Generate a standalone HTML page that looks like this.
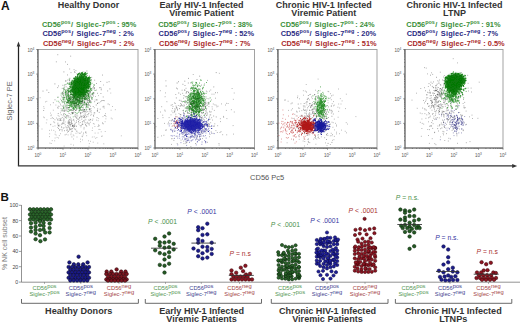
<!DOCTYPE html>
<html><head><meta charset="utf-8"><style>
html,body{margin:0;padding:0;background:#fff;width:520px;height:325px;overflow:hidden}
svg{display:block;font-family:"Liberation Sans", sans-serif}
</style></head><body>
<svg width="520" height="325" viewBox="0 0 520 325">
<text x="1" y="9.8" font-size="12" font-weight="bold" fill="#111">A</text>
<text x="0.5" y="200.9" font-size="11.6" font-weight="bold" fill="#111">B</text>
<text x="88.6" y="7.6" text-anchor="middle" font-size="9" font-weight="bold" fill="#333">Healthy Donor</text>
<text x="201.6" y="7.6" text-anchor="middle" font-size="9" font-weight="bold" fill="#333">Early HIV-1 Infected</text>
<text x="201.6" y="15.8" text-anchor="middle" font-size="9" font-weight="bold" fill="#333">Viremic Patient</text>
<text x="323.8" y="7.6" text-anchor="middle" font-size="9" font-weight="bold" fill="#333">Chronic HIV-1 Infected</text>
<text x="323.8" y="15.8" text-anchor="middle" font-size="9" font-weight="bold" fill="#333">Viremic Patient</text>
<text x="454.5" y="7.6" text-anchor="middle" font-size="9" font-weight="bold" fill="#333">Chronic HIV-1 Infected</text>
<text x="454.5" y="15.8" text-anchor="middle" font-size="9" font-weight="bold" fill="#333">LTNP</text>
<text x="42" y="26.9" font-size="7.4" font-weight="bold" fill="#3a8f3a">CD56<tspan dy="-3.1" font-size="5.4">pos</tspan><tspan dy="3.1" dx="0.4">/</tspan><tspan dx="0.9" letter-spacing="0.18"> Siglec-7</tspan><tspan dy="-3.1" font-size="5.4">pos</tspan><tspan dy="3.1" dx="-0.6"> : 95%</tspan></text>
<text x="42.4" y="35.9" font-size="7.4" font-weight="bold" fill="#2a2a82">CD56<tspan dy="-3.1" font-size="5.4">pos</tspan><tspan dy="3.1" dx="0.4">/</tspan><tspan dx="0.9" letter-spacing="0.18"> Siglec-7</tspan><tspan dy="-3.1" font-size="5.4">neg</tspan><tspan dy="3.1" dx="0.6"> : 2%</tspan></text>
<text x="42.9" y="45.6" font-size="7.4" font-weight="bold" fill="#aa2a2a">CD56<tspan dy="-3.1" font-size="5.4">neg</tspan><tspan dy="3.1" dx="0.4">/</tspan><tspan dx="0.9" letter-spacing="0.18"> Siglec-7</tspan><tspan dy="-3.1" font-size="5.4">neg</tspan><tspan dy="3.1" dx="0.6"> : 2%</tspan></text>
<text x="158.2" y="26.9" font-size="7.4" font-weight="bold" fill="#3a8f3a">CD56<tspan dy="-3.1" font-size="5.4">pos</tspan><tspan dy="3.1" dx="0.4">/</tspan><tspan dx="0.9" letter-spacing="0.18"> Siglec-7</tspan><tspan dy="-3.1" font-size="5.4">pos</tspan><tspan dy="3.1" dx="-0.6"> : 38%</tspan></text>
<text x="158.6" y="35.9" font-size="7.4" font-weight="bold" fill="#2a2a82">CD56<tspan dy="-3.1" font-size="5.4">pos</tspan><tspan dy="3.1" dx="0.4">/</tspan><tspan dx="0.9" letter-spacing="0.18"> Siglec-7</tspan><tspan dy="-3.1" font-size="5.4">neg</tspan><tspan dy="3.1" dx="0.6"> : 52%</tspan></text>
<text x="159.1" y="45.6" font-size="7.4" font-weight="bold" fill="#aa2a2a">CD56<tspan dy="-3.1" font-size="5.4">neg</tspan><tspan dy="3.1" dx="0.4">/</tspan><tspan dx="0.9" letter-spacing="0.18"> Siglec-7</tspan><tspan dy="-3.1" font-size="5.4">neg</tspan><tspan dy="3.1" dx="0.6"> : 7%</tspan></text>
<text x="280.3" y="26.9" font-size="7.4" font-weight="bold" fill="#3a8f3a">CD56<tspan dy="-3.1" font-size="5.4">pos</tspan><tspan dy="3.1" dx="0.4">/</tspan><tspan dx="0.9" letter-spacing="0.18"> Siglec-7</tspan><tspan dy="-3.1" font-size="5.4">pos</tspan><tspan dy="3.1" dx="-0.6"> : 24%</tspan></text>
<text x="280.7" y="35.9" font-size="7.4" font-weight="bold" fill="#2a2a82">CD56<tspan dy="-3.1" font-size="5.4">pos</tspan><tspan dy="3.1" dx="0.4">/</tspan><tspan dx="0.9" letter-spacing="0.18"> Siglec-7</tspan><tspan dy="-3.1" font-size="5.4">neg</tspan><tspan dy="3.1" dx="0.6"> : 20%</tspan></text>
<text x="281.2" y="45.6" font-size="7.4" font-weight="bold" fill="#aa2a2a">CD56<tspan dy="-3.1" font-size="5.4">neg</tspan><tspan dy="3.1" dx="0.4">/</tspan><tspan dx="0.9" letter-spacing="0.18"> Siglec-7</tspan><tspan dy="-3.1" font-size="5.4">neg</tspan><tspan dy="3.1" dx="0.6"> : 51%</tspan></text>
<text x="406.3" y="26.9" font-size="7.4" font-weight="bold" fill="#3a8f3a">CD56<tspan dy="-3.1" font-size="5.4">pos</tspan><tspan dy="3.1" dx="0.4">/</tspan><tspan dx="0.9" letter-spacing="0.18"> Siglec-7</tspan><tspan dy="-3.1" font-size="5.4">pos</tspan><tspan dy="3.1" dx="-0.6"> : 91%</tspan></text>
<text x="406.7" y="35.9" font-size="7.4" font-weight="bold" fill="#2a2a82">CD56<tspan dy="-3.1" font-size="5.4">pos</tspan><tspan dy="3.1" dx="0.4">/</tspan><tspan dx="0.9" letter-spacing="0.18"> Siglec-7</tspan><tspan dy="-3.1" font-size="5.4">neg</tspan><tspan dy="3.1" dx="0.6"> : 7%</tspan></text>
<text x="407.2" y="45.6" font-size="7.4" font-weight="bold" fill="#aa2a2a">CD56<tspan dy="-3.1" font-size="5.4">neg</tspan><tspan dy="3.1" dx="0.4">/</tspan><tspan dx="0.9" letter-spacing="0.18"> Siglec-7</tspan><tspan dy="-3.1" font-size="5.4">neg</tspan><tspan dy="3.1" dx="0.6"> : 0.5%</tspan></text>
<rect x="38" y="49.5" width="100" height="98.5" fill="none" stroke="#999" stroke-width="0.9"/>
<line x1="38" y1="49.1" x2="38" y2="148.4" stroke="#666" stroke-width="1.05"/>
<line x1="38" y1="148" x2="138" y2="148" stroke="#555" stroke-width="0.9"/>
<path d="M38 148.0h-1.8M38.0 148v1.8M38 140.6h-1M45.5 148v1M38 136.3h-1M49.9 148v1M38 133.2h-1M53.1 148v1M38 130.8h-1M55.5 148v1M38 128.8h-1M57.5 148v1M38 127.2h-1M59.1 148v1M38 125.8h-1M60.6 148v1M38 124.5h-1M61.9 148v1M38 123.4h-1.8M63.0 148v1.8M38 116.0h-1M70.5 148v1M38 111.6h-1M74.9 148v1M38 108.5h-1M78.1 148v1M38 106.2h-1M80.5 148v1M38 104.2h-1M82.5 148v1M38 102.6h-1M84.1 148v1M38 101.1h-1M85.6 148v1M38 99.9h-1M86.9 148v1M38 98.8h-1.8M88.0 148v1.8M38 91.3h-1M95.5 148v1M38 87.0h-1M99.9 148v1M38 83.9h-1M103.1 148v1M38 81.5h-1M105.5 148v1M38 79.6h-1M107.5 148v1M38 77.9h-1M109.1 148v1M38 76.5h-1M110.6 148v1M38 75.3h-1M111.9 148v1M38 74.1h-1.8M113.0 148v1.8M38 66.7h-1M120.5 148v1M38 62.4h-1M124.9 148v1M38 59.3h-1M128.1 148v1M38 56.9h-1M130.5 148v1M38 55.0h-1M132.5 148v1M38 53.3h-1M134.1 148v1M38 51.9h-1M135.6 148v1M38 50.6h-1M136.9 148v1M38 49.5h-1.8M138 148v1.8" stroke="#555" stroke-width="0.6" fill="none"/>
<text x="34.3" y="150.0" text-anchor="end" font-size="4.5" fill="#555">10<tspan dy="-1.8" font-size="3.2">0</tspan></text>
<text x="38.0" y="157.2" text-anchor="middle" font-size="4.5" fill="#555">10<tspan dy="-1.8" font-size="3.2">0</tspan></text>
<text x="34.3" y="125.4" text-anchor="end" font-size="4.5" fill="#555">10<tspan dy="-1.8" font-size="3.2">1</tspan></text>
<text x="63.0" y="157.2" text-anchor="middle" font-size="4.5" fill="#555">10<tspan dy="-1.8" font-size="3.2">1</tspan></text>
<text x="34.3" y="100.8" text-anchor="end" font-size="4.5" fill="#555">10<tspan dy="-1.8" font-size="3.2">2</tspan></text>
<text x="88.0" y="157.2" text-anchor="middle" font-size="4.5" fill="#555">10<tspan dy="-1.8" font-size="3.2">2</tspan></text>
<text x="34.3" y="76.1" text-anchor="end" font-size="4.5" fill="#555">10<tspan dy="-1.8" font-size="3.2">3</tspan></text>
<text x="113.0" y="157.2" text-anchor="middle" font-size="4.5" fill="#555">10<tspan dy="-1.8" font-size="3.2">3</tspan></text>
<text x="34.3" y="51.5" text-anchor="end" font-size="4.5" fill="#555">10<tspan dy="-1.8" font-size="3.2">4</tspan></text>
<text x="138.0" y="157.2" text-anchor="middle" font-size="4.5" fill="#555">10<tspan dy="-1.8" font-size="3.2">4</tspan></text>
<rect x="155" y="49.5" width="99.5" height="98.5" fill="none" stroke="#999" stroke-width="0.9"/>
<line x1="155" y1="49.1" x2="155" y2="148.4" stroke="#666" stroke-width="1.05"/>
<line x1="155" y1="148" x2="254.5" y2="148" stroke="#555" stroke-width="0.9"/>
<path d="M155 148.0h-1.8M155.0 148v1.8M155 140.6h-1M162.5 148v1M155 136.3h-1M166.9 148v1M155 133.2h-1M170.0 148v1M155 130.8h-1M172.4 148v1M155 128.8h-1M174.4 148v1M155 127.2h-1M176.0 148v1M155 125.8h-1M177.5 148v1M155 124.5h-1M178.7 148v1M155 123.4h-1.8M179.9 148v1.8M155 116.0h-1M187.4 148v1M155 111.6h-1M191.7 148v1M155 108.5h-1M194.9 148v1M155 106.2h-1M197.3 148v1M155 104.2h-1M199.2 148v1M155 102.6h-1M200.9 148v1M155 101.1h-1M202.3 148v1M155 99.9h-1M203.6 148v1M155 98.8h-1.8M204.8 148v1.8M155 91.3h-1M212.2 148v1M155 87.0h-1M216.6 148v1M155 83.9h-1M219.7 148v1M155 81.5h-1M222.1 148v1M155 79.6h-1M224.1 148v1M155 77.9h-1M225.8 148v1M155 76.5h-1M227.2 148v1M155 75.3h-1M228.5 148v1M155 74.1h-1.8M229.6 148v1.8M155 66.7h-1M237.1 148v1M155 62.4h-1M241.5 148v1M155 59.3h-1M244.6 148v1M155 56.9h-1M247.0 148v1M155 55.0h-1M249.0 148v1M155 53.3h-1M250.6 148v1M155 51.9h-1M252.1 148v1M155 50.6h-1M253.4 148v1M155 49.5h-1.8M254.5 148v1.8" stroke="#555" stroke-width="0.6" fill="none"/>
<text x="151.3" y="150.0" text-anchor="end" font-size="4.5" fill="#555">10<tspan dy="-1.8" font-size="3.2">0</tspan></text>
<text x="155.0" y="157.2" text-anchor="middle" font-size="4.5" fill="#555">10<tspan dy="-1.8" font-size="3.2">0</tspan></text>
<text x="151.3" y="125.4" text-anchor="end" font-size="4.5" fill="#555">10<tspan dy="-1.8" font-size="3.2">1</tspan></text>
<text x="179.9" y="157.2" text-anchor="middle" font-size="4.5" fill="#555">10<tspan dy="-1.8" font-size="3.2">1</tspan></text>
<text x="151.3" y="100.8" text-anchor="end" font-size="4.5" fill="#555">10<tspan dy="-1.8" font-size="3.2">2</tspan></text>
<text x="204.8" y="157.2" text-anchor="middle" font-size="4.5" fill="#555">10<tspan dy="-1.8" font-size="3.2">2</tspan></text>
<text x="151.3" y="76.1" text-anchor="end" font-size="4.5" fill="#555">10<tspan dy="-1.8" font-size="3.2">3</tspan></text>
<text x="229.6" y="157.2" text-anchor="middle" font-size="4.5" fill="#555">10<tspan dy="-1.8" font-size="3.2">3</tspan></text>
<text x="151.3" y="51.5" text-anchor="end" font-size="4.5" fill="#555">10<tspan dy="-1.8" font-size="3.2">4</tspan></text>
<text x="254.5" y="157.2" text-anchor="middle" font-size="4.5" fill="#555">10<tspan dy="-1.8" font-size="3.2">4</tspan></text>
<rect x="278" y="49.5" width="99" height="98.5" fill="none" stroke="#999" stroke-width="0.9"/>
<line x1="278" y1="49.1" x2="278" y2="148.4" stroke="#666" stroke-width="1.05"/>
<line x1="278" y1="148" x2="377" y2="148" stroke="#555" stroke-width="0.9"/>
<path d="M278 148.0h-1.8M278.0 148v1.8M278 140.6h-1M285.5 148v1M278 136.3h-1M289.8 148v1M278 133.2h-1M292.9 148v1M278 130.8h-1M295.3 148v1M278 128.8h-1M297.3 148v1M278 127.2h-1M298.9 148v1M278 125.8h-1M300.4 148v1M278 124.5h-1M301.6 148v1M278 123.4h-1.8M302.8 148v1.8M278 116.0h-1M310.2 148v1M278 111.6h-1M314.6 148v1M278 108.5h-1M317.7 148v1M278 106.2h-1M320.0 148v1M278 104.2h-1M322.0 148v1M278 102.6h-1M323.7 148v1M278 101.1h-1M325.1 148v1M278 99.9h-1M326.4 148v1M278 98.8h-1.8M327.5 148v1.8M278 91.3h-1M335.0 148v1M278 87.0h-1M339.3 148v1M278 83.9h-1M342.4 148v1M278 81.5h-1M344.8 148v1M278 79.6h-1M346.8 148v1M278 77.9h-1M348.4 148v1M278 76.5h-1M349.9 148v1M278 75.3h-1M351.1 148v1M278 74.1h-1.8M352.2 148v1.8M278 66.7h-1M359.7 148v1M278 62.4h-1M364.1 148v1M278 59.3h-1M367.2 148v1M278 56.9h-1M369.5 148v1M278 55.0h-1M371.5 148v1M278 53.3h-1M373.2 148v1M278 51.9h-1M374.6 148v1M278 50.6h-1M375.9 148v1M278 49.5h-1.8M377 148v1.8" stroke="#555" stroke-width="0.6" fill="none"/>
<text x="274.3" y="150.0" text-anchor="end" font-size="4.5" fill="#555">10<tspan dy="-1.8" font-size="3.2">0</tspan></text>
<text x="278.0" y="157.2" text-anchor="middle" font-size="4.5" fill="#555">10<tspan dy="-1.8" font-size="3.2">0</tspan></text>
<text x="274.3" y="125.4" text-anchor="end" font-size="4.5" fill="#555">10<tspan dy="-1.8" font-size="3.2">1</tspan></text>
<text x="302.8" y="157.2" text-anchor="middle" font-size="4.5" fill="#555">10<tspan dy="-1.8" font-size="3.2">1</tspan></text>
<text x="274.3" y="100.8" text-anchor="end" font-size="4.5" fill="#555">10<tspan dy="-1.8" font-size="3.2">2</tspan></text>
<text x="327.5" y="157.2" text-anchor="middle" font-size="4.5" fill="#555">10<tspan dy="-1.8" font-size="3.2">2</tspan></text>
<text x="274.3" y="76.1" text-anchor="end" font-size="4.5" fill="#555">10<tspan dy="-1.8" font-size="3.2">3</tspan></text>
<text x="352.2" y="157.2" text-anchor="middle" font-size="4.5" fill="#555">10<tspan dy="-1.8" font-size="3.2">3</tspan></text>
<text x="274.3" y="51.5" text-anchor="end" font-size="4.5" fill="#555">10<tspan dy="-1.8" font-size="3.2">4</tspan></text>
<text x="377.0" y="157.2" text-anchor="middle" font-size="4.5" fill="#555">10<tspan dy="-1.8" font-size="3.2">4</tspan></text>
<rect x="405" y="49.5" width="98" height="98.5" fill="none" stroke="#999" stroke-width="0.9"/>
<line x1="405" y1="49.1" x2="405" y2="148.4" stroke="#666" stroke-width="1.05"/>
<line x1="405" y1="148" x2="503" y2="148" stroke="#555" stroke-width="0.9"/>
<path d="M405 148.0h-1.8M405.0 148v1.8M405 140.6h-1M412.4 148v1M405 136.3h-1M416.7 148v1M405 133.2h-1M419.8 148v1M405 130.8h-1M422.1 148v1M405 128.8h-1M424.1 148v1M405 127.2h-1M425.7 148v1M405 125.8h-1M427.1 148v1M405 124.5h-1M428.4 148v1M405 123.4h-1.8M429.5 148v1.8M405 116.0h-1M436.9 148v1M405 111.6h-1M441.2 148v1M405 108.5h-1M444.3 148v1M405 106.2h-1M446.6 148v1M405 104.2h-1M448.6 148v1M405 102.6h-1M450.2 148v1M405 101.1h-1M451.6 148v1M405 99.9h-1M452.9 148v1M405 98.8h-1.8M454.0 148v1.8M405 91.3h-1M461.4 148v1M405 87.0h-1M465.7 148v1M405 83.9h-1M468.8 148v1M405 81.5h-1M471.1 148v1M405 79.6h-1M473.1 148v1M405 77.9h-1M474.7 148v1M405 76.5h-1M476.1 148v1M405 75.3h-1M477.4 148v1M405 74.1h-1.8M478.5 148v1.8M405 66.7h-1M485.9 148v1M405 62.4h-1M490.2 148v1M405 59.3h-1M493.3 148v1M405 56.9h-1M495.6 148v1M405 55.0h-1M497.6 148v1M405 53.3h-1M499.2 148v1M405 51.9h-1M500.6 148v1M405 50.6h-1M501.9 148v1M405 49.5h-1.8M503 148v1.8" stroke="#555" stroke-width="0.6" fill="none"/>
<text x="401.3" y="150.0" text-anchor="end" font-size="4.5" fill="#555">10<tspan dy="-1.8" font-size="3.2">0</tspan></text>
<text x="405.0" y="157.2" text-anchor="middle" font-size="4.5" fill="#555">10<tspan dy="-1.8" font-size="3.2">0</tspan></text>
<text x="401.3" y="125.4" text-anchor="end" font-size="4.5" fill="#555">10<tspan dy="-1.8" font-size="3.2">1</tspan></text>
<text x="429.5" y="157.2" text-anchor="middle" font-size="4.5" fill="#555">10<tspan dy="-1.8" font-size="3.2">1</tspan></text>
<text x="401.3" y="100.8" text-anchor="end" font-size="4.5" fill="#555">10<tspan dy="-1.8" font-size="3.2">2</tspan></text>
<text x="454.0" y="157.2" text-anchor="middle" font-size="4.5" fill="#555">10<tspan dy="-1.8" font-size="3.2">2</tspan></text>
<text x="401.3" y="76.1" text-anchor="end" font-size="4.5" fill="#555">10<tspan dy="-1.8" font-size="3.2">3</tspan></text>
<text x="478.5" y="157.2" text-anchor="middle" font-size="4.5" fill="#555">10<tspan dy="-1.8" font-size="3.2">3</tspan></text>
<text x="401.3" y="51.5" text-anchor="end" font-size="4.5" fill="#555">10<tspan dy="-1.8" font-size="3.2">4</tspan></text>
<text x="503.0" y="157.2" text-anchor="middle" font-size="4.5" fill="#555">10<tspan dy="-1.8" font-size="3.2">4</tspan></text>
<defs><filter id="sf" x="-5%" y="-5%" width="110%" height="110%"><feGaussianBlur stdDeviation="0.3"/></filter><filter id="cf" x="-50%" y="-50%" width="200%" height="200%"><feGaussianBlur stdDeviation="1.1"/></filter></defs>
<g filter="url(#sf)">
<path d="M76.6 137.0h0.8M96.8 110.9h0.8M70.9 110.6h0.8M85.7 117.2h0.8M88.7 92.1h0.8M102.6 116.6h0.8M87.6 116.1h0.8M69.6 124.5h0.8M90.0 115.2h0.8M73.4 127.6h0.8M61.2 96.8h0.8M82.7 108.6h0.8M43.4 106.6h0.8M68.1 101.3h0.8M50.6 118.5h0.8M91.3 114.7h0.8M63.4 123.4h0.8M88.2 113.8h0.8M85.3 132.6h0.8M72.5 106.6h0.8M81.9 121.5h0.8M94.7 100.0h0.8M64.8 106.3h0.8M46.5 119.8h0.8M85.0 107.7h0.8M99.6 129.5h0.8M86.7 123.6h0.8M92.2 99.4h0.8M86.4 126.4h0.8M45.9 122.9h0.8M71.7 128.9h0.8M68.5 117.7h0.8M81.8 105.7h0.8M86.2 116.5h0.8M84.4 110.7h0.8M94.5 126.5h0.8M73.0 126.8h0.8M97.4 143.1h0.8M49.2 130.4h0.8M83.9 116.7h0.8M58.9 135.6h0.8M54.6 125.9h0.8M98.1 95.6h0.8M70.9 99.7h0.8M80.1 139.2h0.8M110.4 93.1h0.8M66.2 127.8h0.8M102.8 123.9h0.8M63.3 122.2h0.8M75.7 115.1h0.8M63.5 123.4h0.8M81.2 116.7h0.8M72.2 100.0h0.8M67.7 134.9h0.8M72.8 97.8h0.8M98.7 125.4h0.8M111.8 118.9h0.8M68.2 97.7h0.8M62.0 108.9h0.8M86.1 106.4h0.8M71.4 113.1h0.8M79.3 133.3h0.8M76.4 130.9h0.8M68.9 122.6h0.8M39.7 97.7h0.8M89.5 109.7h0.8M85.9 125.6h0.8M98.5 129.4h0.8M93.3 116.4h0.8M64.1 107.8h0.8M67.7 102.2h0.8M66.7 116.7h0.8M80.3 113.3h0.8M43.3 117.0h0.8M79.8 133.2h0.8M85.8 109.0h0.8M63.7 146.1h0.8M88.9 143.6h0.8M112.2 106.5h0.8M82.5 124.4h0.8M85.5 125.6h0.8M79.4 120.4h0.8M50.5 115.7h0.8M63.3 119.8h0.8M68.1 126.7h0.8M89.9 122.3h0.8M81.4 119.3h0.8M68.4 115.7h0.8M67.6 123.4h0.8M76.2 126.1h0.8M53.4 130.4h0.8M63.0 107.7h0.8M72.6 110.1h0.8M80.9 110.0h0.8M57.8 106.2h0.8M98.3 118.6h0.8M56.2 118.1h0.8M49.5 143.1h0.8M50.1 124.7h0.8M85.2 97.7h0.8M81.1 132.0h0.8M83.9 121.7h0.8M92.1 120.3h0.8M81.7 116.2h0.8M86.7 104.8h0.8M89.5 110.9h0.8M57.5 123.1h0.8M104.8 131.5h0.8M67.2 127.8h0.8M68.3 116.3h0.8M77.5 85.6h0.8M79.3 103.6h0.8M64.1 97.4h0.8M50.2 104.8h0.8M90.0 141.3h0.8M75.6 133.3h0.8M71.5 91.2h0.8M78.5 124.2h0.8M68.7 122.2h0.8M85.7 105.9h0.8M50.9 114.9h0.8M72.4 113.1h0.8M92.8 142.2h0.8M68.9 127.8h0.8M92.0 128.0h0.8M93.8 112.6h0.8M88.6 146.3h0.8M89.7 109.3h0.8M86.3 135.7h0.8M82.3 110.1h0.8M102.2 100.5h0.8M84.6 117.8h0.8M55.7 135.1h0.8M81.9 101.7h0.8M86.2 112.0h0.8M43.7 108.4h0.8M80.5 126.9h0.8M78.8 118.6h0.8M84.0 115.0h0.8M96.0 120.1h0.8M81.0 125.6h0.8M58.0 108.1h0.8M102.0 122.7h0.8M71.2 122.8h0.8M67.8 121.9h0.8M64.7 121.9h0.8M49.2 136.6h0.8M67.3 95.9h0.8M72.2 112.8h0.8M78.6 102.0h0.8M54.3 122.7h0.8M70.7 120.7h0.8M45.2 101.9h0.8M83.8 117.5h0.8M103.8 108.1h0.8M63.0 105.3h0.8M75.4 117.4h0.8M90.4 119.8h0.8M63.1 121.0h0.8M120.9 135.8h0.8M61.1 126.7h0.8M73.1 145.1h0.8M91.8 130.5h0.8M79.2 117.4h0.8M81.8 136.1h0.8M85.1 113.1h0.8M97.7 120.7h0.8M74.7 106.9h0.8M66.4 109.1h0.8M85.6 115.0h0.8M93.8 124.1h0.8M82.3 83.4h0.8M72.0 125.5h0.8M103.4 143.8h0.8M100.2 101.7h0.8M38.6 126.0h0.8M76.5 131.5h0.8M73.9 121.1h0.8M50.5 124.3h0.8M68.4 122.9h0.8M83.8 116.4h0.8M81.4 117.8h0.8M88.9 125.0h0.8M66.7 109.8h0.8M105.6 116.6h0.8M92.9 123.5h0.8M66.4 107.5h0.8M78.0 121.6h0.8M86.4 100.3h0.8M65.9 116.7h0.8M103.2 85.0h0.8M83.5 110.4h0.8M83.3 111.1h0.8M82.2 139.9h0.8M82.0 124.1h0.8M82.3 107.5h0.8M85.2 115.1h0.8M62.2 117.5h0.8M72.1 128.5h0.8M75.3 110.6h0.8M100.8 131.8h0.8M97.6 126.5h0.8M74.1 112.1h0.8M71.3 131.3h0.8M77.9 97.2h0.8M75.3 98.2h0.8M78.8 101.1h0.8M54.5 119.7h0.8M74.7 94.7h0.8M50.8 143.5h0.8M64.3 111.1h0.8M73.0 97.8h0.8M98.1 124.9h0.8M63.2 114.1h0.8M50.2 113.1h0.8M91.9 94.0h0.8M68.6 120.1h0.8M93.8 136.9h0.8M68.2 107.6h0.8M83.7 112.9h0.8M70.7 133.1h0.8M104.7 121.7h0.8M72.7 126.0h0.8M43.9 117.7h0.8M88.2 120.0h0.8M72.7 82.8h0.8M88.1 140.8h0.8M63.6 127.6h0.8M88.3 96.3h0.8M91.9 137.0h0.8M79.9 117.1h0.8M89.4 96.4h0.8M77.6 132.8h0.8M54.9 131.9h0.8M68.9 88.9h0.8M74.2 104.4h0.8M81.4 101.6h0.8M93.9 107.7h0.8M82.1 109.7h0.8M70.5 134.7h0.8M79.7 112.5h0.8M54.7 134.2h0.8M88.5 113.4h0.8M80.1 103.6h0.8M58.7 106.4h0.8M82.0 122.1h0.8M63.3 128.3h0.8M89.3 120.4h0.8M93.7 114.0h0.8M74.1 124.6h0.8M75.4 129.1h0.8M54.7 138.0h0.8M62.7 115.7h0.8M52.6 126.4h0.8M97.7 133.0h0.8M90.2 96.2h0.8M62.7 111.5h0.8M60.1 133.7h0.8M79.1 117.7h0.8M84.3 104.7h0.8M60.6 105.7h0.8M84.5 122.8h0.8M85.8 133.1h0.8M52.9 110.2h0.8M78.5 99.1h0.8M67.0 132.2h0.8M94.7 133.1h0.8M76.7 115.0h0.8M94.4 112.8h0.8M81.8 136.6h0.8M69.8 109.5h0.8M75.8 126.4h0.8M84.2 120.2h0.8M85.5 95.6h0.8M61.4 120.3h0.8M60.2 99.2h0.8M55.5 105.1h0.8M73.0 103.7h0.8M80.0 141.7h0.8M73.5 135.8h0.8M80.9 102.3h0.8M71.6 104.3h0.8M89.1 101.9h0.8M98.5 126.1h0.8M41.6 129.0h0.8M102.4 106.9h0.8M92.7 92.8h0.8M80.3 94.7h0.8M84.2 93.0h0.8M114.9 109.7h0.8M90.1 119.5h0.8M70.5 126.6h0.8M103.9 100.7h0.8M85.6 122.8h0.8M51.8 140.6h0.8M109.1 104.7h0.8M105.5 118.8h0.8M73.2 139.0h0.8M79.9 122.5h0.8M101.8 136.0h0.8M91.2 98.4h0.8M49.3 133.8h0.8M60.2 120.1h0.8M57.7 115.4h0.8M54.3 140.8h0.8M58.7 116.3h0.8M72.8 134.9h0.8M51.9 117.5h0.8M72.4 125.4h0.8M84.0 111.5h0.8M80.1 112.8h0.8M84.0 116.6h0.8M64.9 117.6h0.8M67.6 122.3h0.8M100.9 88.9h0.8M46.4 101.4h0.8M82.7 134.9h0.8M72.2 83.5h0.8M79.1 99.8h0.8M95.0 96.5h0.8M95.3 138.3h0.8M63.0 102.5h0.8M90.4 102.7h0.8M90.7 101.3h0.8M89.7 119.3h0.8M68.6 105.5h0.8M80.0 91.5h0.8M71.3 112.5h0.8M87.5 100.4h0.8M105.1 113.6h0.8M56.7 137.4h0.8M104.3 115.4h0.8M60.9 118.2h0.8M64.3 113.6h0.8M102.5 123.5h0.8M78.5 122.8h0.8M75.0 129.8h0.8M90.9 112.8h0.8M83.2 115.4h0.8M110.8 118.1h0.8M57.3 127.4h0.8M60.7 111.0h0.8M81.5 116.2h0.8M63.0 110.3h0.8M65.9 134.3h0.8M63.7 110.0h0.8M110.7 110.2h0.8M101.3 136.4h0.8M73.4 98.1h0.8M83.7 127.4h0.8M92.5 119.0h0.8M96.5 137.5h0.8M58.1 138.0h0.8M79.0 110.1h0.8M70.6 144.3h0.8M92.7 93.0h0.8M77.4 116.0h0.8M73.0 110.8h0.8M51.2 130.1h0.8M60.0 112.8h0.8M65.8 107.8h0.8M88.6 123.4h0.8M64.5 104.8h0.8M68.0 131.5h0.8M78.1 121.3h0.8M70.4 114.4h0.8M79.7 92.2h0.8M103.4 107.0h0.8" stroke="#666" stroke-width="0.8" fill="none" opacity="0.6"/>
<path d="M64.0 130.7h0.8M69.6 124.2h0.8M63.9 116.2h0.8M69.3 130.0h0.8M61.7 130.8h0.8M60.1 120.3h0.8M71.5 124.0h0.8M72.8 120.3h0.8M60.8 114.7h0.8M59.6 118.6h0.8M58.0 125.5h0.8M63.4 114.1h0.8M85.4 119.8h0.8M59.2 130.2h0.8M76.2 118.2h0.8M57.7 119.0h0.8M75.9 122.4h0.8M62.3 123.9h0.8M76.4 117.1h0.8M65.3 117.1h0.8M83.2 133.1h0.8M74.7 123.3h0.8M72.6 113.5h0.8M69.9 117.3h0.8M58.7 120.5h0.8M65.5 126.9h0.8M72.9 125.3h0.8M61.4 127.4h0.8M67.2 129.9h0.8M61.6 110.2h0.8M64.7 134.8h0.8M71.3 123.0h0.8M74.2 126.5h0.8M71.2 121.4h0.8M68.5 125.0h0.8M63.5 118.4h0.8M69.0 128.8h0.8M72.5 126.5h0.8M71.5 136.9h0.8M69.8 129.2h0.8M81.7 124.3h0.8M69.9 129.2h0.8M79.8 125.6h0.8M70.5 124.5h0.8M59.6 129.6h0.8M66.2 115.4h0.8M67.0 115.4h0.8M61.0 124.1h0.8M61.6 129.4h0.8M57.8 125.3h0.8M71.9 131.3h0.8M74.5 125.2h0.8M68.6 123.7h0.8M76.0 120.8h0.8M71.7 123.6h0.8M69.8 122.7h0.8M83.0 120.8h0.8M69.8 125.4h0.8M72.3 126.3h0.8M71.1 129.0h0.8M57.5 124.1h0.8M59.4 125.2h0.8M59.8 119.3h0.8M67.7 131.0h0.8M72.1 125.5h0.8M77.9 119.3h0.8M53.4 121.9h0.8M66.1 130.2h0.8M83.1 117.4h0.8M85.4 131.9h0.8M74.0 125.9h0.8M85.1 124.5h0.8M64.8 124.8h0.8M58.5 126.4h0.8M67.3 125.7h0.8M70.6 118.8h0.8M77.3 119.0h0.8M74.3 116.1h0.8M70.7 120.0h0.8M68.4 120.8h0.8M52.8 118.5h0.8M68.6 127.2h0.8M57.8 113.5h0.8M62.0 123.0h0.8M63.7 120.0h0.8M74.1 128.9h0.8M73.3 119.4h0.8M68.6 123.1h0.8M58.1 128.5h0.8M68.7 121.7h0.8" stroke="#333" stroke-width="0.8" fill="none" opacity="0.6"/>
<path d="M97.2 103.4h0.8M90.5 108.6h0.8M88.8 79.0h0.8M75.5 106.2h0.8M71.0 94.6h0.8M84.9 111.5h0.8M95.8 105.0h0.8M77.9 105.1h0.8M86.5 92.2h0.8M96.5 100.1h0.8M71.1 109.4h0.8M77.1 101.3h0.8M61.9 93.9h0.8M68.8 82.5h0.8M57.2 119.9h0.8M78.3 97.0h0.8M93.4 92.7h0.8M86.3 77.8h0.8M82.5 89.1h0.8M86.1 96.3h0.8M63.5 71.9h0.8M67.9 103.0h0.8M85.2 98.9h0.8M55.9 61.8h0.8M72.6 90.1h0.8M72.8 98.3h0.8M78.0 79.8h0.8M69.5 95.8h0.8M80.9 93.2h0.8M107.3 90.9h0.8M81.5 82.1h0.8M75.7 100.3h0.8M86.8 92.1h0.8M84.8 94.7h0.8M57.4 54.7h0.8M107.7 104.0h0.8M79.3 73.1h0.8M64.7 110.3h0.8M46.5 90.1h0.8M90.4 95.7h0.8M89.1 92.4h0.8M108.7 81.7h0.8M63.7 97.3h0.8M97.2 93.3h0.8M92.6 87.6h0.8M65.8 110.8h0.8M98.8 112.4h0.8M74.7 80.1h0.8M66.0 91.3h0.8M87.0 100.1h0.8M62.8 96.3h0.8M80.2 95.1h0.8M79.7 91.6h0.8M87.1 95.5h0.8M82.7 85.7h0.8M84.7 92.5h0.8M54.6 99.8h0.8M76.8 105.1h0.8M78.1 92.9h0.8M82.5 93.9h0.8M74.6 72.5h0.8M102.1 75.1h0.8M75.9 101.8h0.8M84.6 100.8h0.8M89.2 109.2h0.8M83.6 128.9h0.8M67.8 96.7h0.8M75.7 87.5h0.8M83.4 111.5h0.8M71.5 85.5h0.8M88.7 100.5h0.8M103.5 106.3h0.8M82.8 90.0h0.8M82.6 91.9h0.8M63.6 94.1h0.8M77.9 91.2h0.8M74.8 114.3h0.8M88.4 105.2h0.8M72.7 81.7h0.8M76.6 96.9h0.8M75.9 91.7h0.8M91.5 97.6h0.8M68.2 88.9h0.8M72.1 96.2h0.8M66.0 91.9h0.8M88.3 94.3h0.8M69.0 86.6h0.8M81.5 99.8h0.8M90.0 92.3h0.8M64.2 111.1h0.8M83.6 98.9h0.8M83.7 81.6h0.8M76.2 97.1h0.8M92.4 94.7h0.8M42.6 91.1h0.8M84.2 109.5h0.8M88.5 123.9h0.8M97.1 110.2h0.8M91.3 77.4h0.8M90.2 101.2h0.8M73.7 101.0h0.8M85.0 88.4h0.8M78.5 90.8h0.8M82.8 88.9h0.8M86.5 71.0h0.8M76.6 73.8h0.8M74.2 100.2h0.8M80.3 92.7h0.8M80.8 112.8h0.8M66.7 104.7h0.8M61.8 88.4h0.8M82.0 83.8h0.8M82.5 102.7h0.8M65.7 93.1h0.8M75.5 70.7h0.8M77.8 84.4h0.8M96.1 83.5h0.8M100.4 87.6h0.8M103.3 100.5h0.8M85.4 103.7h0.8M90.8 110.8h0.8M100.8 89.8h0.8M65.0 61.9h0.8M75.4 103.1h0.8M84.5 95.4h0.8M75.8 86.3h0.8M76.6 98.7h0.8M58.8 102.7h0.8M62.5 92.1h0.8M72.4 89.6h0.8M67.4 80.1h0.8M77.2 80.9h0.8M109.5 88.9h0.8M72.1 87.3h0.8M67.1 64.4h0.8M76.8 97.6h0.8M61.9 94.0h0.8M65.4 93.5h0.8M84.2 99.7h0.8M85.1 85.5h0.8M90.5 88.5h0.8M84.1 102.4h0.8M76.3 78.5h0.8M87.3 80.5h0.8M69.2 80.7h0.8M90.0 91.9h0.8M52.9 102.7h0.8M104.7 115.5h0.8M73.1 94.8h0.8M86.0 104.6h0.8M80.3 80.7h0.8M88.9 101.3h0.8M63.9 89.5h0.8M83.1 93.8h0.8M86.2 103.4h0.8M86.4 92.5h0.8M63.7 101.3h0.8M96.7 117.6h0.8M79.5 93.4h0.8M97.2 111.1h0.8M83.9 102.4h0.8M70.7 100.9h0.8M69.9 92.1h0.8M78.4 88.2h0.8M54.5 83.9h0.8M83.8 93.1h0.8M75.1 99.0h0.8M88.1 104.0h0.8M70.1 94.1h0.8M75.8 83.3h0.8M61.8 92.6h0.8M69.3 119.6h0.8M78.6 91.1h0.8M75.0 116.3h0.8M68.5 91.9h0.8M70.6 92.3h0.8M79.4 107.0h0.8M62.8 93.5h0.8M99.2 87.7h0.8M77.7 83.2h0.8M48.4 92.5h0.8M93.9 88.2h0.8M57.6 97.0h0.8M80.7 105.8h0.8M90.7 90.6h0.8M84.6 72.2h0.8M93.2 96.0h0.8M92.8 106.5h0.8M76.3 92.0h0.8M69.3 69.0h0.8M78.2 95.6h0.8M66.8 102.3h0.8M81.0 99.2h0.8M70.6 72.6h0.8M89.1 101.1h0.8M78.5 88.7h0.8M76.5 92.2h0.8M73.7 69.7h0.8M89.2 75.9h0.8M75.8 90.1h0.8M82.9 74.4h0.8M94.3 101.7h0.8M89.1 109.0h0.8M70.3 56.2h0.8M83.8 109.6h0.8M93.8 87.5h0.8M78.8 97.3h0.8M58.2 85.9h0.8M72.3 112.9h0.8M72.1 112.8h0.8M80.1 73.8h0.8M106.6 82.3h0.8M87.4 114.5h0.8M73.6 79.2h0.8M92.5 94.8h0.8M65.3 81.0h0.8M75.3 105.6h0.8M76.6 101.9h0.8M99.8 109.2h0.8M97.3 108.8h0.8M60.7 108.7h0.8M83.9 92.5h0.8M67.0 74.9h0.8M66.7 93.7h0.8M65.9 84.2h0.8M72.6 102.0h0.8M76.5 92.2h0.8M95.9 90.1h0.8M87.2 81.3h0.8M83.9 95.4h0.8M82.1 88.4h0.8M67.6 90.4h0.8M74.4 106.4h0.8M90.9 79.6h0.8M87.5 88.2h0.8M85.5 88.2h0.8M62.3 106.2h0.8M85.4 79.3h0.8M57.3 87.6h0.8M65.8 89.6h0.8M87.4 111.6h0.8M75.7 110.5h0.8M94.0 88.8h0.8M60.0 104.2h0.8M87.3 122.3h0.8M97.2 103.4h0.8M100.3 81.5h0.8M82.4 90.8h0.8M101.0 100.8h0.8M43.3 110.5h0.8M69.2 103.4h0.8M74.4 97.1h0.8M87.8 96.5h0.8M68.7 110.9h0.8M84.9 94.0h0.8M88.6 87.8h0.8M102.8 96.9h0.8M84.6 98.4h0.8M69.3 80.1h0.8M82.8 98.4h0.8M96.4 99.6h0.8M67.2 100.5h0.8M90.2 106.3h0.8M84.2 79.6h0.8M94.2 85.4h0.8M87.1 75.4h0.8M89.4 84.8h0.8M93.2 115.4h0.8M94.3 80.2h0.8M68.9 83.8h0.8M88.2 98.4h0.8M82.1 97.9h0.8M87.2 102.0h0.8M100.5 93.5h0.8M82.6 71.9h0.8M64.3 85.8h0.8M65.9 96.8h0.8M92.6 88.9h0.8M74.3 88.0h0.8M81.7 87.6h0.8" stroke="#222" stroke-width="0.8" fill="none" opacity="0.55"/>
<path d="M74.4 102.8h0.8M73.9 105.6h0.8M72.2 101.9h0.8M81.7 100.7h0.8M76.4 101.3h0.8M69.5 98.3h0.8M67.5 101.1h0.8M68.7 98.5h0.8M78.7 100.2h0.8M78.3 102.6h0.8M76.7 97.3h0.8M72.8 116.8h0.8M76.5 107.0h0.8M73.3 106.1h0.8M65.6 95.9h0.8M74.3 105.9h0.8M69.7 99.8h0.8M70.0 99.8h0.8M65.4 92.4h0.8M71.5 90.5h0.8M66.6 97.0h0.8M66.1 102.3h0.8M69.5 100.4h0.8M66.3 96.4h0.8M74.7 103.1h0.8M69.3 103.0h0.8M72.9 101.8h0.8M80.6 98.4h0.8M74.2 103.4h0.8M70.6 93.8h0.8M75.6 102.4h0.8M72.1 100.9h0.8M71.9 95.4h0.8M73.4 90.0h0.8M71.6 91.8h0.8M69.8 105.0h0.8M70.3 97.8h0.8M74.6 99.1h0.8M69.5 98.3h0.8M80.0 104.7h0.8M74.4 93.5h0.8M75.1 92.9h0.8M74.3 94.0h0.8M82.4 90.6h0.8M78.4 105.5h0.8M61.9 99.2h0.8M79.6 107.5h0.8M62.5 97.5h0.8M65.2 94.5h0.8M68.1 111.7h0.8M72.4 99.3h0.8M69.8 104.6h0.8M75.5 95.1h0.8M79.7 94.1h0.8M70.1 103.3h0.8M81.1 98.5h0.8M73.2 108.4h0.8M75.1 107.4h0.8M77.4 102.2h0.8M75.1 106.1h0.8M71.5 110.2h0.8M60.7 95.1h0.8M79.6 103.2h0.8M68.1 102.9h0.8M77.6 97.3h0.8M75.9 99.9h0.8M71.0 100.2h0.8M77.8 93.9h0.8M69.6 104.6h0.8M64.9 91.1h0.8M74.8 100.6h0.8M70.8 101.5h0.8M66.3 118.1h0.8M66.2 98.0h0.8M63.8 98.1h0.8M80.0 100.7h0.8M74.9 97.7h0.8M81.6 101.6h0.8M64.8 105.2h0.8M69.6 104.3h0.8M72.4 102.2h0.8M72.4 95.2h0.8M63.4 106.5h0.8M70.9 102.3h0.8M69.1 88.5h0.8M64.6 109.0h0.8M67.3 98.3h0.8M63.6 97.4h0.8M69.6 99.3h0.8M71.2 96.8h0.8M68.5 100.5h0.8M73.4 99.7h0.8M81.2 101.8h0.8M72.5 96.7h0.8M77.3 94.4h0.8M62.7 94.7h0.8M75.0 93.7h0.8M78.7 100.4h0.8M63.3 99.2h0.8M81.4 95.4h0.8M64.4 103.6h0.8M78.8 106.7h0.8M69.8 101.7h0.8M73.4 107.6h0.8M83.4 99.9h0.8M78.8 98.5h0.8M74.8 95.0h0.8M67.4 103.1h0.8M66.7 105.9h0.8M68.6 101.0h0.8M71.1 98.6h0.8M72.3 107.0h0.8M88.7 93.4h0.8M73.3 99.5h0.8M66.6 102.3h0.8M66.8 100.1h0.8M78.4 88.4h0.8M73.0 103.3h0.8M66.3 103.7h0.8M73.5 98.5h0.8M78.3 92.7h0.8M75.1 99.2h0.8M65.8 99.5h0.8M69.7 105.5h0.8M63.4 99.4h0.8M69.1 110.0h0.8M65.5 106.9h0.8M61.9 102.6h0.8M70.8 102.8h0.8M67.7 88.8h0.8M63.1 108.4h0.8M72.7 95.3h0.8M76.5 96.0h0.8M67.5 93.2h0.8M78.0 112.3h0.8M66.2 102.2h0.8M76.9 113.2h0.8M58.3 101.3h0.8M75.1 91.6h0.8M73.7 101.6h0.8M75.5 96.9h0.8M73.8 96.8h0.8M74.8 101.4h0.8M69.4 91.9h0.8M80.5 107.1h0.8M76.3 96.4h0.8M69.5 110.4h0.8M75.6 95.3h0.8M71.7 101.3h0.8M70.4 94.8h0.8M78.4 104.0h0.8M70.4 91.0h0.8M68.3 100.4h0.8M76.3 98.3h0.8M77.6 101.3h0.8M67.4 83.7h0.8M65.1 91.6h0.8M70.7 102.5h0.8M79.2 100.4h0.8M65.2 114.6h0.8M73.3 99.0h0.8M70.1 92.4h0.8M75.1 102.8h0.8M80.3 107.2h0.8M76.4 108.1h0.8M70.1 97.9h0.8M71.4 93.1h0.8M70.9 98.6h0.8M75.3 100.5h0.8M61.2 100.8h0.8M79.5 89.6h0.8M67.5 100.8h0.8M64.4 97.4h0.8M72.0 92.8h0.8M73.3 103.1h0.8M64.7 100.9h0.8M77.7 99.7h0.8M74.1 104.6h0.8M70.5 106.6h0.8M73.9 94.8h0.8M74.6 105.9h0.8M76.2 96.9h0.8M74.3 109.0h0.8M73.1 107.9h0.8M79.0 100.6h0.8M75.5 99.1h0.8M77.7 100.3h0.8M68.8 100.7h0.8M71.5 103.1h0.8M74.4 93.9h0.8M68.3 103.0h0.8M74.5 101.4h0.8M86.4 107.6h0.8M71.5 105.3h0.8M79.3 103.1h0.8M62.3 101.5h0.8M72.2 113.7h0.8M61.9 110.2h0.8M71.1 106.6h0.8M70.4 102.1h0.8M78.2 101.5h0.8M77.8 100.5h0.8M69.8 99.7h0.8M69.3 100.3h0.8M79.5 94.0h0.8M62.9 101.0h0.8M81.3 107.4h0.8M79.4 108.6h0.8M68.1 101.8h0.8M57.5 97.5h0.8M75.4 91.8h0.8M60.8 93.3h0.8M73.3 108.1h0.8M86.4 109.7h0.8M63.8 87.3h0.8M73.0 107.6h0.8M63.3 98.1h0.8M69.7 101.5h0.8M71.3 104.4h0.8M78.1 101.7h0.8M76.4 113.3h0.8M66.7 95.1h0.8M75.1 112.5h0.8M73.3 107.9h0.8M70.7 106.9h0.8M68.9 105.5h0.8M74.6 103.8h0.8M80.0 107.9h0.8M69.2 106.8h0.8M63.1 107.5h0.8M87.6 104.7h0.8M75.3 102.0h0.8M77.1 98.9h0.8M76.3 100.0h0.8M70.3 102.4h0.8M72.3 91.3h0.8M84.1 102.6h0.8M63.3 108.2h0.8M72.5 103.0h0.8M76.6 96.4h0.8M56.5 101.2h0.8M74.0 107.8h0.8M68.5 100.2h0.8M74.9 99.9h0.8M71.3 103.3h0.8M67.2 111.3h0.8M67.6 102.0h0.8M70.9 97.5h0.8M75.6 107.8h0.8M80.7 105.2h0.8" stroke="#238c23" stroke-width="0.8" fill="none" opacity="0.75"/>
<path d="M73.5 100.1h0.9M69.3 91.2h0.9M80.7 100.0h0.9M75.7 79.5h0.9M91.3 94.1h0.9M71.7 80.3h0.9M75.6 103.6h0.9M75.4 103.7h0.9M79.0 98.4h0.9M86.4 93.4h0.9M81.9 91.6h0.9M72.7 97.7h0.9M73.2 92.6h0.9M73.9 91.3h0.9M72.2 101.3h0.9M79.1 94.6h0.9M77.4 97.1h0.9M82.2 97.3h0.9M67.9 105.4h0.9M81.4 92.1h0.9M70.1 94.1h0.9M76.7 88.6h0.9M79.4 95.6h0.9M69.6 101.4h0.9M75.3 82.0h0.9M80.3 95.1h0.9M80.3 90.2h0.9M80.5 88.9h0.9M65.6 95.2h0.9M72.6 89.0h0.9M83.3 95.2h0.9M73.4 92.1h0.9M88.2 94.4h0.9M65.8 98.9h0.9M73.1 89.4h0.9M86.3 89.9h0.9M74.2 95.9h0.9M76.4 94.9h0.9M72.7 89.9h0.9M75.9 78.0h0.9M88.8 100.9h0.9M87.4 87.5h0.9M78.9 91.3h0.9M67.6 94.0h0.9M74.4 89.7h0.9M65.7 97.3h0.9M82.4 98.0h0.9M74.1 86.6h0.9M87.4 93.8h0.9M79.9 94.8h0.9M66.7 102.5h0.9M64.8 90.1h0.9M82.6 79.9h0.9M79.2 98.0h0.9M81.3 86.6h0.9M78.2 103.0h0.9M75.0 107.3h0.9M81.9 101.2h0.9M89.6 91.1h0.9M73.6 95.9h0.9M77.5 106.4h0.9M85.5 97.2h0.9M80.8 91.4h0.9M77.4 88.6h0.9M85.9 91.5h0.9M75.7 93.6h0.9M75.8 90.1h0.9M63.1 91.0h0.9M76.0 94.1h0.9M86.4 79.4h0.9M85.0 79.8h0.9M81.6 98.6h0.9M75.7 95.1h0.9M88.3 94.6h0.9M69.1 102.8h0.9M81.2 93.7h0.9M77.1 96.2h0.9M75.8 95.3h0.9M81.9 89.6h0.9M76.4 96.3h0.9M79.8 100.0h0.9M83.4 98.3h0.9M83.5 92.6h0.9M74.3 102.0h0.9M64.9 92.5h0.9M76.6 107.9h0.9M91.3 90.2h0.9M74.4 79.2h0.9M84.6 92.3h0.9M78.0 95.7h0.9M79.9 98.8h0.9M84.2 81.0h0.9M88.6 91.6h0.9M78.9 88.8h0.9M76.3 92.4h0.9M80.0 84.0h0.9M85.9 90.8h0.9M87.9 95.4h0.9M72.7 95.2h0.9M87.2 88.1h0.9M72.6 104.1h0.9M74.5 84.2h0.9M83.3 84.1h0.9M79.2 99.5h0.9M81.4 97.9h0.9M68.6 95.8h0.9M88.2 90.6h0.9M85.9 92.7h0.9M78.8 96.8h0.9M64.6 101.6h0.9M73.3 90.6h0.9M74.1 95.9h0.9M81.4 94.6h0.9M87.1 99.1h0.9M77.6 90.4h0.9M75.4 84.5h0.9M79.5 103.2h0.9M87.8 107.1h0.9M73.3 93.8h0.9M67.6 96.0h0.9M82.8 89.4h0.9M78.7 91.2h0.9M70.6 102.5h0.9M85.1 97.2h0.9M70.0 110.1h0.9M75.1 95.7h0.9M76.2 97.9h0.9M76.6 98.1h0.9M70.6 89.6h0.9M90.7 88.5h0.9M70.3 102.8h0.9M78.2 102.9h0.9M63.5 89.2h0.9M74.3 79.3h0.9M77.9 103.9h0.9M72.0 81.0h0.9M75.2 91.0h0.9M83.6 91.9h0.9M77.2 104.3h0.9M72.5 85.8h0.9M89.6 91.0h0.9M79.7 81.5h0.9M71.6 97.0h0.9M77.0 80.8h0.9M69.3 105.9h0.9M81.4 89.1h0.9M78.3 97.1h0.9M84.7 79.0h0.9M81.2 92.2h0.9M88.1 84.3h0.9M86.9 91.7h0.9M63.4 99.7h0.9M74.0 94.8h0.9M74.3 101.5h0.9M82.6 104.7h0.9M88.0 81.8h0.9M66.8 90.6h0.9M70.8 94.5h0.9M83.7 82.0h0.9M75.0 81.4h0.9M73.2 89.2h0.9M79.1 105.4h0.9M73.7 86.1h0.9M86.2 103.9h0.9M71.3 91.8h0.9M68.7 107.6h0.9M78.3 95.5h0.9M74.3 81.9h0.9M75.9 86.3h0.9M75.8 95.4h0.9M77.1 101.6h0.9M68.9 91.4h0.9M75.4 106.4h0.9M76.1 95.1h0.9M71.8 94.4h0.9M83.0 88.9h0.9M75.7 91.6h0.9M85.7 85.1h0.9M85.3 92.4h0.9M77.6 86.9h0.9M83.5 90.9h0.9M75.3 99.2h0.9M85.0 87.8h0.9M85.9 98.5h0.9M69.2 98.7h0.9M75.0 98.9h0.9M73.7 94.6h0.9M66.6 92.1h0.9M67.9 90.6h0.9M81.9 98.6h0.9M89.6 87.2h0.9M84.2 109.7h0.9M72.9 83.7h0.9M74.8 91.4h0.9M83.2 92.3h0.9M68.9 98.2h0.9M72.9 101.3h0.9M83.0 91.7h0.9M83.9 102.3h0.9M79.9 78.7h0.9M73.0 96.6h0.9M71.7 106.6h0.9M79.6 95.1h0.9M83.7 86.8h0.9M79.6 87.3h0.9M84.7 91.2h0.9M82.0 80.7h0.9M72.3 97.8h0.9M80.6 89.0h0.9M88.8 96.1h0.9M72.8 101.3h0.9M65.4 93.2h0.9M73.4 83.9h0.9M73.6 92.3h0.9M78.3 95.6h0.9M75.8 104.7h0.9M87.6 102.7h0.9M84.6 91.7h0.9M69.5 95.1h0.9M76.2 99.9h0.9M70.0 90.2h0.9M89.1 84.2h0.9M80.7 75.4h0.9M78.3 95.6h0.9M72.7 102.4h0.9M87.7 96.3h0.9M77.8 90.2h0.9M71.7 102.4h0.9M81.0 90.9h0.9M75.4 96.8h0.9M74.9 94.6h0.9M74.3 103.8h0.9M90.3 84.4h0.9M75.4 98.3h0.9M73.2 98.4h0.9M79.0 98.6h0.9M77.2 95.3h0.9M86.3 82.5h0.9M75.4 82.6h0.9M88.8 99.5h0.9M80.5 95.3h0.9M77.3 85.8h0.9M85.2 92.1h0.9M88.4 98.4h0.9M79.8 91.5h0.9M77.9 93.1h0.9M70.1 92.3h0.9M85.8 87.5h0.9M75.7 87.9h0.9M78.5 92.2h0.9M78.3 95.3h0.9M85.6 90.9h0.9M81.8 91.4h0.9M80.2 85.5h0.9M71.8 94.8h0.9M82.1 98.6h0.9M73.2 94.0h0.9M77.5 95.2h0.9M87.5 92.6h0.9M86.2 91.9h0.9M83.3 91.2h0.9M76.3 105.6h0.9M76.1 86.8h0.9M75.5 94.9h0.9M67.0 83.1h0.9M69.8 85.0h0.9M81.5 85.6h0.9M79.6 76.7h0.9M82.0 87.7h0.9M82.7 104.3h0.9M74.0 88.3h0.9M76.8 99.5h0.9M67.8 88.8h0.9M91.2 97.1h0.9M80.1 93.9h0.9M68.0 98.1h0.9M79.9 95.4h0.9M81.1 101.5h0.9M64.7 92.7h0.9M74.3 93.3h0.9M76.5 84.8h0.9M85.0 95.7h0.9M77.6 90.5h0.9M79.3 93.6h0.9M75.0 99.0h0.9M90.4 89.4h0.9M91.2 99.0h0.9M83.5 90.6h0.9M70.6 103.7h0.9M77.6 92.4h0.9M81.4 110.3h0.9M69.4 88.7h0.9M73.4 108.3h0.9M78.7 101.7h0.9M87.3 94.1h0.9M86.5 90.4h0.9M78.0 100.8h0.9M79.6 103.7h0.9M73.5 105.1h0.9M81.5 93.0h0.9M77.0 102.1h0.9M80.1 95.1h0.9M68.0 94.8h0.9M73.8 109.2h0.9M79.2 93.7h0.9M72.8 98.7h0.9M79.7 88.3h0.9M79.0 85.2h0.9M88.9 90.5h0.9M89.2 86.4h0.9M75.6 103.2h0.9M83.5 91.3h0.9M79.3 89.2h0.9M73.3 104.8h0.9M73.9 93.0h0.9M70.0 102.7h0.9M75.5 101.1h0.9M84.5 91.3h0.9M80.9 103.8h0.9M69.4 97.5h0.9M87.2 85.4h0.9M83.8 91.0h0.9M84.3 96.1h0.9M68.1 100.6h0.9M80.6 85.9h0.9M82.3 87.0h0.9M81.9 95.1h0.9M74.7 99.1h0.9M67.8 99.4h0.9M81.1 92.9h0.9M72.6 97.3h0.9M78.5 92.8h0.9M87.2 93.6h0.9M76.2 97.5h0.9M86.6 96.0h0.9M80.0 95.4h0.9M79.6 108.4h0.9M73.3 91.3h0.9M77.0 99.3h0.9M89.1 98.1h0.9M77.2 104.3h0.9M73.1 85.4h0.9M76.1 93.5h0.9M82.1 91.0h0.9M92.8 93.1h0.9M74.5 102.9h0.9M84.2 96.3h0.9M79.2 102.1h0.9M77.1 99.8h0.9M72.7 92.9h0.9M70.7 83.3h0.9M67.7 101.8h0.9M75.1 95.8h0.9M73.5 90.6h0.9M79.7 86.8h0.9M89.6 83.0h0.9M73.4 92.6h0.9M68.6 90.3h0.9M65.5 95.1h0.9M81.1 78.0h0.9M74.9 78.1h0.9M74.5 100.3h0.9M79.7 83.4h0.9M72.9 92.8h0.9M91.5 83.3h0.9M73.8 102.7h0.9M74.4 82.0h0.9M79.3 88.9h0.9M76.8 88.3h0.9M80.0 86.0h0.9M80.9 94.2h0.9M66.4 105.8h0.9M67.9 96.3h0.9M72.6 94.6h0.9M79.6 101.8h0.9M90.7 90.1h0.9M77.3 80.5h0.9M76.4 99.9h0.9M87.3 97.7h0.9M76.0 92.4h0.9M84.3 96.0h0.9M68.3 96.9h0.9M69.4 83.4h0.9M86.4 98.8h0.9M80.0 95.2h0.9M85.9 95.9h0.9M64.9 91.0h0.9M86.3 106.1h0.9M75.9 92.0h0.9M76.4 102.2h0.9M76.2 84.7h0.9M74.1 93.3h0.9M81.7 91.2h0.9M86.9 87.3h0.9M80.3 87.9h0.9M68.3 101.3h0.9M79.6 84.7h0.9M82.0 85.7h0.9M80.2 102.1h0.9M88.8 87.6h0.9M72.3 108.5h0.9M73.6 103.6h0.9M93.1 86.2h0.9M84.7 102.9h0.9M79.6 109.7h0.9M81.6 95.6h0.9M83.9 92.5h0.9M88.1 78.6h0.9M92.0 93.7h0.9M81.5 97.7h0.9M79.1 94.9h0.9M84.1 80.6h0.9M71.6 102.2h0.9M75.0 82.6h0.9M89.3 97.5h0.9M78.3 100.6h0.9M82.8 94.4h0.9M71.1 84.2h0.9M64.0 102.8h0.9M76.6 91.2h0.9M80.6 94.5h0.9M84.1 89.8h0.9M75.3 87.9h0.9M75.0 87.1h0.9M76.6 99.6h0.9M70.8 93.2h0.9M70.6 101.6h0.9M70.1 91.2h0.9M87.4 84.1h0.9M78.9 94.8h0.9M73.9 89.6h0.9M84.5 97.7h0.9M76.5 90.6h0.9M77.8 104.6h0.9M81.7 101.1h0.9M93.6 84.6h0.9M76.1 99.2h0.9M71.2 84.5h0.9M74.7 98.4h0.9M67.5 92.0h0.9M82.8 95.9h0.9M75.9 103.5h0.9M80.1 93.4h0.9M74.4 97.5h0.9M74.7 97.6h0.9M75.9 102.4h0.9M73.1 91.8h0.9M79.6 97.2h0.9M84.9 98.9h0.9M78.8 111.0h0.9M87.2 86.6h0.9M67.1 95.0h0.9M75.2 94.5h0.9M73.6 103.1h0.9M89.7 86.9h0.9M81.2 91.3h0.9M68.0 95.1h0.9M76.3 96.2h0.9M87.0 92.4h0.9M67.1 100.2h0.9M76.4 92.7h0.9M75.7 92.9h0.9M76.1 94.0h0.9M83.9 84.1h0.9M68.5 84.1h0.9M79.4 86.2h0.9M74.6 83.0h0.9M76.2 91.0h0.9M69.3 84.5h0.9M81.1 92.7h0.9M70.5 86.7h0.9M76.1 98.8h0.9M65.7 94.3h0.9M74.8 93.2h0.9M85.4 87.4h0.9M73.4 89.9h0.9M84.7 90.1h0.9M71.1 83.7h0.9M77.5 102.8h0.9M76.0 88.8h0.9M77.6 91.1h0.9M73.4 86.8h0.9M79.5 93.9h0.9M81.4 84.6h0.9M76.8 85.6h0.9M81.0 106.6h0.9M76.0 106.0h0.9M77.3 89.6h0.9M69.2 91.3h0.9M75.1 92.2h0.9M82.2 91.8h0.9M71.1 89.6h0.9M77.8 92.7h0.9M83.4 92.5h0.9M71.6 105.7h0.9M85.6 94.5h0.9M73.6 86.9h0.9M78.4 100.3h0.9M80.4 90.3h0.9M80.1 90.0h0.9M68.5 98.4h0.9M75.6 103.3h0.9M74.4 93.8h0.9M88.2 79.7h0.9M67.7 95.8h0.9M84.4 78.7h0.9M76.7 83.0h0.9M70.9 104.1h0.9M69.0 107.7h0.9M79.0 86.7h0.9M86.0 104.3h0.9M82.0 105.4h0.9M69.8 82.7h0.9M80.9 95.9h0.9M84.6 91.2h0.9M80.0 101.4h0.9M79.3 102.0h0.9M81.5 90.0h0.9M79.6 94.8h0.9M68.1 91.7h0.9M78.3 95.2h0.9M73.7 96.0h0.9M84.8 89.4h0.9M78.5 100.4h0.9M86.2 87.9h0.9M71.9 91.2h0.9M75.6 85.1h0.9M84.1 91.0h0.9M73.6 86.6h0.9M70.6 82.0h0.9M77.6 91.8h0.9M73.3 84.4h0.9M72.5 91.7h0.9M81.0 82.4h0.9M84.5 88.5h0.9M83.5 86.2h0.9M80.6 92.2h0.9M77.2 96.5h0.9M80.7 94.8h0.9M83.0 82.8h0.9M84.1 75.0h0.9M64.6 84.6h0.9M72.5 103.7h0.9M79.4 102.7h0.9M75.0 95.2h0.9M84.3 99.4h0.9M80.3 94.2h0.9M74.9 83.3h0.9M67.9 92.4h0.9M78.5 86.7h0.9M82.3 89.0h0.9M79.7 110.2h0.9M83.3 88.3h0.9M84.7 84.5h0.9M90.2 82.1h0.9M76.2 89.8h0.9M79.3 82.9h0.9M80.8 94.0h0.9M69.6 84.7h0.9M77.1 100.7h0.9M75.1 94.9h0.9M74.5 96.7h0.9M76.1 86.8h0.9M75.8 86.0h0.9M80.8 96.3h0.9M75.1 90.2h0.9M74.2 96.9h0.9M78.6 108.7h0.9M82.5 100.4h0.9M76.8 100.7h0.9M76.2 104.8h0.9M70.3 99.3h0.9M81.6 92.4h0.9M76.7 84.4h0.9M86.7 107.0h0.9M78.7 94.8h0.9M79.1 76.7h0.9M68.5 83.9h0.9M80.9 83.3h0.9M82.2 99.0h0.9M84.6 79.4h0.9M77.2 92.2h0.9M89.3 102.5h0.9M71.3 104.8h0.9M84.5 99.2h0.9M77.7 99.7h0.9M87.9 97.0h0.9M75.3 97.1h0.9M75.9 91.9h0.9M76.3 95.2h0.9M79.0 93.8h0.9M76.3 96.3h0.9M72.3 99.6h0.9M66.8 90.6h0.9M85.2 83.9h0.9M71.8 102.5h0.9M80.2 85.6h0.9M77.4 98.1h0.9M92.0 97.9h0.9M81.4 87.8h0.9M78.2 92.6h0.9M81.9 99.2h0.9M74.9 87.4h0.9M90.4 88.6h0.9M78.7 107.8h0.9M82.1 96.6h0.9M86.4 99.1h0.9M79.0 91.4h0.9M84.0 101.3h0.9M89.6 94.0h0.9M77.7 88.8h0.9M82.4 88.1h0.9M83.6 97.9h0.9M77.7 94.0h0.9M74.6 95.1h0.9M67.5 89.6h0.9M81.7 98.5h0.9M81.4 82.4h0.9M84.5 92.6h0.9M78.6 92.3h0.9M77.5 86.1h0.9M78.4 81.2h0.9M80.6 92.2h0.9M90.4 80.9h0.9M86.4 95.2h0.9M79.8 86.1h0.9M77.5 79.1h0.9M85.0 93.4h0.9M80.8 101.3h0.9M75.9 89.9h0.9M73.2 100.3h0.9M78.9 94.6h0.9M83.4 94.1h0.9M94.6 90.5h0.9M82.7 107.2h0.9M68.5 97.1h0.9M77.8 100.6h0.9M69.9 92.1h0.9M73.0 88.0h0.9M88.2 95.3h0.9M68.0 98.4h0.9M78.4 78.9h0.9M85.1 97.7h0.9M83.1 87.4h0.9M88.2 95.4h0.9M68.8 79.2h0.9M73.4 89.7h0.9M85.6 89.0h0.9M68.1 109.2h0.9M80.6 89.0h0.9M82.4 83.1h0.9M79.2 102.0h0.9M71.8 99.6h0.9M75.7 94.6h0.9M76.0 84.8h0.9M68.0 91.2h0.9M77.4 90.3h0.9M74.5 81.0h0.9M73.0 95.2h0.9M82.5 88.3h0.9M75.3 107.7h0.9M73.3 109.4h0.9M77.5 104.7h0.9M71.6 101.1h0.9M70.0 92.1h0.9M82.1 76.2h0.9M66.2 98.8h0.9M78.0 104.5h0.9M81.8 89.0h0.9M76.5 88.2h0.9M76.2 83.5h0.9M85.4 99.5h0.9M75.4 88.0h0.9M83.8 98.3h0.9M83.3 83.6h0.9M78.9 82.8h0.9M63.3 95.5h0.9M77.5 88.9h0.9M70.0 96.7h0.9M90.5 102.6h0.9M88.2 85.2h0.9M79.0 95.1h0.9M88.2 96.6h0.9M72.5 90.1h0.9M71.4 103.4h0.9M81.8 97.2h0.9M77.2 100.1h0.9M77.9 84.4h0.9M62.6 97.9h0.9M79.9 99.2h0.9M73.9 106.3h0.9M68.5 100.1h0.9M74.2 87.2h0.9M70.2 90.7h0.9M75.3 95.6h0.9M78.6 80.3h0.9M78.4 104.4h0.9M83.4 94.1h0.9M86.0 80.2h0.9M72.8 101.2h0.9M83.9 87.0h0.9M84.4 93.8h0.9M87.3 83.3h0.9M74.0 94.1h0.9M78.8 97.9h0.9M78.9 91.1h0.9M79.0 100.8h0.9M69.4 86.6h0.9M76.6 93.5h0.9M88.9 84.6h0.9M86.9 80.2h0.9M75.0 86.8h0.9M78.4 87.2h0.9M76.0 88.8h0.9M82.0 77.4h0.9M70.5 85.9h0.9M79.0 102.0h0.9M72.7 92.3h0.9M82.5 95.5h0.9M71.8 89.5h0.9M82.2 81.5h0.9M67.0 99.4h0.9M63.3 88.8h0.9M72.7 103.2h0.9M84.9 87.4h0.9M88.3 91.3h0.9M75.7 98.8h0.9M82.2 86.1h0.9M84.2 98.7h0.9M80.9 103.4h0.9M84.7 104.4h0.9M77.6 93.4h0.9M81.5 92.9h0.9M71.6 107.1h0.9M76.2 109.1h0.9M73.6 90.8h0.9M76.8 88.8h0.9M76.9 91.3h0.9M70.5 106.2h0.9M85.0 88.7h0.9M72.8 97.6h0.9M83.8 89.4h0.9M88.6 83.8h0.9M70.4 105.5h0.9M85.3 94.2h0.9M76.0 84.1h0.9M80.6 88.6h0.9M78.8 91.8h0.9M85.1 80.5h0.9M77.5 89.6h0.9M79.0 85.2h0.9M62.4 92.8h0.9M78.5 107.7h0.9M83.5 91.4h0.9M85.1 84.9h0.9M80.4 92.7h0.9M68.1 100.2h0.9M84.4 99.3h0.9M79.1 108.0h0.9M81.5 82.0h0.9M70.3 96.3h0.9M84.3 81.8h0.9M86.5 97.9h0.9M85.8 105.8h0.9M75.4 92.8h0.9M76.2 84.7h0.9M75.1 96.3h0.9M90.0 89.3h0.9M83.0 95.1h0.9M73.9 101.6h0.9M72.3 103.2h0.9M79.1 85.1h0.9M87.8 83.5h0.9M71.4 89.0h0.9M79.4 91.1h0.9" stroke="#238c23" stroke-width="0.9" fill="none" opacity="0.8"/>
<path d="M62.5 85.3h0.8M81.0 102.1h0.8M69.7 99.6h0.8M78.8 106.4h0.8M71.8 110.3h0.8M75.0 110.2h0.8M84.1 88.3h0.8M74.9 99.9h0.8M84.8 84.9h0.8M73.5 102.9h0.8M80.8 87.9h0.8M70.6 101.2h0.8M69.6 99.4h0.8M84.1 97.4h0.8M57.2 107.8h0.8M85.8 110.0h0.8M83.7 82.2h0.8M87.8 100.4h0.8M84.3 95.9h0.8M75.4 95.2h0.8M89.2 99.8h0.8M75.7 85.8h0.8M80.8 97.4h0.8M78.4 106.2h0.8M82.7 97.3h0.8M78.9 98.1h0.8M82.6 103.5h0.8M78.3 89.6h0.8M83.6 105.4h0.8M69.3 100.8h0.8M74.4 77.7h0.8M76.9 105.8h0.8M71.8 90.9h0.8M84.8 87.4h0.8M70.2 94.4h0.8M81.9 102.9h0.8M73.2 94.4h0.8M77.8 93.7h0.8M70.7 87.4h0.8M82.5 95.2h0.8M98.6 102.8h0.8M71.6 97.2h0.8M79.7 100.8h0.8M80.5 101.3h0.8M76.1 103.0h0.8M93.5 93.2h0.8M74.3 103.6h0.8M86.5 104.5h0.8M86.3 96.8h0.8M75.4 103.1h0.8M82.2 112.2h0.8M88.8 80.8h0.8M83.0 91.2h0.8M61.4 100.7h0.8M75.9 94.0h0.8M67.5 88.0h0.8M75.5 83.7h0.8M76.3 98.1h0.8M76.0 99.8h0.8M76.6 86.7h0.8M69.4 98.3h0.8M84.3 98.4h0.8M73.3 98.6h0.8M63.5 88.1h0.8M74.2 96.5h0.8M74.6 94.6h0.8M68.1 91.9h0.8M78.9 80.5h0.8M68.0 93.9h0.8M88.1 103.1h0.8M88.7 109.0h0.8M73.6 96.4h0.8M68.2 107.5h0.8M82.5 102.3h0.8M82.0 101.1h0.8M78.6 99.5h0.8M86.1 89.9h0.8M69.2 97.0h0.8M85.7 99.2h0.8M75.5 104.5h0.8M77.9 80.0h0.8M69.5 78.3h0.8M75.4 93.0h0.8M80.3 116.0h0.8M72.6 97.1h0.8M74.2 71.8h0.8M71.3 90.6h0.8M79.1 89.5h0.8M67.4 102.3h0.8M76.6 89.0h0.8M71.4 94.4h0.8M83.2 109.8h0.8M67.3 107.5h0.8M77.5 100.3h0.8M84.3 88.4h0.8M83.5 85.4h0.8M73.6 89.4h0.8M89.7 111.8h0.8M82.7 101.7h0.8M73.1 112.7h0.8M87.5 105.2h0.8M76.3 94.0h0.8M76.5 109.0h0.8M70.1 98.2h0.8M89.3 105.1h0.8M90.1 100.9h0.8M80.4 109.6h0.8M82.1 100.3h0.8M73.4 84.0h0.8M88.3 93.6h0.8M71.7 105.1h0.8M70.7 85.3h0.8M73.1 96.8h0.8M79.3 102.0h0.8M84.5 96.4h0.8M80.1 96.4h0.8M72.6 101.0h0.8M80.0 113.9h0.8M81.8 91.2h0.8M81.8 95.2h0.8M89.1 82.3h0.8M72.5 91.6h0.8M78.3 96.3h0.8M65.6 80.9h0.8M78.7 110.5h0.8M88.2 93.9h0.8M80.8 89.8h0.8M66.7 108.4h0.8M82.4 94.5h0.8M74.6 105.6h0.8M79.8 94.5h0.8M79.5 97.4h0.8M74.4 91.1h0.8M84.3 93.3h0.8M68.7 113.5h0.8M86.6 102.2h0.8M76.9 99.2h0.8M66.7 97.3h0.8M79.4 95.7h0.8M80.6 90.7h0.8M78.7 83.6h0.8M77.2 92.0h0.8M67.6 93.9h0.8M77.5 92.1h0.8M84.2 91.2h0.8M84.2 103.8h0.8M72.8 110.0h0.8M67.3 102.0h0.8M77.8 104.1h0.8M65.7 86.8h0.8" stroke="#111" stroke-width="0.8" fill="none" opacity="0.5"/>
<ellipse cx="80" cy="85.5" rx="7.5" ry="10.5" transform="rotate(25 80 85.5)" fill="#0a7a0a" opacity="1" filter="url(#cf)"/>
<path d="M76.4 84.2h1.0M80.4 86.0h1.0M81.0 80.8h1.0M75.4 80.3h1.0M79.3 93.0h1.0M74.8 91.3h1.0M72.0 87.8h1.0M74.7 85.0h1.0M78.8 77.7h1.0M73.6 93.3h1.0M75.4 88.1h1.0M79.8 87.8h1.0M79.5 90.1h1.0M74.8 83.5h1.0M83.2 82.7h1.0M84.5 80.0h1.0M85.1 82.7h1.0M76.5 90.0h1.0M86.3 84.2h1.0M74.4 90.5h1.0M88.6 81.6h1.0M84.0 90.2h1.0M78.5 83.4h1.0M79.4 82.4h1.0M81.2 80.9h1.0M81.1 82.3h1.0M79.2 87.3h1.0M90.0 84.0h1.0M87.9 87.4h1.0M80.4 74.8h1.0M88.1 77.8h1.0M82.9 89.5h1.0M79.5 80.3h1.0M81.6 87.5h1.0M83.2 87.0h1.0M76.3 87.8h1.0M72.5 88.4h1.0M83.5 78.7h1.0M76.6 81.5h1.0M87.3 80.6h1.0M74.6 95.8h1.0M84.7 80.0h1.0M84.2 89.9h1.0M72.3 87.3h1.0M80.4 80.6h1.0M79.1 81.6h1.0M89.9 82.9h1.0M74.4 93.0h1.0M89.3 82.4h1.0M71.7 86.8h1.0M82.4 89.9h1.0M79.1 86.5h1.0M80.3 83.7h1.0M73.7 87.0h1.0M80.8 84.0h1.0M78.4 82.6h1.0M74.4 80.5h1.0M72.0 91.6h1.0M77.2 80.8h1.0M77.7 90.5h1.0M81.9 86.5h1.0M73.3 89.8h1.0M85.8 78.1h1.0M74.9 89.5h1.0M74.3 81.4h1.0M84.7 85.9h1.0M83.1 81.8h1.0M79.1 80.4h1.0M76.6 88.8h1.0M74.5 98.1h1.0M81.6 88.4h1.0M76.1 84.8h1.0M73.8 86.6h1.0M84.0 92.3h1.0M78.7 83.8h1.0M78.6 93.9h1.0M79.5 82.1h1.0M84.1 89.1h1.0M80.1 89.2h1.0M77.1 83.0h1.0M85.0 86.7h1.0M78.3 87.0h1.0M76.1 84.8h1.0M85.9 77.2h1.0M81.7 93.0h1.0M84.1 86.1h1.0M81.8 85.9h1.0M83.7 87.2h1.0M87.3 78.7h1.0M77.1 90.1h1.0M76.7 81.4h1.0M77.5 80.5h1.0M82.3 75.3h1.0M76.2 90.8h1.0M74.9 82.3h1.0M82.8 85.5h1.0M78.3 83.3h1.0M77.7 90.8h1.0M89.1 79.7h1.0M77.9 90.1h1.0M86.6 83.5h1.0M69.5 88.0h1.0M80.4 87.9h1.0M74.0 80.4h1.0M81.1 84.9h1.0M79.3 94.8h1.0M82.9 96.5h1.0M74.3 96.1h1.0M78.6 91.4h1.0M83.1 76.2h1.0M77.1 84.1h1.0M88.4 77.7h1.0M71.6 83.6h1.0M82.4 84.5h1.0M82.4 74.4h1.0M81.8 80.7h1.0M79.1 92.4h1.0M76.4 87.0h1.0M78.7 90.3h1.0M84.7 92.8h1.0M80.7 92.0h1.0M78.2 84.6h1.0M77.9 94.0h1.0M75.4 83.1h1.0M74.1 78.7h1.0M86.4 80.3h1.0M79.3 90.9h1.0M85.1 94.3h1.0M80.8 85.2h1.0M81.8 88.7h1.0M81.5 76.9h1.0M86.7 83.1h1.0M76.5 90.0h1.0M76.4 92.6h1.0M72.9 88.1h1.0M78.7 73.4h1.0M75.1 84.2h1.0M81.1 75.5h1.0M88.0 81.9h1.0M78.8 86.9h1.0M76.9 86.9h1.0M83.0 86.1h1.0M86.2 83.9h1.0M74.8 84.7h1.0M74.7 85.9h1.0M80.9 82.4h1.0M80.9 90.1h1.0M79.2 88.9h1.0M81.0 77.2h1.0M78.5 90.1h1.0M75.0 89.5h1.0M75.0 84.2h1.0M74.9 86.4h1.0M79.0 95.0h1.0M77.2 92.3h1.0M83.1 83.3h1.0M88.2 84.7h1.0M86.2 82.0h1.0M82.9 82.6h1.0M83.8 75.7h1.0M85.5 76.1h1.0M80.5 88.6h1.0M77.3 79.9h1.0M84.8 85.1h1.0M80.8 77.2h1.0M78.6 81.4h1.0M83.8 76.2h1.0M78.0 88.9h1.0M85.2 78.3h1.0M81.2 92.2h1.0M84.9 78.3h1.0M73.5 82.7h1.0M79.5 74.9h1.0M81.2 93.1h1.0M78.9 95.1h1.0M87.3 80.0h1.0M84.6 88.6h1.0M77.3 96.3h1.0M77.3 96.4h1.0M81.4 83.2h1.0M77.3 83.2h1.0M72.9 81.7h1.0M81.1 81.9h1.0M85.9 80.8h1.0M88.1 83.7h1.0M85.8 77.1h1.0M77.9 82.8h1.0M77.5 97.3h1.0M88.5 78.2h1.0M80.5 84.4h1.0M75.5 87.9h1.0M88.2 85.8h1.0M80.7 96.6h1.0M86.5 90.8h1.0M86.7 90.6h1.0M83.1 92.0h1.0M75.5 85.4h1.0M80.7 82.0h1.0M77.3 78.2h1.0M71.3 90.2h1.0M71.2 82.0h1.0M81.0 76.3h1.0M85.5 81.9h1.0M85.8 86.8h1.0M81.8 85.4h1.0M80.1 92.8h1.0M78.1 84.5h1.0M89.4 85.4h1.0M89.0 86.7h1.0M82.6 73.7h1.0M81.5 72.7h1.0M75.5 88.7h1.0M81.5 81.6h1.0M77.6 79.1h1.0M77.4 74.5h1.0M87.8 91.0h1.0M74.0 87.9h1.0M88.4 84.5h1.0M83.2 77.3h1.0M83.2 90.7h1.0M87.4 86.3h1.0M78.9 91.1h1.0M77.2 87.9h1.0M77.6 87.9h1.0M86.6 73.3h1.0M84.6 76.6h1.0M81.2 73.2h1.0M84.5 85.1h1.0M74.6 92.6h1.0M83.7 85.6h1.0M79.9 82.6h1.0M85.1 83.0h1.0M77.0 90.9h1.0M84.3 82.7h1.0M82.9 95.7h1.0M88.4 89.0h1.0M77.8 92.6h1.0M81.5 87.3h1.0M80.5 83.4h1.0M79.1 80.1h1.0M82.7 84.4h1.0M73.7 83.0h1.0M83.1 87.6h1.0M80.7 84.8h1.0M83.3 79.2h1.0M88.2 81.3h1.0M74.9 95.0h1.0M84.7 87.7h1.0M81.7 81.7h1.0M78.5 83.0h1.0M87.1 85.5h1.0M81.2 89.4h1.0M82.6 84.6h1.0M82.7 88.1h1.0M81.8 82.8h1.0M84.8 84.0h1.0M78.4 87.1h1.0M73.7 88.2h1.0M80.6 92.5h1.0M83.6 84.0h1.0M81.7 94.6h1.0M83.8 86.8h1.0M72.7 89.8h1.0M80.5 96.2h1.0M83.4 90.5h1.0M76.1 79.4h1.0M83.1 85.7h1.0M83.7 82.3h1.0M75.8 86.2h1.0M83.2 87.4h1.0M80.7 73.4h1.0M78.4 79.5h1.0M86.1 82.8h1.0M81.5 88.7h1.0M74.7 84.5h1.0M75.2 82.3h1.0M83.9 85.7h1.0M77.3 81.2h1.0M78.3 87.4h1.0M82.5 85.8h1.0M79.4 86.9h1.0M80.6 82.4h1.0M78.5 89.9h1.0M81.4 86.3h1.0M74.8 84.9h1.0M77.0 78.9h1.0M80.3 86.5h1.0M82.1 93.2h1.0M83.0 84.4h1.0M80.6 83.9h1.0M86.1 91.8h1.0M79.7 78.9h1.0M87.9 82.5h1.0M81.1 87.3h1.0M87.1 82.1h1.0M81.4 87.7h1.0M79.5 95.6h1.0M81.1 84.3h1.0M87.9 78.4h1.0M83.7 79.7h1.0M79.4 73.2h1.0M70.5 87.4h1.0M83.5 87.9h1.0M84.4 87.8h1.0M81.0 77.8h1.0M80.9 92.2h1.0M87.8 83.1h1.0M82.7 76.6h1.0M82.9 92.3h1.0M82.3 86.5h1.0M80.4 83.0h1.0M86.6 83.9h1.0M83.0 89.2h1.0M79.9 74.6h1.0M76.8 83.8h1.0M72.6 87.0h1.0M83.3 91.3h1.0M79.4 96.7h1.0M76.8 88.1h1.0M80.7 81.1h1.0M85.9 84.2h1.0M78.6 98.2h1.0M74.0 97.2h1.0M71.7 88.8h1.0M82.5 80.8h1.0M84.2 81.8h1.0M86.3 87.8h1.0M83.8 87.1h1.0M87.1 90.7h1.0M76.0 81.4h1.0M88.7 78.2h1.0M74.7 93.0h1.0M83.9 79.7h1.0M82.7 90.3h1.0M87.6 82.1h1.0M73.3 87.3h1.0M75.6 88.4h1.0M73.1 92.2h1.0M78.1 83.9h1.0M75.3 77.2h1.0M77.5 88.8h1.0M77.7 92.6h1.0M82.5 78.6h1.0M82.0 80.7h1.0M82.9 84.2h1.0M84.9 80.8h1.0M84.3 90.6h1.0M88.1 88.3h1.0M77.4 85.3h1.0M81.0 78.0h1.0M80.3 85.1h1.0M78.3 81.7h1.0M75.3 84.4h1.0M77.3 91.6h1.0M73.7 85.2h1.0M76.5 91.5h1.0M88.7 76.9h1.0M89.4 78.3h1.0M86.0 87.9h1.0M72.7 87.6h1.0M83.1 79.3h1.0M75.4 87.0h1.0M76.6 77.2h1.0M80.3 89.1h1.0M81.6 93.1h1.0M87.5 82.9h1.0M87.2 90.8h1.0M73.0 86.6h1.0M85.1 81.0h1.0M77.1 85.1h1.0M81.2 88.8h1.0M81.9 87.9h1.0M81.1 75.1h1.0M79.9 90.5h1.0M75.2 81.2h1.0M78.3 84.2h1.0M81.5 74.1h1.0M75.9 89.2h1.0M85.4 83.0h1.0M81.1 89.3h1.0M78.9 82.3h1.0M83.4 80.2h1.0M81.0 81.7h1.0M72.7 88.6h1.0M81.8 86.6h1.0M87.1 78.5h1.0M85.0 79.0h1.0M72.9 86.1h1.0M77.6 81.7h1.0M85.9 80.2h1.0M76.3 91.3h1.0M87.2 79.1h1.0M74.0 82.8h1.0M79.8 89.2h1.0M78.0 95.1h1.0M74.5 93.6h1.0M80.8 90.1h1.0M76.5 91.5h1.0M74.5 88.8h1.0M86.9 83.7h1.0M78.1 78.9h1.0M78.8 87.9h1.0M86.4 90.8h1.0M81.9 77.2h1.0M82.1 90.7h1.0M79.3 84.1h1.0M78.8 87.7h1.0M82.7 78.6h1.0M78.8 88.9h1.0M82.8 86.6h1.0M75.5 79.9h1.0M74.3 82.2h1.0M81.6 94.6h1.0M84.0 87.7h1.0M85.2 86.0h1.0M71.0 82.6h1.0M85.4 74.6h1.0M74.3 92.5h1.0M73.3 92.8h1.0M83.3 81.4h1.0M70.0 86.9h1.0M87.4 77.5h1.0M74.9 91.9h1.0M75.6 86.7h1.0M86.8 79.6h1.0M77.9 73.8h1.0M83.1 74.8h1.0M77.9 89.0h1.0M88.0 86.3h1.0M85.5 92.6h1.0M77.5 88.6h1.0M83.6 86.6h1.0M83.1 88.8h1.0M80.0 87.7h1.0M83.0 78.5h1.0M80.5 94.6h1.0M87.1 86.2h1.0M78.0 90.8h1.0M80.0 88.0h1.0M80.1 87.9h1.0M78.2 88.3h1.0M74.9 80.0h1.0M74.4 82.4h1.0M75.2 87.7h1.0M89.3 80.4h1.0M75.6 86.3h1.0M84.1 93.7h1.0M82.2 86.3h1.0M76.9 87.3h1.0M81.8 87.8h1.0M82.3 74.3h1.0M77.4 81.6h1.0M74.0 85.4h1.0M74.7 80.9h1.0M79.1 91.7h1.0M77.5 94.0h1.0M79.7 79.5h1.0M87.5 82.3h1.0M84.5 74.3h1.0M82.8 92.6h1.0M82.0 73.0h1.0M80.3 88.0h1.0M81.7 84.8h1.0M79.9 83.3h1.0M76.7 77.1h1.0M84.6 75.0h1.0M70.6 90.8h1.0M74.7 89.4h1.0M84.8 88.0h1.0M84.2 86.2h1.0M76.5 83.2h1.0M80.0 86.6h1.0M81.5 83.3h1.0M85.3 86.6h1.0M75.5 90.8h1.0M75.7 83.7h1.0M86.3 89.2h1.0M87.0 87.0h1.0M78.3 83.7h1.0M78.7 82.4h1.0M75.7 90.0h1.0M82.4 85.3h1.0M75.0 94.4h1.0M77.1 78.7h1.0M88.7 81.3h1.0M75.5 83.3h1.0M77.7 82.5h1.0M78.1 91.7h1.0M80.0 88.1h1.0M84.0 73.3h1.0M72.5 90.6h1.0M80.1 80.4h1.0M73.4 95.1h1.0M81.4 83.6h1.0M80.3 77.4h1.0M81.7 84.2h1.0M87.7 81.6h1.0M73.4 78.3h1.0M82.3 80.2h1.0M81.4 80.4h1.0M76.4 84.9h1.0M83.3 82.3h1.0M85.1 87.6h1.0M82.1 82.8h1.0M80.5 89.3h1.0M85.4 82.1h1.0M84.5 83.6h1.0M78.3 90.9h1.0M88.0 86.2h1.0M74.8 84.6h1.0M86.4 86.3h1.0M83.2 96.5h1.0M87.4 82.9h1.0M82.5 96.2h1.0M86.2 87.1h1.0M75.2 93.8h1.0M82.7 84.4h1.0M75.6 86.0h1.0M72.4 86.9h1.0M85.4 76.4h1.0M78.5 94.6h1.0M85.1 78.0h1.0M74.9 90.1h1.0M75.5 80.9h1.0M85.9 86.5h1.0M75.1 89.9h1.0M86.0 91.8h1.0M84.4 73.9h1.0M77.0 91.6h1.0M83.1 83.1h1.0M80.3 89.9h1.0M84.2 80.8h1.0M79.3 75.9h1.0M82.2 89.5h1.0M81.5 88.1h1.0M86.5 83.6h1.0M82.5 76.9h1.0M76.9 85.1h1.0M76.6 79.3h1.0M77.2 74.8h1.0M77.2 91.1h1.0M77.1 91.3h1.0M84.8 79.4h1.0M85.9 85.1h1.0M81.1 82.1h1.0M77.5 88.3h1.0M75.7 93.1h1.0M77.2 96.9h1.0M76.5 94.4h1.0M85.8 87.5h1.0M83.1 85.8h1.0M80.2 84.8h1.0M84.7 79.4h1.0M82.1 82.3h1.0M85.1 94.4h1.0M79.9 90.9h1.0M75.7 84.7h1.0M84.9 92.2h1.0M78.4 85.4h1.0M78.9 80.4h1.0M70.5 90.3h1.0M85.2 87.7h1.0M74.9 81.9h1.0M79.3 82.1h1.0M87.4 79.7h1.0M83.7 81.4h1.0M82.2 77.7h1.0M83.9 84.1h1.0M74.3 92.0h1.0M81.7 87.6h1.0M86.4 86.9h1.0M83.1 83.6h1.0M84.5 84.4h1.0M76.4 87.9h1.0M83.5 94.4h1.0M83.3 88.0h1.0M77.6 89.2h1.0M72.4 82.8h1.0M76.9 90.3h1.0M85.5 73.8h1.0M77.1 82.2h1.0M71.5 81.1h1.0M75.6 92.3h1.0M81.4 81.8h1.0M79.5 85.9h1.0M87.2 81.9h1.0M83.3 87.8h1.0M77.9 81.5h1.0M83.6 84.0h1.0M84.6 85.3h1.0M84.4 91.6h1.0M72.9 82.3h1.0M75.5 82.7h1.0M83.9 75.0h1.0M84.0 78.6h1.0M88.2 86.5h1.0M74.6 85.5h1.0M76.9 76.7h1.0M77.1 83.3h1.0M88.0 85.2h1.0M77.4 89.2h1.0M84.0 82.5h1.0M73.2 95.3h1.0M83.4 93.2h1.0M81.5 84.3h1.0M70.5 84.1h1.0M82.1 88.9h1.0M72.7 80.8h1.0M81.7 84.8h1.0M79.8 89.8h1.0M85.7 90.4h1.0M79.0 91.6h1.0M80.7 83.8h1.0M81.7 91.1h1.0M80.6 88.5h1.0M76.8 82.3h1.0M72.1 91.4h1.0M82.2 89.0h1.0M82.2 86.1h1.0M83.5 86.4h1.0M78.9 95.6h1.0M83.3 92.9h1.0M84.5 86.4h1.0M83.2 95.1h1.0M88.3 79.7h1.0M81.0 91.8h1.0M71.0 84.1h1.0M74.7 86.6h1.0M77.1 91.5h1.0M80.8 78.0h1.0M83.3 85.3h1.0M84.9 72.7h1.0M76.0 82.8h1.0M79.2 91.6h1.0M75.3 87.5h1.0M86.8 84.9h1.0M85.2 74.0h1.0M80.6 75.2h1.0M83.6 86.1h1.0M86.6 90.4h1.0M82.1 90.9h1.0M84.2 79.3h1.0M87.7 88.7h1.0M73.6 78.3h1.0M71.5 91.3h1.0M80.1 98.1h1.0M74.8 90.1h1.0M76.6 83.3h1.0M75.8 85.0h1.0M81.9 90.3h1.0M80.0 94.0h1.0M82.4 83.8h1.0M81.8 93.3h1.0M78.8 92.3h1.0M85.1 86.1h1.0M73.7 81.6h1.0M77.4 84.6h1.0M83.0 93.7h1.0M77.4 79.4h1.0M77.6 94.6h1.0M79.2 88.0h1.0M74.9 80.2h1.0M76.0 86.1h1.0M81.6 80.1h1.0M74.6 85.4h1.0M73.7 92.4h1.0M81.6 84.7h1.0M87.9 80.2h1.0M86.4 83.3h1.0M85.5 83.1h1.0M78.8 89.2h1.0M83.5 78.4h1.0M79.1 87.9h1.0M72.0 89.5h1.0M81.1 88.8h1.0M81.1 76.9h1.0M79.2 91.9h1.0M81.3 84.7h1.0M75.5 89.4h1.0M87.0 87.8h1.0M72.3 84.2h1.0M75.6 94.1h1.0M84.5 74.6h1.0M74.6 84.1h1.0M82.0 81.3h1.0M82.3 74.3h1.0M75.3 78.5h1.0M77.4 83.4h1.0M77.7 97.3h1.0M90.3 80.1h1.0M79.3 91.6h1.0M82.7 91.3h1.0M73.6 93.2h1.0M81.0 82.6h1.0M82.3 83.5h1.0M76.7 85.4h1.0M81.8 83.3h1.0M85.3 79.1h1.0M81.5 88.9h1.0M79.0 89.4h1.0M77.2 90.0h1.0M80.8 90.9h1.0M77.4 91.9h1.0M75.4 94.1h1.0M75.7 94.2h1.0M81.3 86.4h1.0M73.7 88.1h1.0M81.6 87.2h1.0M81.5 87.8h1.0M79.6 76.6h1.0M82.4 88.6h1.0M81.9 92.0h1.0M82.3 88.0h1.0M81.7 91.6h1.0M79.9 87.1h1.0M81.7 94.1h1.0M81.7 84.9h1.0M80.4 92.6h1.0M85.0 81.5h1.0M78.6 84.5h1.0M74.9 90.6h1.0M83.3 74.4h1.0M78.2 91.8h1.0M79.5 87.1h1.0M79.8 78.5h1.0M83.6 78.7h1.0M81.1 78.7h1.0M76.6 90.7h1.0M76.5 93.3h1.0M82.1 85.9h1.0M75.7 84.7h1.0M72.6 88.5h1.0M78.3 74.1h1.0M81.3 73.2h1.0M82.9 81.1h1.0M76.1 88.9h1.0M78.5 93.3h1.0M82.7 81.8h1.0M81.4 93.8h1.0M75.0 94.4h1.0M84.1 79.7h1.0M79.2 95.9h1.0M71.5 94.6h1.0M80.7 87.3h1.0M87.3 86.6h1.0M80.7 77.5h1.0M82.7 86.5h1.0M80.3 94.6h1.0M80.3 94.5h1.0M85.2 87.5h1.0M79.7 77.8h1.0M85.0 83.8h1.0M78.3 78.2h1.0M78.4 86.7h1.0M82.0 78.4h1.0M75.4 91.6h1.0M77.6 93.7h1.0M78.7 89.4h1.0M81.5 82.6h1.0M78.7 92.4h1.0M75.7 79.3h1.0M75.7 90.7h1.0M87.9 82.3h1.0M75.8 88.0h1.0M78.3 81.0h1.0M84.0 79.2h1.0M77.2 75.3h1.0M83.3 82.7h1.0M75.5 80.3h1.0M79.9 94.8h1.0M85.5 88.6h1.0M80.2 87.6h1.0M81.1 90.4h1.0M77.9 78.4h1.0M76.1 89.0h1.0M80.0 79.2h1.0M80.1 96.8h1.0M76.3 82.5h1.0M86.3 85.0h1.0M88.3 78.0h1.0M77.0 89.0h1.0M83.9 94.6h1.0M73.6 88.8h1.0M79.9 93.7h1.0M84.7 82.9h1.0M81.0 78.7h1.0M87.4 78.8h1.0M79.5 86.9h1.0M87.7 82.8h1.0M84.7 79.5h1.0M85.6 85.0h1.0M81.5 78.4h1.0M79.2 79.7h1.0M73.7 91.4h1.0M74.8 84.7h1.0M87.1 79.6h1.0M75.0 76.8h1.0M78.7 86.8h1.0M80.9 80.1h1.0M83.7 88.7h1.0M79.7 84.7h1.0M81.6 87.8h1.0M74.2 97.9h1.0M77.9 87.7h1.0M82.6 81.7h1.0M89.7 77.6h1.0M78.3 85.2h1.0M79.3 80.9h1.0M84.1 88.4h1.0M79.5 79.0h1.0M82.6 93.5h1.0M82.8 94.4h1.0M87.6 84.1h1.0M79.5 77.1h1.0M80.4 83.9h1.0" stroke="#0a7a0a" stroke-width="1.0" fill="none" opacity="1.0"/>
<path d="M193.4 97.2h0.8M194.4 127.8h0.8M192.8 74.5h0.8M191.0 110.1h0.8M207.2 113.1h0.8M202.3 109.6h0.8M197.0 130.2h0.8M186.8 120.2h0.8M194.2 124.8h0.8M189.4 122.7h0.8M160.0 112.0h0.8M205.6 125.6h0.8M174.9 103.4h0.8M198.2 120.9h0.8M199.3 116.4h0.8M193.2 131.1h0.8M175.4 94.5h0.8M208.7 103.9h0.8M203.1 105.2h0.8M172.5 138.7h0.8M190.1 94.2h0.8M187.5 112.8h0.8M187.7 117.8h0.8M171.5 111.0h0.8M198.9 124.6h0.8M192.6 103.2h0.8M157.5 137.3h0.8M172.1 108.4h0.8M191.4 122.0h0.8M190.7 103.0h0.8M190.5 146.5h0.8M233.9 112.0h0.8M202.2 89.0h0.8M194.9 126.1h0.8M186.1 142.7h0.8M206.2 124.6h0.8M203.5 108.0h0.8M161.3 106.7h0.8M217.3 125.7h0.8M206.1 118.4h0.8M218.9 73.3h0.8M171.1 144.4h0.8M209.4 119.2h0.8M185.6 88.3h0.8M184.2 113.4h0.8M175.7 136.3h0.8M209.1 111.3h0.8M206.9 114.9h0.8M196.1 108.4h0.8M233.8 93.0h0.8M189.1 131.2h0.8M209.1 91.2h0.8M175.4 114.2h0.8M177.9 105.5h0.8M187.3 113.3h0.8M210.4 90.0h0.8M209.6 112.2h0.8M201.6 110.4h0.8M231.7 88.5h0.8M211.9 109.0h0.8M187.7 137.1h0.8M188.2 129.4h0.8M216.5 106.8h0.8M226.3 134.8h0.8M188.0 119.2h0.8M179.6 120.3h0.8M206.7 131.0h0.8M195.7 108.1h0.8M180.9 101.5h0.8M187.1 125.0h0.8M181.9 105.6h0.8M173.8 124.5h0.8M187.4 91.5h0.8M210.8 131.8h0.8M192.2 110.6h0.8M191.2 101.9h0.8M209.0 136.7h0.8M209.4 119.4h0.8M195.8 123.9h0.8M221.0 103.9h0.8M191.5 105.5h0.8M171.2 120.9h0.8M211.1 99.9h0.8M208.6 125.9h0.8M199.8 136.3h0.8M180.6 140.1h0.8M185.7 124.0h0.8M165.5 130.5h0.8M192.3 107.3h0.8M174.3 118.8h0.8M214.4 123.8h0.8M186.0 104.3h0.8M173.9 110.8h0.8M164.4 110.1h0.8M210.3 114.8h0.8M189.0 106.7h0.8M203.8 125.2h0.8M215.8 105.2h0.8M172.6 106.5h0.8M170.6 114.8h0.8M184.2 102.6h0.8M190.6 130.6h0.8M203.6 106.1h0.8M192.0 120.2h0.8M202.7 110.3h0.8M169.5 120.6h0.8M174.9 109.9h0.8M186.8 129.3h0.8M183.4 117.9h0.8M187.7 107.2h0.8M206.3 108.5h0.8M199.5 119.7h0.8M159.9 90.7h0.8M195.8 107.6h0.8M182.5 110.6h0.8M180.6 114.8h0.8M190.7 102.1h0.8M215.5 130.6h0.8M233.0 134.1h0.8M211.7 106.8h0.8M186.1 91.9h0.8M184.4 130.2h0.8M184.5 90.4h0.8M218.7 145.1h0.8M217.2 92.7h0.8M205.6 103.2h0.8M189.2 126.1h0.8M217.6 106.2h0.8M185.7 96.7h0.8M191.7 101.0h0.8M183.1 127.1h0.8M191.4 117.4h0.8M196.4 127.7h0.8M215.2 98.2h0.8M164.2 123.4h0.8M203.5 136.6h0.8M205.0 141.7h0.8M200.4 106.1h0.8M208.7 102.3h0.8M179.9 121.8h0.8M187.3 129.7h0.8M185.3 143.2h0.8M174.2 126.3h0.8M183.8 137.0h0.8M181.9 127.3h0.8M219.9 118.7h0.8M193.2 129.2h0.8M232.9 99.3h0.8M190.5 109.0h0.8M203.9 105.3h0.8M165.2 92.9h0.8M203.2 119.1h0.8M206.6 91.8h0.8M176.5 107.7h0.8M206.4 122.6h0.8M189.0 100.8h0.8M195.2 108.8h0.8M207.1 142.3h0.8M194.0 99.1h0.8M232.7 125.6h0.8M201.2 117.8h0.8M195.0 117.4h0.8M196.5 93.5h0.8M179.9 114.7h0.8M194.6 119.0h0.8M199.5 88.6h0.8M175.6 106.0h0.8M194.4 113.2h0.8M225.9 110.4h0.8M188.0 92.7h0.8M223.3 117.3h0.8M190.2 106.4h0.8M193.6 110.8h0.8M212.9 104.0h0.8M184.7 108.1h0.8M202.2 121.1h0.8M209.0 124.3h0.8M201.9 117.0h0.8M207.7 123.5h0.8M197.9 92.0h0.8M184.2 105.8h0.8M161.2 135.9h0.8M216.9 132.5h0.8M202.0 138.6h0.8M163.5 135.3h0.8M157.5 118.5h0.8M194.1 123.8h0.8M203.2 126.8h0.8M180.1 105.9h0.8M177.8 118.0h0.8M186.2 92.0h0.8M208.4 98.8h0.8M183.6 104.8h0.8M179.2 124.7h0.8M180.1 94.3h0.8M180.6 100.4h0.8M165.7 129.7h0.8M211.6 94.2h0.8M218.6 143.5h0.8M168.2 122.2h0.8M187.1 128.4h0.8M185.6 123.1h0.8M207.0 80.4h0.8M191.0 115.9h0.8M202.2 133.0h0.8M204.8 104.3h0.8M204.0 104.5h0.8M205.0 113.3h0.8M188.9 117.9h0.8M164.8 111.1h0.8M171.5 129.9h0.8M213.6 94.2h0.8M182.2 101.9h0.8M230.9 109.7h0.8M174.4 111.7h0.8M196.8 139.6h0.8M197.1 97.1h0.8M183.5 143.6h0.8M162.3 115.2h0.8M212.0 120.0h0.8M188.3 102.6h0.8M194.7 123.8h0.8M195.8 131.4h0.8M195.5 135.4h0.8M194.4 129.7h0.8M186.5 142.3h0.8M213.5 126.5h0.8M175.2 118.9h0.8M194.9 103.1h0.8M194.8 126.1h0.8M223.0 116.4h0.8M165.5 80.8h0.8M189.4 129.7h0.8M211.3 117.7h0.8M181.0 105.6h0.8M189.8 117.6h0.8M202.4 118.0h0.8M226.5 118.6h0.8M200.7 132.0h0.8M208.5 106.6h0.8M164.7 96.7h0.8M198.6 125.2h0.8M198.2 128.2h0.8M214.5 104.8h0.8M205.5 113.8h0.8M196.8 95.3h0.8M192.9 104.2h0.8M190.9 111.6h0.8M227.7 103.5h0.8M197.8 110.4h0.8M219.6 132.5h0.8M166.5 101.7h0.8M197.3 107.2h0.8M200.2 117.7h0.8M174.2 112.0h0.8M200.7 115.4h0.8M194.9 122.1h0.8M190.5 136.8h0.8M171.0 123.6h0.8M183.7 122.6h0.8M207.0 126.1h0.8M204.1 128.0h0.8M201.7 113.1h0.8M205.1 131.2h0.8M207.4 120.8h0.8M197.4 86.6h0.8M178.6 113.5h0.8M209.6 134.5h0.8M195.0 99.5h0.8M200.8 131.3h0.8M205.5 105.9h0.8M174.1 102.9h0.8M174.1 131.5h0.8M220.6 131.6h0.8M180.8 126.3h0.8M200.1 95.2h0.8M170.7 105.3h0.8M213.9 110.4h0.8M168.7 117.6h0.8M202.6 98.0h0.8M225.0 105.0h0.8M210.4 126.6h0.8M179.8 114.5h0.8M192.5 110.8h0.8M205.1 117.1h0.8M162.6 117.6h0.8M172.6 112.6h0.8M196.2 114.5h0.8M209.6 115.0h0.8M183.3 141.1h0.8M204.7 114.1h0.8M192.3 110.1h0.8M193.6 101.6h0.8M222.3 134.7h0.8M191.3 106.3h0.8M155.6 126.6h0.8M171.7 126.4h0.8M199.9 139.0h0.8M176.8 143.6h0.8M171.1 138.7h0.8M210.3 122.7h0.8M173.5 140.5h0.8M205.9 91.0h0.8M177.4 126.8h0.8M194.5 120.9h0.8M183.4 130.5h0.8M182.3 93.3h0.8M181.7 90.2h0.8M177.0 110.2h0.8M204.0 83.9h0.8M185.1 127.4h0.8M200.3 128.6h0.8M226.2 103.3h0.8M182.0 132.6h0.8M220.2 121.6h0.8M187.1 99.0h0.8M203.3 121.9h0.8M174.4 108.8h0.8" stroke="#555" stroke-width="0.8" fill="none" opacity="0.65"/>
<path d="M182.6 118.9h0.8M191.0 128.2h0.8M206.1 115.4h0.8M204.6 125.6h0.8M207.7 104.2h0.8M199.0 137.1h0.8M199.4 105.2h0.8M195.3 143.5h0.8M188.9 102.3h0.8M202.0 106.0h0.8M177.1 88.9h0.8M193.1 102.4h0.8M207.7 102.8h0.8M178.9 100.3h0.8M180.4 127.9h0.8M185.0 132.6h0.8M198.7 140.2h0.8M191.9 123.4h0.8M171.8 104.7h0.8M185.4 127.8h0.8M191.7 121.0h0.8M185.7 93.1h0.8M192.2 130.0h0.8M192.5 133.8h0.8M189.7 106.5h0.8M189.5 107.8h0.8M186.1 108.1h0.8M184.8 96.8h0.8M208.5 124.0h0.8M190.0 102.9h0.8M177.2 119.8h0.8M186.2 138.9h0.8M175.4 116.4h0.8M205.4 103.9h0.8M213.7 125.9h0.8M203.2 99.4h0.8M203.6 126.0h0.8M194.5 137.2h0.8M196.6 79.5h0.8M196.7 136.6h0.8M187.1 122.4h0.8M186.8 111.7h0.8M165.7 86.0h0.8M190.2 103.4h0.8M174.2 121.6h0.8M196.7 99.0h0.8M172.1 119.7h0.8M188.0 121.8h0.8M204.5 106.4h0.8M190.5 122.0h0.8M190.2 82.9h0.8M198.9 115.4h0.8M186.7 118.2h0.8M188.6 104.8h0.8M200.5 90.8h0.8M175.8 108.2h0.8M178.8 122.6h0.8M184.6 85.5h0.8M188.1 78.4h0.8M206.1 109.8h0.8M199.1 117.6h0.8M194.2 95.3h0.8M200.2 105.5h0.8M184.4 81.2h0.8M205.2 106.8h0.8M187.9 83.0h0.8M201.7 108.6h0.8M202.4 109.7h0.8M183.5 118.3h0.8M176.2 88.1h0.8M191.5 120.8h0.8M203.5 108.9h0.8M191.0 113.1h0.8M190.0 103.1h0.8M197.2 103.0h0.8M189.9 127.2h0.8M194.4 102.8h0.8M199.2 108.2h0.8M199.0 98.0h0.8M184.3 89.9h0.8M203.5 130.1h0.8M204.2 115.2h0.8M194.1 106.8h0.8M198.0 107.5h0.8M181.8 124.2h0.8M201.2 117.6h0.8M191.4 104.7h0.8M193.0 113.0h0.8M180.3 103.6h0.8M181.4 125.7h0.8M178.4 93.0h0.8M183.1 112.2h0.8M182.6 134.7h0.8M199.3 76.2h0.8M194.2 114.8h0.8M179.2 108.6h0.8M192.8 100.9h0.8M190.9 114.6h0.8M186.7 109.0h0.8M179.8 118.7h0.8M185.5 126.9h0.8M212.6 133.4h0.8M187.2 115.9h0.8M189.2 116.3h0.8M183.5 95.5h0.8M191.3 98.5h0.8M204.2 120.0h0.8M195.2 107.7h0.8M190.1 123.4h0.8M192.6 110.0h0.8M210.7 111.8h0.8M189.3 106.6h0.8M204.7 102.9h0.8M187.1 125.3h0.8M203.6 129.7h0.8M183.3 116.1h0.8M186.2 115.8h0.8M176.1 107.1h0.8M202.8 112.8h0.8M167.7 123.9h0.8M195.6 106.1h0.8M191.9 105.4h0.8M203.5 109.5h0.8M175.9 97.9h0.8M208.4 125.8h0.8M200.0 98.9h0.8M197.4 124.5h0.8M193.0 120.3h0.8M203.5 124.7h0.8M196.7 116.7h0.8M179.7 106.0h0.8M200.5 134.2h0.8M194.0 125.5h0.8M192.3 96.6h0.8M196.5 116.7h0.8M183.2 98.1h0.8M192.6 103.1h0.8M197.2 91.1h0.8M200.4 101.6h0.8M195.7 88.3h0.8M201.6 113.1h0.8M213.4 86.9h0.8M173.8 120.4h0.8M201.2 85.1h0.8M197.5 123.4h0.8M206.3 112.1h0.8M176.7 83.0h0.8M213.3 116.0h0.8M202.1 105.8h0.8M189.9 107.4h0.8M182.8 106.2h0.8M181.0 104.4h0.8M203.4 110.6h0.8M185.4 134.6h0.8M205.3 110.9h0.8M174.7 128.5h0.8M205.4 102.0h0.8M206.6 98.6h0.8M189.5 103.8h0.8M194.1 108.4h0.8M206.7 105.4h0.8M196.7 111.0h0.8M194.7 98.7h0.8M191.9 129.9h0.8M200.5 93.8h0.8M188.2 96.1h0.8M185.0 101.2h0.8M179.9 116.9h0.8M201.3 112.5h0.8M187.4 112.6h0.8M184.6 125.0h0.8M215.8 72.6h0.8M196.1 111.0h0.8M194.2 106.4h0.8M177.1 109.2h0.8M188.2 108.2h0.8M191.8 103.3h0.8M215.2 92.7h0.8M188.3 92.3h0.8M190.6 132.1h0.8M191.7 98.5h0.8M178.8 117.9h0.8M185.0 119.1h0.8M185.2 102.7h0.8M191.6 87.2h0.8M204.2 94.1h0.8M193.6 116.5h0.8M215.8 116.9h0.8M200.6 103.0h0.8M190.7 110.1h0.8M202.8 96.3h0.8M182.5 84.3h0.8M186.9 108.4h0.8M208.9 117.1h0.8M203.7 100.3h0.8M191.8 114.4h0.8M183.7 114.3h0.8M189.4 113.5h0.8M178.2 81.7h0.8" stroke="#222" stroke-width="0.8" fill="none" opacity="0.6"/>
<path d="M201.4 102.6h0.9M193.5 121.1h0.9M199.7 105.5h0.9M192.6 104.4h0.9M196.8 100.1h0.9M201.3 108.1h0.9M198.7 96.1h0.9M192.0 110.0h0.9M197.1 98.0h0.9M197.1 102.4h0.9M194.0 100.6h0.9M198.8 104.9h0.9M192.6 96.2h0.9M197.7 94.4h0.9M196.4 101.2h0.9M191.8 83.6h0.9M192.1 101.6h0.9M194.9 111.3h0.9M195.8 101.4h0.9M197.6 98.8h0.9M203.4 98.2h0.9M192.3 97.8h0.9M201.2 98.0h0.9M192.0 105.9h0.9M201.0 99.1h0.9M199.0 97.1h0.9M202.3 94.2h0.9M194.7 98.4h0.9M191.7 100.8h0.9M199.0 95.7h0.9M203.6 104.2h0.9M197.5 96.0h0.9M194.7 108.2h0.9M191.7 96.1h0.9M192.8 91.5h0.9M198.8 95.8h0.9M203.4 92.8h0.9M194.0 101.8h0.9M192.7 85.2h0.9M192.7 101.1h0.9M191.3 103.2h0.9M187.4 103.1h0.9M203.8 109.5h0.9M200.0 99.2h0.9M193.0 109.8h0.9M193.7 106.2h0.9M191.1 104.0h0.9M197.7 85.0h0.9M194.6 105.7h0.9M197.6 104.5h0.9M201.1 101.5h0.9M191.6 108.0h0.9M204.8 99.8h0.9M202.1 100.8h0.9M189.7 94.3h0.9M191.1 109.9h0.9M196.3 97.4h0.9M195.1 112.1h0.9M195.6 96.1h0.9M197.6 95.4h0.9M197.0 109.1h0.9M196.6 98.4h0.9M196.9 91.0h0.9M200.7 119.8h0.9M196.9 86.1h0.9M193.5 90.4h0.9M187.5 99.7h0.9M195.2 96.7h0.9M200.2 102.2h0.9M191.0 104.3h0.9M190.3 98.4h0.9M191.7 103.4h0.9M194.7 97.0h0.9M196.3 105.1h0.9M195.8 110.0h0.9M190.7 104.1h0.9M202.7 102.2h0.9M185.4 108.0h0.9M194.2 106.3h0.9M196.3 106.3h0.9M200.7 102.9h0.9M199.7 92.1h0.9M191.7 100.3h0.9M202.8 95.9h0.9M193.6 106.4h0.9M194.1 91.6h0.9M186.5 106.7h0.9M190.4 103.7h0.9M198.4 94.2h0.9M198.8 85.6h0.9M195.7 93.6h0.9M196.3 103.0h0.9M195.9 106.2h0.9M193.7 90.4h0.9M189.5 108.5h0.9M191.2 98.4h0.9M197.1 100.4h0.9M192.6 85.3h0.9M199.9 97.5h0.9M188.9 96.0h0.9M197.0 86.7h0.9M196.1 101.5h0.9M197.4 101.7h0.9M192.3 88.8h0.9M195.0 97.4h0.9M202.2 99.8h0.9M197.2 102.0h0.9M187.4 106.4h0.9M194.4 90.4h0.9M196.4 110.8h0.9M195.1 99.2h0.9M193.0 97.9h0.9M200.1 102.4h0.9M196.9 105.8h0.9M182.8 101.5h0.9M197.7 103.2h0.9M189.6 94.9h0.9M198.0 104.7h0.9M198.1 92.9h0.9M195.6 112.2h0.9M194.7 111.4h0.9M198.6 107.8h0.9M193.0 96.2h0.9M191.8 109.6h0.9M201.4 94.0h0.9M189.8 101.7h0.9M200.8 103.8h0.9M197.8 105.1h0.9M198.0 100.5h0.9M197.0 106.6h0.9M193.8 113.8h0.9M191.1 98.0h0.9M191.1 108.9h0.9M200.5 96.1h0.9M196.0 98.0h0.9M190.1 94.8h0.9M196.4 105.6h0.9M192.3 101.0h0.9M198.0 111.8h0.9M197.4 95.4h0.9M188.7 101.2h0.9M194.5 96.9h0.9M192.8 96.9h0.9M195.6 106.4h0.9M190.7 114.8h0.9M201.6 100.0h0.9M195.7 112.7h0.9M191.9 96.4h0.9M193.5 93.6h0.9M198.6 100.0h0.9M195.8 102.0h0.9M193.6 112.5h0.9M195.3 95.0h0.9M190.0 95.8h0.9M196.1 102.7h0.9M196.9 98.4h0.9M197.0 104.9h0.9M190.1 103.9h0.9M197.4 99.6h0.9M200.1 102.3h0.9M191.7 108.1h0.9M203.7 93.6h0.9M194.6 107.9h0.9M197.4 109.2h0.9M202.2 88.7h0.9M199.5 89.7h0.9M192.2 93.1h0.9M198.6 89.3h0.9M196.9 90.3h0.9M204.3 98.3h0.9M196.2 92.7h0.9M192.2 110.9h0.9M197.3 92.9h0.9M193.4 100.1h0.9M203.0 101.2h0.9M196.6 109.4h0.9M205.2 107.1h0.9M191.6 93.7h0.9M202.5 105.1h0.9M187.6 96.9h0.9M193.7 98.7h0.9M197.8 106.7h0.9M202.4 87.9h0.9M196.9 100.0h0.9M190.4 107.3h0.9M190.7 90.6h0.9M202.1 105.1h0.9M198.1 111.5h0.9M189.1 111.2h0.9M195.6 105.5h0.9M198.5 106.5h0.9M193.9 101.2h0.9M195.5 109.4h0.9M185.1 111.3h0.9M190.1 117.4h0.9M196.4 114.8h0.9M193.4 114.4h0.9M197.1 104.8h0.9M199.1 83.1h0.9M190.2 88.9h0.9M196.0 99.9h0.9M198.8 104.5h0.9M201.3 96.7h0.9M197.4 97.9h0.9M191.7 87.8h0.9M195.7 94.5h0.9M193.8 94.1h0.9M188.9 122.2h0.9M196.5 91.6h0.9M194.6 101.5h0.9M188.4 108.8h0.9M191.1 104.9h0.9M194.0 95.0h0.9M209.7 97.9h0.9M189.1 96.7h0.9M190.3 109.0h0.9M198.0 92.4h0.9M203.1 100.1h0.9M189.0 108.9h0.9M198.8 93.7h0.9M190.5 99.5h0.9M192.1 105.0h0.9M197.3 92.2h0.9M190.8 98.8h0.9M201.4 96.8h0.9M198.3 96.4h0.9M197.6 96.9h0.9M197.7 94.5h0.9M190.8 115.4h0.9M200.1 91.9h0.9M200.5 100.2h0.9M202.0 91.4h0.9M195.1 97.7h0.9M193.0 91.9h0.9M203.7 101.7h0.9M195.0 88.4h0.9M199.4 110.0h0.9M195.5 90.6h0.9M197.8 101.3h0.9M187.6 116.3h0.9M199.1 93.9h0.9M191.3 106.8h0.9M200.1 106.1h0.9M197.9 98.6h0.9M204.6 100.0h0.9M196.2 104.4h0.9M193.7 107.2h0.9M203.7 85.2h0.9M193.7 110.9h0.9M201.9 98.5h0.9M198.3 103.2h0.9M196.6 96.8h0.9M199.1 111.0h0.9M202.3 104.2h0.9M195.4 110.2h0.9M210.1 101.2h0.9M194.0 115.0h0.9M192.3 82.1h0.9M198.9 112.7h0.9M200.7 109.9h0.9M200.8 96.9h0.9M200.8 94.6h0.9M189.0 99.5h0.9M190.8 92.9h0.9M193.1 98.3h0.9M196.9 94.0h0.9M193.1 100.3h0.9M195.9 105.3h0.9M198.8 103.7h0.9M197.1 106.9h0.9M195.4 103.0h0.9M191.5 103.0h0.9M200.3 97.0h0.9M201.6 98.2h0.9M199.1 114.7h0.9M196.8 98.8h0.9M197.8 98.8h0.9M190.9 109.2h0.9M186.6 107.8h0.9M191.6 108.4h0.9M192.1 115.3h0.9M194.9 84.4h0.9M208.2 103.0h0.9M195.0 101.5h0.9M194.0 103.7h0.9M190.8 117.8h0.9M192.1 106.2h0.9M201.5 100.4h0.9M199.7 97.8h0.9M191.7 95.1h0.9M199.6 109.9h0.9M190.9 108.9h0.9M191.5 102.6h0.9M199.9 86.2h0.9M198.4 99.5h0.9M188.6 106.1h0.9M196.5 104.3h0.9M194.7 96.2h0.9M189.9 99.2h0.9M191.2 97.6h0.9M196.7 107.6h0.9M197.1 103.7h0.9M193.6 108.4h0.9M200.9 98.1h0.9M194.2 93.8h0.9M194.4 97.9h0.9M203.0 112.4h0.9M189.0 106.7h0.9M195.5 88.1h0.9M197.0 96.3h0.9M196.4 105.4h0.9M191.6 112.4h0.9M196.5 95.5h0.9M186.9 117.6h0.9M191.9 101.5h0.9M196.1 108.2h0.9M191.2 82.3h0.9M196.9 90.0h0.9M192.8 116.8h0.9M192.4 106.1h0.9M188.6 123.4h0.9M193.5 104.1h0.9M195.2 96.5h0.9M200.2 99.8h0.9M191.7 96.7h0.9M193.9 101.7h0.9M196.4 94.9h0.9M191.7 116.5h0.9M193.2 111.1h0.9M193.1 103.4h0.9M193.8 85.6h0.9M192.2 107.2h0.9M200.0 109.4h0.9M192.9 98.0h0.9M189.9 102.3h0.9M198.5 102.6h0.9M191.6 103.4h0.9M195.2 104.3h0.9M194.2 102.1h0.9M192.5 94.0h0.9M183.9 101.3h0.9M196.5 93.4h0.9M201.0 110.6h0.9M202.7 100.6h0.9M193.9 103.3h0.9M198.3 112.7h0.9M191.2 99.3h0.9M186.6 98.2h0.9M198.8 106.6h0.9M205.1 107.1h0.9M193.9 95.1h0.9M195.3 113.7h0.9M190.4 93.3h0.9M195.9 98.5h0.9M199.5 97.9h0.9M195.5 101.0h0.9M195.3 111.6h0.9M190.8 87.4h0.9M189.0 98.3h0.9M195.4 105.2h0.9M196.6 102.2h0.9M188.0 95.4h0.9M198.0 91.8h0.9M193.5 97.6h0.9M198.0 94.5h0.9M188.2 97.6h0.9M193.5 107.3h0.9M192.8 99.0h0.9M193.3 97.2h0.9M206.0 82.5h0.9M198.4 95.2h0.9M196.6 89.3h0.9M196.7 94.9h0.9M196.8 111.6h0.9M190.9 88.3h0.9M199.0 116.3h0.9M196.7 85.3h0.9M187.8 107.7h0.9M203.0 100.7h0.9M188.6 109.3h0.9M189.8 95.3h0.9M193.0 95.9h0.9M198.3 93.8h0.9M195.2 109.4h0.9M199.1 111.7h0.9M194.8 87.9h0.9M196.0 102.8h0.9M196.8 98.2h0.9M198.0 93.4h0.9M197.7 114.9h0.9M195.9 101.6h0.9M197.7 105.6h0.9M197.7 102.9h0.9M193.1 113.0h0.9M189.4 109.2h0.9M191.3 104.4h0.9M192.2 89.0h0.9M191.5 93.3h0.9M201.5 97.0h0.9M192.9 93.4h0.9M195.2 100.9h0.9M198.2 96.0h0.9M190.1 100.1h0.9M198.6 107.0h0.9M191.3 96.9h0.9M197.1 96.7h0.9M189.0 101.9h0.9M193.5 103.1h0.9M199.3 97.6h0.9M190.8 94.8h0.9M198.6 102.1h0.9M198.9 98.7h0.9M198.8 97.7h0.9M192.5 100.8h0.9M194.9 99.2h0.9M194.9 108.3h0.9M193.5 87.6h0.9M195.9 115.5h0.9M200.7 92.5h0.9M196.5 109.7h0.9M198.0 115.2h0.9M200.8 80.3h0.9M198.3 95.5h0.9M192.4 87.8h0.9M190.0 97.8h0.9M199.3 110.2h0.9M197.4 110.7h0.9M194.1 94.6h0.9M203.3 105.4h0.9M193.3 106.7h0.9M191.0 112.8h0.9M190.0 96.5h0.9M194.7 99.6h0.9M189.3 107.2h0.9M198.0 101.8h0.9M198.2 97.9h0.9M199.9 97.2h0.9M190.8 99.4h0.9M194.3 103.8h0.9M197.2 114.3h0.9M190.6 88.6h0.9M195.8 111.3h0.9M200.0 100.9h0.9M194.6 99.1h0.9M203.3 100.5h0.9M197.7 92.3h0.9M199.6 100.9h0.9M194.6 99.2h0.9M193.2 122.0h0.9M197.7 106.8h0.9M193.2 90.6h0.9M186.6 96.4h0.9M196.1 103.4h0.9M188.8 106.0h0.9M192.4 109.9h0.9M194.4 101.9h0.9M192.9 96.2h0.9M195.4 106.0h0.9M199.2 96.6h0.9M189.9 104.4h0.9M201.5 98.5h0.9M194.0 98.2h0.9M196.4 109.0h0.9M191.3 104.6h0.9M201.4 106.8h0.9M193.3 90.6h0.9M194.9 111.9h0.9M198.1 112.9h0.9M194.0 102.2h0.9M191.8 105.7h0.9M195.3 95.9h0.9M193.6 106.0h0.9M198.9 108.1h0.9M205.2 108.5h0.9M191.1 109.7h0.9M192.8 93.5h0.9M199.2 97.9h0.9M196.1 98.3h0.9M196.1 89.1h0.9M198.8 111.6h0.9M193.9 111.4h0.9M198.7 111.4h0.9M203.0 93.6h0.9M199.4 101.4h0.9M199.3 100.5h0.9M203.6 115.4h0.9M195.5 105.6h0.9M196.7 104.3h0.9M200.5 95.4h0.9M189.1 110.2h0.9M197.7 99.1h0.9M194.0 91.0h0.9M195.8 89.3h0.9M196.3 104.4h0.9M192.3 109.5h0.9M198.9 103.9h0.9M193.0 96.9h0.9M193.0 87.0h0.9M195.3 107.4h0.9M188.9 104.0h0.9M194.5 102.6h0.9M198.1 109.0h0.9M192.2 107.1h0.9M195.5 82.4h0.9M204.3 102.7h0.9M193.3 111.6h0.9M197.9 97.6h0.9M196.3 104.2h0.9M196.3 83.7h0.9M196.8 94.6h0.9M191.0 101.5h0.9M205.6 93.4h0.9M197.8 90.6h0.9M188.8 98.2h0.9M199.3 104.0h0.9M195.9 110.8h0.9M198.0 97.3h0.9M191.6 98.9h0.9M197.2 99.2h0.9M194.9 97.2h0.9M192.8 92.2h0.9M190.9 114.6h0.9M199.2 112.3h0.9M196.1 100.7h0.9M199.3 99.0h0.9M200.4 103.0h0.9M199.5 96.0h0.9M203.2 103.8h0.9M198.9 96.2h0.9M192.1 106.6h0.9M187.6 110.3h0.9M192.3 108.6h0.9M192.7 101.0h0.9M195.3 108.5h0.9M191.5 105.4h0.9M196.3 107.5h0.9M191.9 101.3h0.9M192.6 98.4h0.9M199.4 110.9h0.9M191.6 100.0h0.9M195.8 94.4h0.9M194.5 93.4h0.9M198.5 94.6h0.9M202.9 87.3h0.9M197.6 106.3h0.9M193.8 88.5h0.9M197.1 92.4h0.9M200.1 102.7h0.9M195.3 102.3h0.9M198.7 101.6h0.9M197.6 104.4h0.9M192.5 109.5h0.9M201.6 110.3h0.9M195.5 106.6h0.9M191.4 94.9h0.9M192.1 96.7h0.9M199.6 95.5h0.9M193.7 89.9h0.9M193.6 88.7h0.9M199.3 100.5h0.9M198.5 111.8h0.9M197.2 104.0h0.9M196.3 98.2h0.9M186.0 101.9h0.9M193.1 93.7h0.9M193.0 100.9h0.9M199.0 94.2h0.9M189.3 108.9h0.9M197.3 107.5h0.9M195.2 90.9h0.9M200.3 111.1h0.9M192.6 104.2h0.9M198.5 120.2h0.9M200.2 106.0h0.9M194.8 98.0h0.9M195.6 96.5h0.9M198.1 102.8h0.9M195.2 93.9h0.9M196.2 99.1h0.9M197.8 94.7h0.9M198.5 101.0h0.9M204.2 96.7h0.9M202.1 124.0h0.9M194.1 116.9h0.9M201.3 93.3h0.9M192.6 109.3h0.9M196.5 108.7h0.9M196.6 113.1h0.9M195.4 94.2h0.9M193.0 101.7h0.9M191.9 101.5h0.9M195.1 99.7h0.9M195.8 99.2h0.9M199.9 103.2h0.9M200.0 91.7h0.9M196.2 98.5h0.9M186.1 116.5h0.9M189.6 107.7h0.9M198.2 110.9h0.9M195.5 82.9h0.9M198.5 101.5h0.9M198.7 101.2h0.9M200.9 106.4h0.9M192.7 119.9h0.9M194.7 85.7h0.9M196.0 105.8h0.9M198.6 98.4h0.9M196.3 95.9h0.9M193.6 107.0h0.9M193.1 107.3h0.9M194.7 102.8h0.9M193.7 110.6h0.9M196.8 96.4h0.9M195.6 111.0h0.9M197.6 94.4h0.9M193.2 94.2h0.9M201.5 103.9h0.9M198.9 108.5h0.9M193.6 110.1h0.9M195.0 104.3h0.9M187.2 100.4h0.9M194.4 96.0h0.9M197.3 92.4h0.9M196.1 82.6h0.9M195.1 96.3h0.9M202.8 103.6h0.9M200.0 80.0h0.9M194.4 92.6h0.9M200.5 109.2h0.9M195.9 102.7h0.9M196.0 101.1h0.9M197.8 106.1h0.9M195.3 95.9h0.9M202.6 98.8h0.9M190.9 118.5h0.9M196.0 100.4h0.9M190.4 93.3h0.9M201.6 99.7h0.9M201.2 94.1h0.9M199.0 103.2h0.9M195.1 88.6h0.9M201.3 103.5h0.9M195.1 108.7h0.9M190.6 112.4h0.9M198.9 106.7h0.9M198.9 97.6h0.9M194.9 105.6h0.9M192.8 112.3h0.9M198.5 113.1h0.9M188.5 113.3h0.9" stroke="#238c23" stroke-width="0.9" fill="none" opacity="0.85"/>
<path d="M194.4 98.3h0.8M193.9 113.6h0.8M197.5 106.8h0.8M199.3 111.7h0.8M199.9 110.8h0.8M196.8 107.5h0.8M190.6 102.3h0.8M187.2 102.3h0.8M196.7 98.5h0.8M193.1 110.8h0.8M194.4 103.7h0.8M203.2 106.6h0.8M199.2 107.1h0.8M197.3 111.6h0.8M194.4 108.7h0.8M194.1 100.5h0.8M198.5 99.4h0.8M185.5 100.9h0.8M201.4 96.8h0.8M198.2 100.9h0.8M189.8 100.5h0.8M185.8 110.6h0.8M193.8 105.6h0.8M196.4 92.8h0.8M193.2 111.0h0.8M198.9 100.7h0.8M192.7 102.2h0.8M190.2 104.2h0.8M189.5 97.2h0.8M198.8 103.2h0.8M192.8 103.7h0.8M194.3 104.5h0.8M199.8 102.6h0.8M188.5 105.2h0.8M191.6 110.5h0.8M199.3 103.2h0.8M198.2 93.0h0.8M188.8 100.0h0.8M196.0 112.4h0.8M193.4 96.4h0.8M192.6 97.5h0.8M197.0 93.2h0.8M199.3 94.2h0.8M204.4 102.8h0.8M196.8 91.6h0.8M197.8 89.9h0.8M199.2 98.8h0.8M196.2 106.5h0.8M198.3 112.6h0.8M199.5 108.5h0.8M193.8 95.0h0.8M198.2 105.5h0.8M193.5 102.4h0.8M198.6 109.5h0.8M193.9 93.7h0.8M188.2 99.1h0.8M195.1 93.8h0.8M198.5 116.4h0.8M192.0 107.8h0.8M194.7 106.9h0.8M196.2 102.5h0.8M198.8 108.2h0.8M193.6 106.2h0.8M193.2 102.6h0.8M197.6 106.5h0.8M189.1 106.5h0.8M190.7 104.2h0.8M199.2 93.0h0.8M190.8 108.3h0.8M198.0 88.9h0.8M199.7 99.2h0.8M190.8 104.4h0.8M193.0 103.1h0.8M195.1 119.8h0.8M199.0 105.1h0.8M195.7 105.5h0.8M197.8 98.9h0.8M197.9 98.5h0.8M193.4 102.2h0.8M199.0 109.1h0.8M183.2 110.3h0.8M195.7 103.6h0.8M201.7 98.6h0.8M192.6 89.1h0.8M190.4 108.2h0.8M192.9 95.6h0.8M197.6 96.1h0.8M193.0 97.1h0.8M197.4 98.3h0.8M193.6 101.4h0.8M188.4 100.5h0.8M189.1 94.0h0.8M193.5 103.4h0.8M193.7 109.9h0.8M195.5 106.7h0.8M193.9 98.1h0.8M202.9 92.0h0.8M200.4 97.9h0.8M198.8 94.1h0.8M197.1 105.0h0.8M187.5 97.6h0.8M197.3 109.9h0.8M196.9 98.9h0.8M195.9 93.8h0.8M191.3 103.9h0.8M194.9 107.5h0.8M195.7 106.8h0.8M194.6 106.9h0.8M205.6 96.9h0.8M196.2 99.6h0.8M197.1 106.1h0.8M192.2 103.6h0.8M196.3 102.2h0.8M195.8 112.5h0.8M198.0 101.4h0.8M195.2 116.7h0.8M192.4 110.5h0.8M193.8 91.8h0.8M192.6 105.1h0.8M195.0 98.1h0.8" stroke="#1a5a1a" stroke-width="0.8" fill="none" opacity="0.7"/>
<path d="M175.3 121.7h0.9M174.8 122.7h0.9M172.6 125.7h0.9M176.9 124.8h0.9M177.9 122.7h0.9M176.5 116.8h0.9M176.8 123.3h0.9M177.4 127.0h0.9M176.2 120.7h0.9M177.0 126.9h0.9M177.9 122.9h0.9M175.0 123.6h0.9M174.8 118.1h0.9M177.0 125.7h0.9M177.5 121.9h0.9M176.4 120.8h0.9M174.1 125.8h0.9M173.6 123.4h0.9M180.1 128.0h0.9M177.5 126.2h0.9M176.1 122.7h0.9M179.6 123.8h0.9M175.5 126.4h0.9M176.4 128.3h0.9M175.5 122.0h0.9" stroke="#b01818" stroke-width="0.9" fill="none" opacity="0.7"/>
<path d="M187.2 140.3h0.9M199.1 132.5h0.9M191.7 133.0h0.9M182.3 134.0h0.9M186.6 132.3h0.9M191.2 132.8h0.9M186.9 136.6h0.9M194.2 126.5h0.9M194.9 129.0h0.9M194.4 136.0h0.9M186.7 130.8h0.9M191.6 131.3h0.9M209.0 133.1h0.9M181.0 131.7h0.9M186.2 145.4h0.9M185.5 124.5h0.9M197.6 128.0h0.9M187.7 129.7h0.9M185.2 128.6h0.9M171.7 130.5h0.9M196.8 142.1h0.9M191.8 136.0h0.9M184.8 139.7h0.9M211.0 133.1h0.9M188.3 131.5h0.9M205.0 123.9h0.9M202.6 125.4h0.9M184.0 132.8h0.9M197.0 136.9h0.9M204.0 124.6h0.9M192.0 135.8h0.9M193.8 137.9h0.9M191.7 129.5h0.9M171.6 120.2h0.9M198.3 124.5h0.9M194.1 135.1h0.9M190.3 137.2h0.9M185.6 134.7h0.9M190.2 122.5h0.9M173.6 130.1h0.9M205.7 138.1h0.9M195.5 135.9h0.9M199.3 129.8h0.9M202.9 132.8h0.9M197.2 130.5h0.9M198.1 124.0h0.9M180.5 142.6h0.9M196.9 124.8h0.9M176.9 130.5h0.9M182.0 139.0h0.9M174.1 138.4h0.9M182.1 123.7h0.9M191.5 123.5h0.9M185.8 127.7h0.9M169.4 123.9h0.9M194.0 118.6h0.9M178.8 125.5h0.9M199.1 136.4h0.9M204.2 125.2h0.9M198.2 132.3h0.9M179.3 134.0h0.9M190.8 127.0h0.9M181.2 121.3h0.9M195.3 133.6h0.9M188.3 128.6h0.9M185.5 135.5h0.9M192.6 120.2h0.9M191.6 133.7h0.9M185.5 128.1h0.9M185.6 134.7h0.9M187.2 130.7h0.9M191.6 140.2h0.9M177.3 144.9h0.9M180.0 129.6h0.9M183.6 131.7h0.9M195.8 144.9h0.9M201.6 126.9h0.9M192.9 131.7h0.9M184.9 134.5h0.9M193.3 128.3h0.9M184.7 135.2h0.9M189.9 138.1h0.9M198.7 123.7h0.9M172.0 131.2h0.9M184.9 124.7h0.9M184.4 139.6h0.9M189.0 142.4h0.9M198.0 120.5h0.9M195.0 139.9h0.9M174.9 123.4h0.9M190.0 127.7h0.9M206.2 125.8h0.9M206.3 122.6h0.9M183.3 133.0h0.9M195.7 131.9h0.9M205.5 142.0h0.9M208.8 130.5h0.9M199.0 129.4h0.9M204.0 117.1h0.9M185.2 129.8h0.9M186.7 140.7h0.9M178.6 126.2h0.9M180.3 130.8h0.9M182.9 136.8h0.9M199.2 118.4h0.9M171.9 136.0h0.9M194.7 121.5h0.9M190.8 123.6h0.9M198.4 123.1h0.9M185.5 133.9h0.9M191.5 137.4h0.9M194.9 122.0h0.9M193.2 124.3h0.9M204.2 140.6h0.9M201.4 144.3h0.9M198.3 140.0h0.9M199.6 136.4h0.9M199.0 132.8h0.9M207.4 124.5h0.9M176.9 126.4h0.9M205.4 129.4h0.9M183.7 126.0h0.9M195.3 130.7h0.9M201.9 129.1h0.9M199.3 125.8h0.9M189.3 130.3h0.9M199.9 125.1h0.9M187.0 127.8h0.9M193.4 122.8h0.9M204.0 131.9h0.9M192.8 130.1h0.9M190.8 117.2h0.9M202.7 125.8h0.9M198.6 130.2h0.9M189.3 134.1h0.9M206.3 130.5h0.9M185.9 133.9h0.9M168.8 125.9h0.9M182.2 128.9h0.9M178.8 136.2h0.9M188.3 131.9h0.9M191.2 129.2h0.9M185.2 138.8h0.9M198.6 140.1h0.9M189.7 132.8h0.9M194.4 129.1h0.9M190.8 121.3h0.9M180.4 125.5h0.9M180.8 133.7h0.9M194.4 133.5h0.9M188.8 137.2h0.9M199.4 134.5h0.9M188.1 140.4h0.9M180.4 121.3h0.9M179.3 138.3h0.9M192.0 127.5h0.9M170.1 129.7h0.9M182.1 118.5h0.9M200.9 131.3h0.9M203.6 131.0h0.9M196.2 126.9h0.9M196.7 128.7h0.9M196.6 132.4h0.9M181.2 131.2h0.9M192.6 126.9h0.9M190.1 136.7h0.9M202.3 131.5h0.9M170.7 135.6h0.9M207.7 129.7h0.9M183.4 132.9h0.9M193.1 136.4h0.9M185.5 141.6h0.9M199.4 125.0h0.9M200.5 130.4h0.9M197.5 133.3h0.9M191.7 133.0h0.9M187.4 126.7h0.9M189.1 129.4h0.9M194.7 132.3h0.9M176.6 136.2h0.9M190.8 136.3h0.9M197.3 132.8h0.9M196.3 122.5h0.9M205.2 142.8h0.9M197.0 128.1h0.9M197.5 129.1h0.9M205.9 128.5h0.9M180.8 126.2h0.9M184.6 135.5h0.9M190.9 132.9h0.9M188.2 139.1h0.9M191.4 132.5h0.9M205.5 133.0h0.9M186.6 129.8h0.9M201.6 133.5h0.9M184.4 138.3h0.9M178.2 118.4h0.9M182.5 119.9h0.9M189.6 131.4h0.9M188.9 127.8h0.9M181.8 136.8h0.9M173.7 135.6h0.9M193.6 130.8h0.9M195.3 121.9h0.9M200.1 134.2h0.9M201.3 118.8h0.9M193.5 130.4h0.9M170.6 129.2h0.9M191.7 126.4h0.9M194.7 134.5h0.9M187.2 129.1h0.9M198.2 125.3h0.9M195.7 139.1h0.9M190.9 133.4h0.9M191.5 136.1h0.9M177.7 120.9h0.9M183.5 127.4h0.9M199.9 139.4h0.9M196.4 138.6h0.9M187.5 127.9h0.9M177.3 138.1h0.9M196.0 130.9h0.9M179.0 125.0h0.9M195.5 131.1h0.9M201.0 132.2h0.9M184.8 124.0h0.9M191.1 140.9h0.9M209.0 126.7h0.9M195.7 126.7h0.9M193.5 114.1h0.9M185.4 120.2h0.9M204.2 128.7h0.9M195.2 131.2h0.9M179.0 134.8h0.9M200.8 132.4h0.9M196.0 137.7h0.9M196.2 130.3h0.9M176.4 126.0h0.9M184.2 135.6h0.9M203.2 131.2h0.9M200.1 116.8h0.9M193.7 124.0h0.9M199.7 138.7h0.9M201.4 136.0h0.9M201.6 142.0h0.9M186.7 140.7h0.9M188.6 123.1h0.9M196.9 136.0h0.9M194.5 127.6h0.9M197.1 130.1h0.9M213.8 133.6h0.9M195.4 128.4h0.9M197.1 141.5h0.9M185.3 129.3h0.9M174.6 131.0h0.9M206.1 124.3h0.9M188.1 126.9h0.9M189.0 126.7h0.9M188.2 124.6h0.9M193.3 137.1h0.9M198.3 120.1h0.9M203.2 135.6h0.9M201.6 126.0h0.9M186.0 135.3h0.9M207.1 125.6h0.9M193.9 133.9h0.9M188.2 133.4h0.9M186.8 138.9h0.9M176.9 133.1h0.9M186.8 130.9h0.9M183.2 113.3h0.9M205.0 135.6h0.9M195.2 131.1h0.9M194.2 129.4h0.9M192.5 139.7h0.9M185.9 126.2h0.9M208.3 128.5h0.9M193.6 130.4h0.9M196.9 135.2h0.9M192.7 125.6h0.9M183.1 131.8h0.9M207.9 120.7h0.9M190.6 134.1h0.9M186.4 132.7h0.9M190.6 136.1h0.9M206.3 129.5h0.9M194.2 134.0h0.9M192.9 131.4h0.9M172.3 131.9h0.9M181.9 128.7h0.9M195.2 134.6h0.9M187.3 128.4h0.9M188.8 124.9h0.9M205.1 141.6h0.9M189.6 140.8h0.9M198.2 124.8h0.9M199.4 135.1h0.9M192.6 122.5h0.9" stroke="#4a4aa8" stroke-width="0.9" fill="none" opacity="0.7"/>
<ellipse cx="191.3" cy="124.8" rx="10" ry="5.4" transform="rotate(0 191.3 124.8)" fill="#1a1a9c" opacity="0.85" filter="url(#cf)"/>
<path d="M187.8 117.1h1.0M191.2 123.9h1.0M184.6 120.6h1.0M199.6 119.7h1.0M195.9 125.2h1.0M199.0 119.4h1.0M192.1 129.1h1.0M190.4 120.1h1.0M179.4 122.5h1.0M197.6 130.0h1.0M191.8 127.9h1.0M197.6 126.9h1.0M186.3 127.3h1.0M185.2 125.3h1.0M196.3 128.5h1.0M190.7 128.7h1.0M200.9 128.2h1.0M191.2 126.0h1.0M191.7 125.1h1.0M196.0 128.6h1.0M191.7 127.5h1.0M193.1 125.5h1.0M185.6 126.2h1.0M190.9 125.9h1.0M197.8 127.5h1.0M196.0 123.3h1.0M181.7 123.6h1.0M191.5 125.6h1.0M199.9 126.0h1.0M200.3 123.6h1.0M184.9 127.8h1.0M184.7 119.7h1.0M188.1 126.1h1.0M198.3 125.0h1.0M197.1 124.9h1.0M181.6 121.2h1.0M181.3 124.2h1.0M178.7 120.1h1.0M186.4 127.9h1.0M194.7 123.6h1.0M192.7 124.0h1.0M208.1 119.3h1.0M179.0 118.4h1.0M182.6 123.6h1.0M197.0 124.0h1.0M189.6 124.3h1.0M192.4 121.7h1.0M195.0 124.5h1.0M192.6 126.5h1.0M194.6 127.3h1.0M185.8 126.3h1.0M181.6 117.7h1.0M188.8 126.0h1.0M194.0 125.8h1.0M196.2 118.7h1.0M187.7 123.9h1.0M186.1 125.7h1.0M194.5 125.7h1.0M191.7 132.3h1.0M191.5 124.7h1.0M198.4 130.7h1.0M185.5 121.4h1.0M199.2 128.4h1.0M196.2 123.8h1.0M195.1 120.0h1.0M184.1 129.9h1.0M183.5 124.2h1.0M194.9 125.7h1.0M184.5 122.7h1.0M194.6 123.2h1.0M201.0 124.2h1.0M202.1 124.6h1.0M198.5 126.1h1.0M191.5 120.2h1.0M194.5 124.9h1.0M193.2 122.8h1.0M185.3 121.4h1.0M190.3 127.6h1.0M188.8 120.9h1.0M185.8 120.8h1.0M181.0 123.3h1.0M186.8 123.3h1.0M202.2 127.7h1.0M199.6 124.6h1.0M192.5 121.9h1.0M180.2 119.3h1.0M188.7 126.1h1.0M204.4 124.3h1.0M181.6 123.3h1.0M194.0 120.7h1.0M188.0 126.3h1.0M191.6 126.0h1.0M191.3 124.6h1.0M199.3 127.6h1.0M192.6 126.4h1.0M190.7 124.5h1.0M193.6 125.4h1.0M206.6 125.6h1.0M193.7 131.8h1.0M185.7 125.2h1.0M198.9 125.5h1.0M191.1 122.1h1.0M191.5 122.5h1.0M197.7 126.7h1.0M189.6 128.7h1.0M185.2 122.0h1.0M195.9 125.8h1.0M184.5 122.4h1.0M190.0 122.7h1.0M192.6 124.5h1.0M194.3 124.6h1.0M193.5 123.4h1.0M193.7 126.0h1.0M195.6 126.0h1.0M189.0 124.6h1.0M199.1 123.9h1.0M191.7 130.0h1.0M195.2 127.1h1.0M186.0 121.9h1.0M193.0 131.8h1.0M180.5 119.3h1.0M194.7 125.6h1.0M185.4 127.8h1.0M192.4 123.2h1.0M190.8 123.0h1.0M193.1 122.5h1.0M184.5 122.4h1.0M193.4 128.4h1.0M187.4 121.4h1.0M193.0 128.4h1.0M188.9 129.7h1.0M186.6 129.5h1.0M195.4 119.2h1.0M194.4 124.0h1.0M190.2 122.4h1.0M191.4 122.6h1.0M192.1 128.3h1.0M199.5 128.4h1.0M196.5 126.2h1.0M190.0 121.1h1.0M197.3 123.3h1.0M192.4 120.3h1.0M193.9 129.3h1.0M190.7 127.7h1.0M190.4 125.3h1.0M188.4 116.0h1.0M193.4 126.4h1.0M194.7 130.4h1.0M196.7 126.3h1.0M187.3 134.3h1.0M183.2 123.5h1.0M188.3 128.3h1.0M193.3 126.6h1.0M180.8 123.1h1.0M197.5 123.1h1.0M183.9 125.5h1.0M187.8 124.8h1.0M193.5 121.6h1.0M191.1 129.3h1.0M189.8 124.1h1.0M188.0 125.9h1.0M194.5 122.0h1.0M192.2 130.4h1.0M181.5 128.1h1.0M196.8 119.8h1.0M181.5 123.0h1.0M199.7 122.7h1.0M191.5 125.2h1.0M190.8 131.4h1.0M193.0 121.0h1.0M193.1 127.0h1.0M184.9 125.4h1.0M187.7 120.5h1.0M185.8 127.5h1.0M190.3 119.3h1.0M195.7 123.8h1.0M173.5 121.2h1.0M177.0 122.7h1.0M207.9 131.5h1.0M192.9 122.0h1.0M184.2 122.3h1.0M192.8 129.0h1.0M191.6 129.0h1.0M190.5 117.8h1.0M193.3 128.2h1.0M194.9 128.5h1.0M185.7 123.9h1.0M191.5 126.0h1.0M194.9 128.1h1.0M188.9 121.3h1.0M188.7 124.2h1.0M188.7 121.7h1.0M196.7 128.1h1.0M197.4 127.4h1.0M194.7 123.3h1.0M188.9 125.8h1.0M180.2 125.7h1.0M179.4 131.0h1.0M195.2 122.7h1.0M191.2 123.1h1.0M200.8 128.6h1.0M192.0 123.2h1.0M195.0 125.8h1.0M191.2 123.2h1.0M182.1 120.4h1.0M187.0 119.4h1.0M185.7 130.8h1.0M191.6 127.2h1.0M187.9 129.3h1.0M192.2 127.6h1.0M198.2 126.4h1.0M203.2 121.8h1.0M189.5 126.6h1.0M190.9 126.4h1.0M204.7 123.9h1.0M193.1 123.2h1.0M186.5 118.5h1.0M194.4 129.6h1.0M191.7 128.9h1.0M183.4 124.3h1.0M190.5 127.3h1.0M191.7 126.7h1.0M200.4 121.2h1.0M190.7 126.2h1.0M187.4 126.1h1.0M180.7 121.5h1.0M189.8 118.8h1.0M204.5 131.1h1.0M199.0 127.6h1.0M196.9 123.9h1.0M190.0 118.0h1.0M197.0 124.2h1.0M179.3 122.0h1.0M194.4 119.4h1.0M188.1 117.5h1.0M188.3 124.5h1.0M176.6 122.2h1.0M193.9 123.5h1.0M200.2 127.6h1.0M198.2 120.6h1.0M185.5 125.9h1.0M194.3 123.0h1.0M189.8 121.5h1.0M188.3 126.1h1.0M200.0 126.6h1.0M196.6 125.0h1.0M194.4 128.0h1.0M185.7 128.0h1.0M194.9 128.2h1.0M194.0 122.5h1.0M188.6 124.9h1.0M175.9 122.0h1.0M187.5 122.9h1.0M185.1 121.1h1.0M189.5 122.6h1.0M199.1 124.7h1.0M190.6 127.5h1.0M190.6 124.6h1.0M198.2 127.9h1.0M189.9 120.3h1.0M187.5 126.6h1.0M181.2 123.7h1.0M190.8 119.7h1.0M198.4 123.9h1.0M181.9 121.4h1.0M193.7 129.3h1.0M193.0 125.4h1.0M190.0 130.1h1.0M199.0 119.5h1.0M191.4 126.7h1.0M190.1 126.2h1.0M195.2 121.8h1.0M199.0 125.3h1.0M197.7 125.7h1.0M190.7 129.2h1.0M193.6 130.0h1.0M194.9 132.0h1.0M186.6 125.1h1.0M186.7 121.2h1.0M192.4 119.9h1.0M190.7 129.1h1.0M194.5 123.0h1.0M189.8 127.1h1.0M200.7 123.9h1.0M192.0 126.4h1.0M190.2 126.0h1.0M192.9 129.1h1.0M187.7 125.0h1.0M193.3 122.4h1.0M189.3 124.7h1.0M182.5 123.2h1.0M184.5 123.1h1.0M187.2 123.2h1.0M195.4 128.8h1.0M196.2 122.1h1.0M193.2 120.6h1.0M194.6 127.2h1.0M189.2 124.9h1.0M196.1 127.1h1.0M187.9 122.3h1.0M181.1 123.6h1.0M187.6 124.7h1.0M194.5 120.1h1.0M186.6 123.6h1.0M181.6 124.1h1.0M188.1 125.9h1.0M195.1 127.0h1.0M189.6 125.5h1.0M192.3 128.1h1.0M180.1 123.9h1.0M186.6 125.0h1.0M197.3 125.4h1.0M191.9 122.4h1.0M193.0 125.5h1.0M185.1 126.8h1.0M188.3 117.8h1.0M189.9 126.3h1.0M193.7 125.1h1.0M190.8 126.8h1.0M194.4 118.7h1.0M186.7 125.0h1.0M190.6 127.3h1.0M197.0 125.1h1.0M188.8 130.3h1.0M186.0 124.3h1.0M203.1 126.7h1.0M194.7 124.7h1.0M198.3 134.2h1.0M193.0 124.0h1.0M198.1 131.0h1.0M193.4 122.0h1.0M193.2 122.2h1.0M196.9 124.1h1.0M194.3 125.0h1.0M196.1 118.1h1.0M193.2 125.4h1.0M192.9 120.0h1.0M199.3 122.6h1.0M194.0 123.1h1.0M190.0 123.3h1.0M181.5 122.6h1.0M199.0 121.0h1.0M192.0 119.0h1.0M197.7 120.2h1.0M184.3 124.2h1.0M194.5 120.5h1.0M190.7 126.5h1.0M191.3 122.2h1.0M193.9 128.4h1.0M205.1 129.0h1.0M181.1 129.0h1.0M197.5 125.8h1.0M195.5 128.5h1.0M189.8 120.8h1.0M189.8 127.0h1.0M188.0 122.7h1.0M183.7 126.6h1.0M184.9 124.1h1.0M187.0 129.1h1.0M197.4 132.4h1.0M187.2 121.6h1.0M193.0 120.3h1.0M188.4 127.1h1.0M191.7 127.7h1.0M186.9 123.3h1.0M190.6 127.6h1.0M198.1 128.8h1.0M192.0 122.5h1.0M188.9 124.9h1.0M182.1 121.8h1.0M180.9 125.8h1.0M192.7 121.8h1.0M197.1 125.2h1.0M190.6 127.0h1.0M193.4 121.4h1.0M187.4 120.1h1.0M195.1 124.5h1.0M196.8 122.5h1.0M184.2 128.5h1.0M196.4 120.0h1.0M197.7 122.5h1.0M200.5 126.5h1.0M187.7 124.1h1.0M190.4 115.1h1.0M195.4 123.8h1.0M195.9 115.5h1.0M195.6 124.9h1.0M184.6 131.3h1.0M196.3 121.8h1.0M186.5 126.8h1.0M202.1 126.6h1.0M188.8 130.8h1.0M187.8 129.2h1.0M195.5 124.5h1.0M187.8 123.0h1.0M191.3 129.4h1.0M191.0 122.0h1.0M199.5 128.3h1.0M192.0 129.0h1.0M192.6 130.9h1.0M190.8 122.5h1.0M188.8 125.3h1.0M192.4 123.0h1.0M188.3 120.6h1.0M188.2 130.2h1.0M190.3 121.6h1.0M187.4 122.3h1.0M190.7 122.0h1.0M198.4 122.1h1.0M189.8 129.6h1.0M191.1 129.0h1.0M190.2 127.4h1.0M204.4 121.8h1.0M194.5 121.2h1.0M191.1 122.6h1.0M192.0 120.8h1.0M178.5 126.7h1.0M191.9 129.1h1.0M192.5 125.1h1.0M186.1 120.2h1.0M192.1 120.9h1.0M199.7 129.5h1.0M194.5 128.9h1.0M190.8 123.0h1.0M205.9 124.0h1.0M199.0 122.1h1.0M193.7 127.6h1.0M181.1 119.8h1.0M187.0 123.6h1.0M191.6 122.3h1.0M186.8 121.3h1.0M185.0 126.0h1.0M188.1 121.1h1.0M184.1 122.1h1.0M181.4 125.4h1.0M193.7 120.3h1.0M187.9 123.5h1.0M196.1 122.3h1.0M189.1 121.3h1.0M185.3 122.5h1.0M211.2 128.5h1.0M193.4 125.7h1.0M181.9 121.5h1.0M195.8 124.8h1.0M198.0 124.8h1.0M194.6 125.2h1.0M194.5 126.0h1.0M198.0 123.0h1.0M189.9 122.5h1.0M191.2 126.3h1.0M191.8 118.3h1.0M187.0 123.0h1.0M189.3 122.6h1.0M189.0 127.9h1.0M194.9 129.6h1.0M181.3 121.3h1.0M183.6 128.2h1.0M195.6 122.8h1.0M188.0 125.7h1.0M199.3 130.0h1.0M187.4 127.8h1.0M190.1 130.2h1.0M207.3 126.7h1.0M195.1 116.2h1.0M194.8 119.1h1.0M187.7 127.7h1.0M181.6 132.7h1.0M188.0 127.4h1.0M188.0 127.1h1.0M187.7 124.6h1.0M177.0 128.0h1.0M195.5 123.6h1.0M189.4 121.1h1.0M186.8 125.6h1.0M193.2 127.3h1.0M198.4 128.2h1.0M193.8 126.0h1.0M190.1 129.0h1.0M186.8 122.1h1.0M193.4 120.0h1.0M189.4 119.7h1.0M186.0 136.6h1.0M181.2 128.1h1.0M187.6 120.9h1.0M182.1 126.9h1.0M188.9 124.8h1.0M201.4 120.2h1.0M178.1 125.2h1.0M199.7 125.3h1.0M199.9 128.6h1.0M193.5 122.3h1.0M192.3 128.7h1.0M194.5 124.8h1.0M193.8 124.8h1.0M196.5 124.1h1.0M201.5 126.2h1.0M192.6 118.9h1.0M178.2 124.3h1.0M188.7 131.4h1.0M186.9 121.6h1.0M196.3 118.0h1.0M191.9 120.5h1.0M174.2 118.7h1.0M190.4 124.7h1.0M189.6 121.6h1.0M191.5 125.7h1.0M191.5 130.2h1.0M197.1 121.6h1.0M187.1 121.5h1.0M192.0 128.2h1.0M200.8 125.3h1.0M187.3 121.1h1.0M181.0 130.5h1.0M189.0 123.0h1.0M202.4 122.6h1.0M190.6 126.2h1.0M179.8 120.2h1.0M211.2 126.0h1.0M179.1 122.8h1.0M190.6 126.8h1.0M190.7 120.8h1.0M191.3 128.6h1.0M187.6 120.9h1.0M184.5 117.0h1.0M198.9 125.9h1.0M190.7 125.4h1.0M199.0 123.5h1.0M183.1 128.5h1.0M177.1 123.6h1.0M198.5 130.0h1.0M190.9 124.5h1.0M190.5 123.9h1.0M190.6 129.5h1.0M194.3 130.6h1.0M194.8 123.6h1.0M189.7 132.2h1.0M187.6 128.3h1.0M185.4 126.7h1.0M189.2 123.4h1.0M186.0 122.3h1.0M192.3 129.5h1.0M193.7 121.8h1.0M194.1 116.3h1.0M190.8 132.4h1.0M176.4 123.7h1.0M197.4 131.2h1.0M199.1 123.3h1.0M201.6 130.2h1.0M189.3 125.1h1.0M185.8 123.8h1.0M200.0 120.9h1.0M198.8 126.1h1.0M193.7 122.8h1.0M196.2 124.4h1.0M190.2 119.4h1.0M191.6 123.6h1.0M196.7 125.3h1.0M190.9 123.0h1.0M187.6 122.4h1.0M195.7 119.8h1.0M182.2 125.7h1.0M200.2 125.9h1.0M190.1 132.0h1.0M193.2 122.8h1.0M192.3 128.2h1.0M188.8 127.5h1.0M189.0 125.2h1.0M193.1 116.3h1.0M198.8 126.7h1.0M193.8 125.3h1.0M189.5 129.2h1.0M191.0 127.5h1.0M180.3 131.3h1.0M192.2 125.6h1.0M184.5 121.5h1.0M193.4 113.3h1.0M198.5 121.9h1.0M185.7 124.5h1.0M202.4 125.2h1.0M197.4 120.1h1.0M186.8 127.4h1.0M183.4 115.4h1.0M186.2 123.1h1.0M189.1 126.8h1.0M194.5 122.9h1.0M194.0 124.0h1.0M191.3 121.1h1.0M194.7 123.3h1.0M198.2 119.6h1.0M197.6 120.4h1.0M193.3 120.7h1.0M185.0 126.9h1.0M180.5 127.6h1.0M203.8 126.9h1.0M181.1 126.7h1.0M190.1 125.1h1.0M190.7 128.2h1.0M201.4 125.7h1.0M199.7 122.9h1.0M205.7 121.4h1.0M184.2 123.4h1.0M196.1 128.0h1.0M181.3 125.5h1.0M193.6 133.4h1.0M189.2 119.9h1.0M180.7 124.0h1.0M194.3 125.5h1.0M190.6 122.0h1.0M190.9 124.8h1.0M206.9 124.4h1.0M184.3 123.1h1.0M189.7 117.4h1.0M190.8 125.2h1.0M191.9 121.2h1.0M189.4 125.6h1.0M196.2 125.7h1.0M182.8 127.0h1.0M200.7 123.8h1.0M174.9 127.6h1.0M197.7 124.8h1.0M188.7 128.7h1.0M196.5 124.8h1.0M190.4 125.5h1.0M197.9 125.3h1.0M184.1 122.8h1.0M192.4 126.2h1.0M187.8 127.4h1.0M187.5 128.2h1.0M201.9 127.7h1.0M191.9 126.8h1.0M178.0 129.7h1.0M185.7 121.3h1.0M188.3 121.2h1.0M190.6 123.4h1.0M190.1 128.3h1.0M193.0 122.3h1.0M189.2 121.5h1.0M196.7 120.5h1.0M187.8 129.9h1.0M188.4 124.8h1.0M193.5 118.7h1.0M191.6 127.6h1.0M191.5 126.3h1.0M184.8 124.5h1.0M188.5 124.3h1.0M182.1 122.2h1.0M193.4 122.1h1.0M193.7 129.5h1.0M192.1 124.6h1.0M194.3 121.3h1.0" stroke="#2222a8" stroke-width="1.0" fill="none" opacity="1.0"/>
<path d="M309.0 99.9h0.8M304.4 141.5h0.8M305.5 116.0h0.8M311.5 109.8h0.8M312.2 112.9h0.8M321.1 111.7h0.8M321.9 113.9h0.8M312.3 113.3h0.8M339.9 98.6h0.8M314.4 126.6h0.8M324.0 101.9h0.8M301.5 115.5h0.8M332.5 127.3h0.8M315.6 111.3h0.8M313.5 114.1h0.8M297.4 96.0h0.8M315.5 144.2h0.8M319.7 90.8h0.8M301.5 115.3h0.8M302.9 119.8h0.8M306.5 104.9h0.8M298.5 122.6h0.8M321.1 122.2h0.8M325.8 114.6h0.8M333.0 101.6h0.8M326.9 110.6h0.8M310.2 106.8h0.8M324.5 119.7h0.8M331.8 103.7h0.8M319.9 103.1h0.8M324.3 137.7h0.8M304.4 133.2h0.8M303.6 138.9h0.8M319.6 125.5h0.8M302.7 141.0h0.8M316.2 110.9h0.8M330.9 106.4h0.8M314.0 112.2h0.8M307.0 133.5h0.8M340.6 104.0h0.8M339.1 133.7h0.8M312.9 127.2h0.8M345.0 108.6h0.8M310.3 103.5h0.8M346.2 132.8h0.8M307.2 115.9h0.8M327.1 114.4h0.8M333.9 119.1h0.8M335.2 123.3h0.8M321.3 109.8h0.8M323.0 130.4h0.8M297.2 126.9h0.8M336.1 132.2h0.8M324.3 116.1h0.8M304.4 105.9h0.8M314.1 103.8h0.8M320.5 112.0h0.8M315.0 136.9h0.8M321.8 129.4h0.8M296.3 127.6h0.8M308.3 142.5h0.8M299.3 108.3h0.8M299.7 116.3h0.8M309.4 142.6h0.8M347.1 124.1h0.8M332.1 111.2h0.8M304.8 127.7h0.8M314.2 131.2h0.8M316.4 139.0h0.8M317.9 120.1h0.8M332.8 122.7h0.8M338.3 111.4h0.8M307.5 132.9h0.8M326.5 111.5h0.8M304.8 110.0h0.8M318.9 115.8h0.8M304.7 107.0h0.8M326.3 135.1h0.8M339.3 108.0h0.8M304.5 127.1h0.8M314.7 129.7h0.8M330.9 113.2h0.8M316.8 95.9h0.8M297.8 128.5h0.8M345.9 94.2h0.8M299.1 111.2h0.8M327.6 91.4h0.8M318.1 137.1h0.8M287.7 101.2h0.8M327.0 133.5h0.8M306.9 130.1h0.8M330.2 97.9h0.8M316.4 109.5h0.8M313.6 120.7h0.8M302.9 90.7h0.8M299.1 98.8h0.8M314.8 130.7h0.8M310.5 107.3h0.8M310.7 128.2h0.8M315.7 118.0h0.8M308.5 116.8h0.8M312.3 133.8h0.8M318.2 134.7h0.8M323.4 121.1h0.8M294.4 114.4h0.8M304.9 131.7h0.8M322.0 123.0h0.8M315.2 136.6h0.8M290.6 127.6h0.8M312.0 102.7h0.8M307.6 116.4h0.8M321.1 132.9h0.8M308.2 106.4h0.8M330.8 133.3h0.8M303.4 106.9h0.8M321.3 112.8h0.8M326.2 106.1h0.8M332.1 140.3h0.8M322.7 108.0h0.8M333.5 139.7h0.8M315.0 113.5h0.8M325.2 116.1h0.8M297.0 127.4h0.8M328.4 91.7h0.8M341.7 100.9h0.8M300.5 103.8h0.8M316.7 115.7h0.8M293.8 118.4h0.8M322.7 106.6h0.8M285.1 100.0h0.8M307.1 127.4h0.8M310.1 123.1h0.8M355.5 116.6h0.8M314.0 129.8h0.8M333.9 136.4h0.8M317.3 98.2h0.8M290.6 103.8h0.8M311.9 98.6h0.8M296.1 111.2h0.8M310.0 107.6h0.8M341.2 130.1h0.8M298.3 129.7h0.8M314.2 104.2h0.8M314.4 102.6h0.8M313.7 126.9h0.8M317.8 112.6h0.8M302.9 105.8h0.8M296.8 116.0h0.8M322.9 122.5h0.8M315.1 135.7h0.8M321.9 124.9h0.8M301.4 110.6h0.8M310.1 132.2h0.8M314.7 113.9h0.8M313.3 139.2h0.8M309.0 105.1h0.8M320.0 115.5h0.8M336.0 133.9h0.8M321.4 114.8h0.8M317.6 137.4h0.8M323.2 126.8h0.8M284.1 100.1h0.8M314.9 126.6h0.8M326.2 118.6h0.8M292.6 118.5h0.8M305.8 84.5h0.8M304.1 110.5h0.8M319.2 128.0h0.8M319.2 116.6h0.8M309.6 116.3h0.8M301.2 127.3h0.8M317.0 132.3h0.8M324.8 111.3h0.8M315.8 116.5h0.8M317.7 79.1h0.8M304.1 146.0h0.8M318.7 138.5h0.8M310.0 94.4h0.8M313.2 112.0h0.8M306.5 135.2h0.8M337.5 107.2h0.8M344.8 131.3h0.8M301.2 133.1h0.8M322.9 117.9h0.8M295.4 124.2h0.8M307.0 144.3h0.8M303.1 95.2h0.8M323.9 100.1h0.8M338.3 104.0h0.8M327.7 102.8h0.8M310.5 119.9h0.8M307.9 128.0h0.8M308.0 138.9h0.8M330.2 93.7h0.8M345.8 122.6h0.8M306.3 122.2h0.8M319.6 130.1h0.8M329.9 135.8h0.8M300.4 122.0h0.8M309.3 94.6h0.8M306.8 102.1h0.8M323.2 113.4h0.8M322.9 116.6h0.8M319.7 125.0h0.8M306.6 115.5h0.8M315.5 110.0h0.8M303.9 122.1h0.8M326.6 145.6h0.8M320.7 121.7h0.8M302.6 116.9h0.8M325.0 142.9h0.8M329.1 109.4h0.8M320.9 136.8h0.8M310.7 118.1h0.8M306.8 110.0h0.8M298.3 135.8h0.8M309.0 119.9h0.8M325.5 113.8h0.8M303.0 109.1h0.8M303.3 119.8h0.8M309.3 134.8h0.8M313.0 125.7h0.8M304.9 91.1h0.8M313.0 132.1h0.8M331.5 135.7h0.8M312.0 112.3h0.8M319.5 112.6h0.8M325.3 130.2h0.8M330.9 105.7h0.8M338.2 89.0h0.8M312.9 109.3h0.8M316.8 113.2h0.8M333.1 105.8h0.8M327.6 100.3h0.8M316.9 122.8h0.8M330.9 99.7h0.8M286.7 142.8h0.8M304.4 113.0h0.8M315.0 138.3h0.8M327.5 135.4h0.8M336.0 125.0h0.8M314.4 137.6h0.8M331.6 122.2h0.8M292.1 108.7h0.8M323.8 110.5h0.8M319.2 123.3h0.8M329.9 144.5h0.8M288.1 110.4h0.8M337.7 117.2h0.8M293.7 125.8h0.8M299.3 131.6h0.8M331.6 112.2h0.8M301.5 125.6h0.8M312.9 113.5h0.8M309.6 110.5h0.8M304.2 130.5h0.8M333.9 105.1h0.8M299.9 129.3h0.8M336.0 126.1h0.8M334.1 129.9h0.8M319.0 114.0h0.8M307.3 116.6h0.8M293.2 140.0h0.8M302.2 122.0h0.8M323.1 116.6h0.8M317.4 106.1h0.8M312.1 129.2h0.8M327.7 97.9h0.8M316.9 91.4h0.8M316.6 118.9h0.8M298.8 139.4h0.8M298.7 136.0h0.8M294.5 128.5h0.8M290.9 110.0h0.8M299.3 122.1h0.8M306.0 114.2h0.8M320.6 102.4h0.8M309.0 120.9h0.8M303.9 123.1h0.8M332.7 95.1h0.8M305.9 111.7h0.8M325.0 128.2h0.8M332.1 134.6h0.8M301.5 119.5h0.8M314.8 126.1h0.8M315.0 90.2h0.8M317.4 135.1h0.8M316.2 112.9h0.8M317.4 113.8h0.8M329.2 110.3h0.8M291.1 130.3h0.8M324.6 110.9h0.8" stroke="#555" stroke-width="0.8" fill="none" opacity="0.6"/>
<path d="M314.1 123.7h0.8M318.9 104.5h0.8M327.7 143.4h0.8M315.6 104.4h0.8M325.1 130.8h0.8M307.5 98.8h0.8M303.4 109.9h0.8M305.6 110.2h0.8M311.3 97.0h0.8M318.0 130.1h0.8M296.7 112.0h0.8M310.7 106.0h0.8M315.3 102.7h0.8M321.9 110.4h0.8M305.2 118.6h0.8M315.3 129.7h0.8M315.8 109.8h0.8M331.5 116.3h0.8M317.6 130.0h0.8M309.3 112.8h0.8M307.4 135.3h0.8M306.5 101.6h0.8M303.9 133.7h0.8M323.8 106.1h0.8M307.5 139.4h0.8M308.6 114.4h0.8M307.9 141.4h0.8M307.9 98.3h0.8M316.0 117.2h0.8M311.6 106.0h0.8M297.8 104.1h0.8M331.3 95.8h0.8M326.0 139.5h0.8M326.7 118.5h0.8M326.5 128.6h0.8M302.8 121.1h0.8M306.1 92.0h0.8M323.9 106.1h0.8M317.6 100.6h0.8M324.3 121.6h0.8M312.2 104.7h0.8M308.5 116.5h0.8M309.1 103.5h0.8M320.2 118.6h0.8M324.2 124.4h0.8M304.2 116.0h0.8M306.9 99.6h0.8M316.1 111.7h0.8M318.7 110.0h0.8M321.1 112.9h0.8M317.3 126.4h0.8M330.8 110.8h0.8M297.0 97.7h0.8M326.2 134.4h0.8M323.0 131.6h0.8M312.1 109.2h0.8M327.0 123.8h0.8M320.4 122.2h0.8M315.3 97.2h0.8M325.8 118.4h0.8M309.0 110.2h0.8M323.4 108.3h0.8M305.5 119.9h0.8M323.3 125.8h0.8M323.2 119.0h0.8M314.1 94.7h0.8M314.4 109.0h0.8M330.6 110.2h0.8M318.7 124.5h0.8M305.7 102.9h0.8M327.2 129.0h0.8M300.8 116.5h0.8M327.9 106.9h0.8M316.1 116.8h0.8M312.5 109.9h0.8M291.7 103.0h0.8M312.3 117.6h0.8M331.5 142.4h0.8M327.9 117.5h0.8M305.7 113.3h0.8M325.2 113.9h0.8M317.8 129.5h0.8M307.3 107.8h0.8M329.1 121.8h0.8M324.3 118.7h0.8M306.7 130.4h0.8M312.3 121.4h0.8M321.1 121.0h0.8M305.7 121.4h0.8M304.4 119.5h0.8M312.3 132.5h0.8M310.6 114.2h0.8M314.4 94.6h0.8M313.7 115.2h0.8M308.7 113.9h0.8M318.1 119.8h0.8M320.6 127.2h0.8M325.9 112.5h0.8M318.6 115.3h0.8M311.5 110.1h0.8M306.0 117.6h0.8M324.2 110.9h0.8M311.3 105.5h0.8M303.8 103.5h0.8M317.2 97.2h0.8M329.9 124.2h0.8M315.9 108.8h0.8M323.6 111.7h0.8M332.9 114.0h0.8M319.6 106.3h0.8M325.3 120.9h0.8M320.1 133.8h0.8M307.9 95.5h0.8M298.1 108.0h0.8M312.5 111.5h0.8M320.0 127.4h0.8M309.2 129.0h0.8M310.9 105.0h0.8M322.3 125.1h0.8M321.8 104.8h0.8" stroke="#222" stroke-width="0.8" fill="none" opacity="0.6"/>
<path d="M307.4 129.4h0.8M286.1 127.1h0.8M295.8 126.7h0.8M288.1 137.6h0.8M289.0 129.3h0.8M293.3 128.6h0.8M308.7 126.6h0.8M305.1 127.5h0.8M301.9 126.3h0.8M278.6 123.1h0.8M288.3 122.5h0.8M299.5 129.3h0.8M285.9 137.6h0.8M291.7 129.2h0.8M291.7 121.7h0.8M295.1 120.8h0.8M282.9 114.8h0.8M295.4 130.7h0.8M293.3 124.4h0.8M291.6 132.1h0.8M288.8 126.5h0.8M297.3 126.1h0.8M297.0 131.0h0.8M291.0 139.1h0.8M287.1 126.9h0.8M296.3 126.6h0.8M282.8 127.1h0.8M284.5 125.8h0.8M299.0 131.7h0.8M293.5 123.8h0.8M314.7 126.2h0.8M311.5 121.9h0.8M296.1 136.9h0.8M285.2 119.3h0.8M303.3 136.9h0.8M301.8 129.7h0.8M288.7 129.2h0.8M302.4 124.5h0.8M282.4 118.4h0.8M289.2 133.8h0.8M281.2 127.1h0.8M312.0 129.4h0.8M291.7 121.8h0.8M278.6 135.6h0.8M280.7 127.7h0.8M303.3 123.1h0.8M291.8 133.3h0.8M295.0 134.5h0.8M304.8 136.3h0.8M280.0 128.8h0.8M294.5 125.7h0.8M306.1 132.9h0.8M286.9 126.2h0.8M292.7 132.0h0.8M287.1 122.8h0.8M279.9 131.8h0.8M312.1 129.4h0.8M299.7 131.9h0.8M282.8 130.8h0.8M308.6 133.4h0.8M292.0 122.1h0.8M287.3 134.4h0.8M288.0 127.6h0.8M296.2 125.1h0.8M285.0 129.7h0.8M286.5 124.2h0.8M305.0 131.5h0.8M301.3 121.1h0.8M301.7 133.6h0.8M304.1 138.0h0.8M281.4 121.4h0.8M289.2 124.0h0.8M303.2 130.0h0.8M286.1 124.2h0.8M282.3 124.8h0.8M281.0 139.0h0.8M302.1 124.9h0.8M292.7 132.2h0.8M294.1 135.1h0.8M295.9 141.8h0.8M300.8 120.2h0.8M284.4 123.8h0.8M311.5 125.2h0.8M303.3 118.1h0.8M299.5 120.3h0.8M289.6 127.1h0.8M280.7 142.0h0.8M283.2 124.0h0.8M310.8 133.1h0.8M304.7 120.7h0.8M294.3 122.5h0.8M286.9 138.2h0.8M304.0 122.0h0.8M282.3 132.1h0.8M296.7 125.2h0.8M296.8 119.0h0.8M287.1 122.6h0.8M306.6 127.2h0.8M284.6 122.6h0.8M305.1 129.6h0.8M289.3 125.1h0.8M301.8 125.5h0.8M292.2 123.0h0.8M293.0 132.6h0.8M325.1 125.2h0.8M300.3 125.0h0.8M287.3 122.2h0.8M290.9 127.6h0.8M311.6 129.7h0.8M289.0 133.6h0.8M285.6 131.8h0.8M296.8 123.9h0.8M298.9 134.5h0.8M300.8 115.4h0.8M291.4 118.1h0.8M301.7 130.3h0.8M306.2 129.0h0.8M311.2 123.0h0.8M290.4 131.4h0.8M298.0 117.5h0.8M286.5 131.0h0.8M295.5 122.5h0.8M291.4 126.2h0.8M292.1 130.1h0.8M300.7 122.2h0.8M317.0 129.1h0.8M293.0 139.2h0.8M294.4 119.7h0.8M281.3 123.4h0.8M288.1 116.0h0.8M290.4 121.6h0.8M306.7 129.9h0.8M285.9 133.6h0.8M292.3 114.4h0.8M293.9 136.3h0.8M294.9 123.2h0.8M294.9 123.4h0.8M300.0 128.9h0.8M291.1 132.4h0.8M310.9 129.3h0.8M307.0 132.5h0.8M292.6 127.6h0.8M309.0 129.8h0.8M303.9 117.3h0.8M302.0 116.2h0.8M313.8 129.4h0.8M303.2 123.1h0.8M293.9 120.4h0.8M285.1 128.7h0.8M291.1 125.4h0.8M292.8 136.0h0.8M304.4 139.4h0.8M292.2 123.7h0.8M296.9 132.3h0.8M280.9 131.6h0.8M291.8 130.5h0.8M297.8 125.7h0.8M287.0 125.8h0.8M305.5 116.5h0.8M296.4 126.5h0.8M292.8 128.7h0.8M298.9 127.4h0.8M307.6 125.5h0.8M316.1 115.3h0.8M310.5 125.1h0.8M282.6 121.6h0.8M289.6 128.4h0.8M293.7 135.7h0.8M293.0 125.4h0.8M291.0 130.8h0.8M295.0 137.1h0.8M288.9 125.0h0.8M289.7 122.2h0.8M290.1 121.4h0.8M282.5 110.0h0.8M285.1 130.4h0.8M295.8 115.9h0.8M284.8 129.8h0.8M293.9 127.7h0.8M290.0 132.1h0.8M294.6 143.1h0.8M300.6 127.7h0.8M291.3 122.9h0.8M283.5 127.9h0.8M298.8 136.8h0.8M296.8 132.8h0.8M297.1 125.6h0.8M299.4 130.8h0.8M291.7 125.4h0.8M292.8 113.8h0.8" stroke="#c03030" stroke-width="0.8" fill="none" opacity="0.7"/>
<ellipse cx="306.5" cy="126" rx="5.2" ry="4.6" transform="rotate(0 306.5 126)" fill="#b01818" opacity="0.85" filter="url(#cf)"/>
<path d="M307.7 121.4h1.0M315.5 125.6h1.0M307.7 127.3h1.0M299.9 131.1h1.0M304.3 129.8h1.0M311.9 129.3h1.0M295.6 122.4h1.0M305.0 122.0h1.0M306.5 131.4h1.0M311.6 124.8h1.0M302.4 128.7h1.0M309.6 125.3h1.0M303.3 131.4h1.0M313.5 130.5h1.0M310.0 124.8h1.0M307.9 122.6h1.0M312.9 122.6h1.0M303.7 125.2h1.0M306.0 131.1h1.0M310.0 123.6h1.0M308.0 127.1h1.0M312.6 120.7h1.0M304.5 122.7h1.0M307.5 129.2h1.0M305.9 133.5h1.0M302.9 126.7h1.0M304.1 121.5h1.0M305.0 126.3h1.0M304.0 123.9h1.0M306.5 123.9h1.0M310.4 128.2h1.0M306.9 129.6h1.0M297.9 122.9h1.0M311.8 123.2h1.0M310.5 127.6h1.0M307.2 125.5h1.0M302.0 121.1h1.0M299.8 127.6h1.0M306.5 127.2h1.0M302.2 126.3h1.0M310.9 123.6h1.0M304.7 124.9h1.0M314.8 129.9h1.0M314.3 135.0h1.0M305.7 127.2h1.0M297.2 126.5h1.0M304.6 126.2h1.0M307.1 118.8h1.0M307.8 124.5h1.0M301.4 123.9h1.0M309.6 123.7h1.0M311.9 127.6h1.0M306.3 122.6h1.0M302.8 129.6h1.0M306.2 126.6h1.0M307.3 128.6h1.0M309.2 124.5h1.0M307.4 125.1h1.0M308.3 120.6h1.0M305.3 130.1h1.0M301.1 123.4h1.0M307.0 121.6h1.0M306.4 126.7h1.0M309.1 126.3h1.0M307.3 124.2h1.0M307.1 126.6h1.0M308.0 128.2h1.0M309.1 128.0h1.0M307.2 126.0h1.0M304.2 128.0h1.0M311.1 124.1h1.0M308.7 125.3h1.0M305.5 122.3h1.0M305.2 127.9h1.0M308.2 128.6h1.0M303.5 118.3h1.0M309.0 125.6h1.0M308.9 131.9h1.0M310.4 118.6h1.0M304.2 124.6h1.0M312.5 123.2h1.0M304.8 129.4h1.0M299.0 123.8h1.0M300.6 122.0h1.0M307.9 125.8h1.0M305.5 125.4h1.0M304.3 125.4h1.0M308.1 123.0h1.0M306.7 124.1h1.0M309.9 129.9h1.0M308.8 129.2h1.0M304.4 124.7h1.0M307.1 124.9h1.0M308.7 125.3h1.0M301.3 122.5h1.0M307.4 133.9h1.0M306.8 120.7h1.0M307.3 123.5h1.0M301.0 134.8h1.0M315.9 125.7h1.0M306.2 124.9h1.0M309.7 128.7h1.0M310.7 122.2h1.0M305.3 128.6h1.0M307.0 120.9h1.0M306.4 129.3h1.0M297.9 131.2h1.0M305.8 131.0h1.0M310.3 127.2h1.0M306.1 125.4h1.0M303.7 126.5h1.0M307.8 120.8h1.0M304.0 117.9h1.0M300.1 123.2h1.0M308.2 125.9h1.0M306.7 124.3h1.0M301.8 128.6h1.0M309.1 121.9h1.0M305.1 127.1h1.0M302.0 123.1h1.0M308.0 126.2h1.0M310.1 124.9h1.0M308.9 127.7h1.0M314.0 123.3h1.0M306.2 122.6h1.0M308.9 128.4h1.0M313.1 125.4h1.0M309.9 126.8h1.0M313.3 126.3h1.0M305.9 129.0h1.0M306.3 123.8h1.0M299.6 127.7h1.0M311.7 126.6h1.0M310.7 124.9h1.0M309.7 129.1h1.0M305.1 121.5h1.0M305.7 126.3h1.0M309.5 119.7h1.0M312.5 128.1h1.0M305.6 122.6h1.0M304.1 127.5h1.0M308.3 127.3h1.0M300.3 124.5h1.0M306.4 125.3h1.0M304.1 126.6h1.0M311.4 121.7h1.0M311.5 122.8h1.0M302.8 122.7h1.0M309.7 127.7h1.0M310.8 123.4h1.0M301.9 133.2h1.0M308.8 117.7h1.0M302.4 126.3h1.0M312.4 132.4h1.0M302.4 128.3h1.0M305.8 125.1h1.0M304.9 122.0h1.0M303.0 124.9h1.0M308.4 121.4h1.0M312.3 124.8h1.0M309.7 122.8h1.0M301.8 129.8h1.0M308.8 119.5h1.0M308.5 120.6h1.0M308.3 128.7h1.0M306.6 124.9h1.0M305.8 125.8h1.0M303.2 127.4h1.0M304.1 120.2h1.0M307.7 132.0h1.0M310.7 125.4h1.0M303.6 124.3h1.0M311.9 128.6h1.0M303.1 126.8h1.0M312.5 126.3h1.0M307.1 124.2h1.0M299.9 129.0h1.0M309.2 128.5h1.0M311.6 125.8h1.0M305.0 127.6h1.0M301.8 119.5h1.0M305.2 124.0h1.0M303.1 126.4h1.0M309.5 123.9h1.0M298.6 120.4h1.0M303.0 125.3h1.0M306.5 127.7h1.0M314.7 122.7h1.0M310.7 125.5h1.0M307.3 125.0h1.0M310.9 129.0h1.0M312.6 133.2h1.0M301.5 125.9h1.0M310.4 129.7h1.0M309.0 124.0h1.0M315.0 123.3h1.0M310.7 124.9h1.0M305.8 129.3h1.0M303.6 129.0h1.0M307.3 122.9h1.0M306.6 127.1h1.0M309.6 130.0h1.0M301.4 123.7h1.0M303.9 121.5h1.0M314.5 124.7h1.0M305.6 124.8h1.0M303.3 129.3h1.0M307.3 123.9h1.0M305.5 127.5h1.0M307.9 129.1h1.0M311.7 124.5h1.0M302.8 124.6h1.0M307.2 124.1h1.0M307.9 122.1h1.0M306.5 127.2h1.0M303.3 128.6h1.0M313.1 115.9h1.0M303.5 125.5h1.0M309.6 122.7h1.0M307.3 130.8h1.0M307.8 124.2h1.0M304.3 126.9h1.0M308.4 127.3h1.0M306.6 118.9h1.0M303.3 125.0h1.0M307.2 127.8h1.0M304.1 128.4h1.0M312.7 127.7h1.0M309.6 124.6h1.0M302.6 127.6h1.0M308.0 129.5h1.0M305.2 122.6h1.0M302.5 126.8h1.0M298.7 130.3h1.0M304.7 125.9h1.0M305.3 131.1h1.0M301.1 128.2h1.0M308.0 129.8h1.0M309.7 122.4h1.0M300.0 118.7h1.0M305.0 127.4h1.0M306.9 124.4h1.0M308.2 121.0h1.0M311.2 130.7h1.0M311.0 128.2h1.0M313.1 121.0h1.0M302.1 125.9h1.0M306.3 124.7h1.0M308.3 124.7h1.0M312.7 126.0h1.0M296.9 124.4h1.0M303.4 120.9h1.0M310.0 122.5h1.0M298.8 124.4h1.0M313.5 125.9h1.0M313.8 128.0h1.0M313.6 128.1h1.0M308.7 115.8h1.0M300.7 121.1h1.0M305.0 128.9h1.0M309.1 127.7h1.0M298.4 122.2h1.0M305.3 127.4h1.0M306.7 122.6h1.0M300.2 128.9h1.0M302.0 125.0h1.0M306.1 127.2h1.0M303.0 121.6h1.0M305.3 122.7h1.0M306.6 120.5h1.0M304.5 121.4h1.0M314.7 119.5h1.0M304.0 124.5h1.0M303.8 121.3h1.0M302.2 125.0h1.0M312.0 130.1h1.0M313.5 124.1h1.0M307.1 130.4h1.0M308.8 126.8h1.0M307.0 129.0h1.0M304.5 127.2h1.0M303.4 128.7h1.0M308.9 126.0h1.0M301.3 125.7h1.0M313.0 124.2h1.0M307.8 120.1h1.0M302.2 125.8h1.0M310.0 128.7h1.0M304.0 132.3h1.0M295.3 120.8h1.0M310.7 130.3h1.0M313.3 122.9h1.0M300.7 120.9h1.0M302.5 127.3h1.0M304.7 124.5h1.0M308.8 125.1h1.0M307.0 130.9h1.0M303.5 126.2h1.0M303.2 128.3h1.0M301.6 122.7h1.0M309.0 119.0h1.0M313.6 128.0h1.0M305.6 124.6h1.0M308.4 127.2h1.0M302.3 126.3h1.0M302.9 124.1h1.0M306.2 126.1h1.0M305.1 125.6h1.0M304.7 124.8h1.0M312.6 130.7h1.0M302.8 118.5h1.0M309.6 132.2h1.0M305.5 127.2h1.0M306.6 127.1h1.0M304.4 125.9h1.0M305.5 125.0h1.0M307.2 121.3h1.0M310.9 126.3h1.0M307.3 123.6h1.0M298.4 125.6h1.0M304.6 117.8h1.0M311.1 131.1h1.0M305.3 127.6h1.0M312.4 128.1h1.0M295.0 130.1h1.0M299.1 124.4h1.0M312.7 123.2h1.0M300.4 125.5h1.0M305.2 118.6h1.0M312.2 125.7h1.0M305.6 126.0h1.0M306.7 130.3h1.0M305.4 123.7h1.0M308.1 126.7h1.0M308.9 122.8h1.0M308.1 127.7h1.0M302.2 127.6h1.0M306.1 130.6h1.0M312.9 126.9h1.0M301.8 125.7h1.0M302.7 123.0h1.0M311.2 127.7h1.0M305.0 122.2h1.0M307.0 130.3h1.0M308.6 126.5h1.0M307.2 130.4h1.0M309.7 126.4h1.0M298.0 128.2h1.0M307.1 125.8h1.0M310.9 123.3h1.0M307.6 126.3h1.0M300.7 125.2h1.0M306.9 129.6h1.0M308.5 125.9h1.0M309.4 118.9h1.0M304.7 123.3h1.0M308.4 131.7h1.0M309.3 129.2h1.0M309.7 131.3h1.0M302.0 127.5h1.0M303.1 124.3h1.0M309.2 128.8h1.0M306.0 129.6h1.0M306.4 125.6h1.0M306.6 126.2h1.0M311.0 129.5h1.0M304.9 125.4h1.0M304.6 127.8h1.0M307.8 127.6h1.0M302.2 126.9h1.0M304.1 122.5h1.0M306.6 124.9h1.0M308.4 127.5h1.0M306.4 127.7h1.0M307.6 125.8h1.0M303.3 129.2h1.0M310.1 129.4h1.0M302.7 122.8h1.0M307.3 128.8h1.0M306.6 129.7h1.0" stroke="#b01818" stroke-width="1.0" fill="none" opacity="1.0"/>
<path d="M317.6 110.5h0.9M315.0 102.0h0.9M317.4 110.8h0.9M318.8 107.1h0.9M323.0 103.3h0.9M323.2 101.2h0.9M324.3 101.0h0.9M317.1 109.6h0.9M324.5 96.0h0.9M323.4 114.3h0.9M321.5 98.5h0.9M317.6 110.0h0.9M314.1 113.8h0.9M325.6 98.8h0.9M317.1 111.3h0.9M318.5 111.1h0.9M319.2 103.8h0.9M320.1 111.1h0.9M322.3 106.6h0.9M324.5 116.6h0.9M322.8 98.3h0.9M318.6 105.7h0.9M322.0 115.2h0.9M318.7 114.8h0.9M317.0 109.0h0.9M319.2 105.4h0.9M324.1 104.7h0.9M320.8 117.8h0.9M321.3 98.4h0.9M317.4 104.0h0.9M321.2 108.8h0.9M315.5 99.9h0.9M316.7 106.9h0.9M321.6 105.7h0.9M322.0 105.8h0.9M320.7 116.1h0.9M322.8 103.7h0.9M319.5 114.1h0.9M320.4 102.8h0.9M321.8 99.2h0.9M321.2 104.0h0.9M321.5 120.8h0.9M321.3 100.5h0.9M315.6 107.9h0.9M319.7 98.6h0.9M318.9 107.0h0.9M317.2 106.0h0.9M321.9 102.5h0.9M324.4 101.5h0.9M317.2 113.7h0.9M319.2 102.5h0.9M317.8 109.7h0.9M318.6 103.9h0.9M315.2 98.3h0.9M319.3 98.0h0.9M319.0 113.6h0.9M320.8 113.6h0.9M317.6 110.6h0.9M319.2 111.6h0.9M317.2 107.6h0.9M323.2 108.0h0.9M321.2 105.1h0.9M313.5 101.5h0.9M318.2 112.6h0.9M320.8 100.6h0.9M323.2 109.4h0.9M315.7 115.1h0.9M321.6 124.5h0.9M323.6 97.1h0.9M323.8 108.3h0.9M319.3 108.9h0.9M322.4 104.7h0.9M317.7 110.8h0.9M321.5 99.5h0.9M324.3 105.2h0.9M326.0 116.2h0.9M320.0 112.0h0.9M317.4 108.1h0.9M314.9 99.8h0.9M320.3 110.8h0.9M323.0 114.1h0.9M323.5 103.9h0.9M320.2 102.9h0.9M320.5 95.6h0.9M318.0 115.8h0.9M320.9 102.6h0.9M322.4 108.6h0.9M320.3 104.5h0.9M317.4 106.6h0.9M320.8 107.0h0.9M324.8 107.0h0.9M321.4 114.9h0.9M322.9 94.0h0.9M320.2 100.4h0.9M318.2 112.9h0.9M325.2 109.6h0.9M313.6 103.8h0.9M319.5 103.8h0.9M325.2 109.9h0.9M322.5 107.3h0.9M323.1 105.9h0.9M316.6 106.8h0.9M318.4 97.2h0.9M314.6 103.1h0.9M319.6 118.3h0.9M318.6 102.3h0.9M320.2 111.9h0.9M316.7 105.1h0.9M324.2 117.1h0.9M318.1 95.9h0.9M320.0 105.3h0.9M323.6 112.4h0.9M320.5 101.4h0.9M321.4 101.3h0.9M317.6 106.4h0.9M326.2 118.1h0.9M324.7 96.6h0.9M322.2 101.9h0.9M321.8 112.4h0.9M322.5 102.6h0.9M317.4 111.3h0.9M324.1 102.1h0.9M317.8 106.0h0.9M318.8 112.9h0.9M323.5 112.1h0.9M318.6 101.3h0.9M319.5 107.7h0.9M323.0 109.6h0.9M319.4 110.6h0.9M322.8 106.2h0.9M317.6 110.0h0.9M323.4 111.4h0.9M317.5 109.8h0.9M320.8 105.6h0.9M320.1 103.7h0.9M318.6 109.0h0.9M320.5 107.9h0.9M317.2 108.5h0.9M325.2 100.4h0.9M320.8 107.0h0.9M321.4 111.7h0.9M318.8 112.7h0.9M322.5 105.3h0.9M322.5 114.8h0.9M324.8 106.1h0.9M323.1 107.3h0.9M318.4 122.4h0.9M323.8 112.5h0.9M320.0 109.0h0.9M319.5 119.6h0.9M319.2 108.0h0.9M323.4 106.9h0.9M323.5 109.4h0.9M320.6 107.7h0.9M315.0 113.5h0.9M322.5 109.9h0.9M321.3 101.1h0.9M320.9 101.7h0.9M319.0 100.0h0.9M319.6 113.7h0.9M321.9 101.5h0.9M318.1 114.0h0.9M319.9 112.6h0.9M325.4 113.6h0.9M317.5 93.1h0.9M325.3 98.7h0.9M316.4 103.8h0.9M319.6 110.9h0.9M318.6 101.6h0.9M323.0 101.1h0.9M328.5 98.4h0.9M320.8 114.5h0.9M320.7 97.1h0.9M320.5 113.9h0.9M318.5 97.1h0.9M320.5 93.9h0.9M322.0 111.8h0.9M321.0 100.0h0.9M323.8 115.8h0.9M324.0 104.8h0.9M322.1 102.9h0.9M324.2 104.6h0.9M317.1 105.9h0.9M322.2 106.6h0.9M320.1 101.2h0.9M320.9 106.7h0.9M320.8 106.2h0.9M320.4 102.0h0.9M325.9 97.0h0.9M321.2 114.4h0.9M315.5 96.6h0.9M322.7 123.2h0.9M323.7 104.6h0.9M319.0 103.4h0.9M316.8 103.1h0.9M323.1 105.0h0.9M321.6 112.1h0.9M318.6 104.7h0.9M321.0 102.0h0.9M320.8 111.0h0.9M320.6 96.7h0.9M321.3 105.8h0.9M320.4 99.7h0.9M320.7 106.3h0.9M318.8 102.2h0.9M320.0 95.1h0.9M321.2 103.8h0.9M323.5 95.5h0.9M319.1 108.8h0.9M321.2 104.2h0.9M323.3 104.0h0.9M321.9 106.6h0.9M319.7 102.1h0.9M318.5 103.5h0.9M321.4 103.2h0.9M317.4 110.6h0.9M320.8 110.3h0.9M320.7 117.2h0.9M322.6 108.8h0.9M321.9 113.0h0.9M320.9 111.4h0.9M319.9 116.5h0.9M320.0 86.9h0.9M322.4 104.9h0.9M320.0 111.2h0.9M312.5 95.8h0.9M320.0 98.7h0.9M322.2 110.1h0.9M319.2 112.1h0.9M314.9 106.4h0.9M323.0 115.4h0.9M322.1 116.2h0.9M321.7 106.2h0.9M321.4 122.1h0.9M326.8 109.4h0.9M322.0 110.3h0.9M316.3 103.9h0.9M321.0 102.3h0.9M319.9 99.5h0.9M320.2 113.0h0.9M320.6 112.0h0.9M320.0 102.0h0.9M320.8 96.0h0.9M318.3 104.8h0.9M318.8 109.2h0.9M318.2 112.5h0.9M322.8 107.6h0.9M318.5 99.8h0.9M322.2 105.2h0.9M328.2 112.1h0.9M324.5 101.2h0.9M320.2 103.8h0.9M313.5 108.3h0.9M319.2 104.9h0.9M321.5 113.0h0.9M322.1 117.4h0.9M318.5 111.9h0.9M318.2 105.3h0.9M323.6 110.0h0.9M321.1 108.2h0.9M322.4 114.7h0.9M322.2 104.3h0.9M322.8 106.8h0.9M321.2 107.9h0.9M323.2 108.4h0.9M319.4 98.3h0.9M316.7 109.1h0.9M318.6 112.3h0.9M320.6 108.7h0.9M320.4 122.6h0.9M323.2 110.2h0.9M322.4 92.4h0.9M318.0 114.3h0.9M324.1 102.3h0.9M314.5 98.9h0.9M321.9 105.7h0.9M323.6 105.4h0.9M321.2 110.0h0.9M320.1 104.1h0.9M318.6 105.6h0.9M320.5 112.9h0.9M320.6 103.4h0.9M317.3 102.0h0.9M321.5 107.5h0.9M324.2 106.0h0.9M319.2 115.4h0.9M323.2 114.2h0.9M316.9 106.5h0.9M321.1 108.1h0.9M313.7 107.1h0.9M320.4 113.6h0.9M319.8 107.2h0.9M319.9 100.1h0.9M322.3 118.5h0.9M317.7 116.2h0.9M325.3 98.4h0.9M316.7 102.0h0.9M317.7 102.5h0.9M317.4 104.7h0.9M321.7 111.7h0.9M319.8 100.7h0.9M322.0 110.6h0.9M318.2 109.3h0.9M317.2 102.5h0.9M320.7 105.2h0.9M323.6 105.8h0.9M321.1 113.7h0.9M315.9 110.7h0.9M323.7 105.5h0.9M323.5 100.0h0.9M317.8 98.4h0.9M325.0 101.4h0.9M321.9 96.3h0.9M323.1 98.2h0.9M318.2 90.7h0.9M316.6 112.5h0.9M316.3 116.5h0.9M326.7 105.5h0.9M316.3 104.3h0.9M321.0 93.9h0.9M318.4 107.6h0.9M321.6 94.8h0.9M320.2 107.3h0.9M323.6 108.6h0.9M323.5 110.3h0.9M317.9 124.1h0.9M322.4 108.4h0.9M319.3 116.6h0.9M320.7 110.4h0.9M321.0 105.9h0.9" stroke="#238c23" stroke-width="0.9" fill="none" opacity="0.85"/>
<ellipse cx="320" cy="126" rx="4" ry="4" transform="rotate(0 320 126)" fill="#1a1a9c" opacity="0.9" filter="url(#cf)"/>
<path d="M314.7 124.1h1.0M325.6 126.7h1.0M317.7 123.1h1.0M317.1 124.6h1.0M319.3 130.3h1.0M321.0 131.1h1.0M314.4 125.3h1.0M313.6 119.2h1.0M320.6 120.3h1.0M320.0 123.1h1.0M323.6 129.5h1.0M314.7 128.2h1.0M319.8 127.4h1.0M318.1 129.6h1.0M323.0 125.7h1.0M314.6 118.5h1.0M323.0 126.4h1.0M315.1 122.9h1.0M328.4 122.4h1.0M320.9 129.8h1.0M327.5 126.8h1.0M321.5 122.2h1.0M321.4 125.7h1.0M316.2 122.3h1.0M324.0 129.1h1.0M328.7 124.8h1.0M313.1 132.2h1.0M321.9 131.2h1.0M317.6 124.6h1.0M324.9 123.4h1.0M319.7 125.9h1.0M322.9 129.2h1.0M317.4 128.9h1.0M319.2 125.6h1.0M320.5 128.9h1.0M319.7 127.5h1.0M317.5 121.6h1.0M316.3 126.8h1.0M320.3 126.5h1.0M315.6 123.7h1.0M320.2 128.2h1.0M321.7 125.0h1.0M317.7 121.4h1.0M318.3 129.6h1.0M319.3 124.3h1.0M320.9 134.5h1.0M318.5 123.0h1.0M314.4 119.7h1.0M321.3 127.0h1.0M318.0 127.2h1.0M321.9 123.6h1.0M320.9 128.6h1.0M315.1 125.5h1.0M320.2 120.4h1.0M328.0 129.3h1.0M326.3 121.5h1.0M319.8 129.6h1.0M318.4 132.5h1.0M316.4 125.9h1.0M318.8 120.9h1.0M319.2 126.0h1.0M316.4 124.5h1.0M323.2 128.7h1.0M321.5 128.2h1.0M324.3 125.5h1.0M317.7 126.4h1.0M320.5 124.0h1.0M320.8 127.0h1.0M323.6 123.1h1.0M324.2 125.5h1.0M315.4 129.4h1.0M321.8 126.4h1.0M316.3 128.7h1.0M316.6 122.7h1.0M319.8 129.0h1.0M320.1 126.4h1.0M317.0 128.9h1.0M318.8 127.9h1.0M329.3 126.7h1.0M316.6 121.6h1.0M316.8 122.9h1.0M320.9 130.1h1.0M320.1 125.1h1.0M322.1 123.4h1.0M319.2 128.8h1.0M324.0 124.9h1.0M318.8 124.5h1.0M321.0 130.8h1.0M320.2 122.4h1.0M323.6 129.4h1.0M323.8 128.6h1.0M318.8 122.8h1.0M321.9 125.1h1.0M320.4 130.1h1.0M314.1 120.7h1.0M315.2 123.8h1.0M319.6 127.0h1.0M317.3 129.5h1.0M319.0 128.3h1.0M325.4 129.5h1.0M319.0 125.8h1.0M321.7 128.6h1.0M316.2 122.6h1.0M318.1 129.3h1.0M320.7 125.7h1.0M315.3 121.7h1.0M321.2 122.7h1.0M323.1 123.3h1.0M320.6 128.3h1.0M321.8 125.9h1.0M327.1 125.7h1.0M321.4 125.0h1.0M323.4 129.8h1.0M324.0 126.9h1.0M323.2 122.9h1.0M318.8 128.1h1.0M312.8 121.1h1.0M322.3 126.6h1.0M319.1 125.4h1.0M324.9 127.4h1.0M318.8 121.5h1.0M320.4 122.5h1.0M319.4 123.7h1.0M324.2 123.8h1.0M319.9 130.4h1.0M312.6 124.4h1.0M314.7 130.9h1.0M321.4 125.8h1.0M320.6 128.4h1.0M322.0 126.4h1.0M323.2 127.3h1.0M326.6 122.7h1.0M319.0 128.5h1.0M322.8 124.5h1.0M324.5 129.0h1.0M325.8 125.3h1.0M324.2 125.9h1.0M321.4 128.5h1.0M318.8 125.2h1.0M326.0 123.2h1.0M322.0 130.3h1.0M325.2 125.6h1.0M316.8 129.6h1.0M318.3 126.1h1.0M317.7 121.8h1.0M318.1 125.2h1.0M314.2 130.4h1.0M319.2 131.1h1.0M323.8 124.3h1.0M319.9 124.6h1.0M320.0 126.3h1.0M321.3 127.4h1.0M320.6 124.1h1.0M314.9 126.7h1.0M319.4 128.1h1.0M318.0 126.8h1.0M316.9 127.2h1.0M319.2 127.3h1.0M328.6 128.6h1.0M319.7 126.9h1.0M320.2 125.9h1.0M320.3 126.1h1.0M320.1 129.1h1.0M323.3 131.4h1.0M321.7 127.4h1.0M327.9 121.7h1.0M320.8 127.6h1.0M322.2 124.1h1.0M318.8 121.7h1.0M318.4 120.3h1.0M322.6 125.5h1.0M316.7 130.3h1.0M320.0 123.0h1.0M321.5 124.5h1.0M313.8 126.2h1.0M325.0 120.8h1.0M318.6 128.1h1.0M321.0 128.7h1.0M319.2 130.0h1.0M320.1 125.8h1.0M321.3 125.2h1.0M319.0 124.6h1.0M317.3 123.8h1.0M315.7 127.7h1.0M321.0 120.0h1.0M318.6 126.1h1.0M316.7 127.2h1.0M318.1 126.1h1.0M316.9 126.6h1.0M320.5 132.9h1.0M325.1 126.5h1.0M320.2 126.2h1.0M320.8 119.4h1.0M319.8 127.9h1.0M320.1 122.3h1.0M315.0 120.5h1.0M325.2 128.2h1.0M324.3 125.0h1.0M317.6 121.2h1.0M321.1 121.6h1.0M317.4 129.5h1.0M324.7 125.2h1.0M322.8 126.4h1.0M321.5 122.0h1.0M320.9 126.7h1.0M321.3 127.1h1.0M320.4 127.6h1.0M317.5 127.1h1.0M317.1 126.3h1.0M318.6 123.9h1.0M318.1 124.3h1.0M322.6 123.8h1.0M321.2 127.6h1.0M327.1 129.0h1.0M317.0 122.4h1.0M320.3 127.5h1.0M317.9 128.9h1.0M313.9 119.9h1.0M317.6 127.9h1.0M323.0 126.3h1.0M324.7 127.5h1.0M319.6 130.6h1.0M321.2 123.7h1.0M321.1 122.9h1.0M323.6 125.4h1.0M314.4 129.9h1.0M321.4 124.6h1.0M320.6 128.1h1.0M320.0 126.8h1.0M323.5 124.8h1.0M320.1 131.5h1.0M319.1 124.0h1.0M320.4 129.1h1.0M317.6 125.4h1.0M318.1 131.4h1.0M324.1 127.1h1.0M323.8 122.0h1.0M317.7 127.0h1.0M324.4 121.6h1.0M321.2 125.2h1.0M319.2 126.4h1.0M316.6 130.4h1.0M318.3 127.1h1.0M316.5 124.0h1.0M314.4 130.5h1.0M328.6 126.3h1.0M321.3 132.2h1.0M318.1 126.9h1.0M317.9 128.7h1.0M321.6 129.4h1.0M323.5 123.0h1.0M318.2 126.8h1.0M322.1 125.9h1.0M322.2 128.6h1.0M318.8 126.3h1.0M318.8 122.6h1.0M323.5 131.8h1.0M319.6 131.4h1.0M325.4 124.4h1.0M319.2 124.6h1.0M323.3 130.2h1.0M318.6 121.6h1.0M320.5 130.1h1.0M321.5 126.2h1.0M315.0 128.1h1.0M319.2 126.3h1.0M320.6 124.8h1.0M317.2 126.6h1.0M322.0 131.4h1.0M319.3 123.1h1.0M326.2 129.4h1.0M317.8 125.5h1.0M320.5 130.6h1.0M320.2 130.6h1.0M321.0 124.0h1.0M320.9 121.2h1.0M318.2 128.0h1.0M317.6 125.2h1.0M316.2 126.3h1.0M314.8 125.1h1.0M322.7 124.6h1.0M323.1 127.4h1.0M322.3 124.0h1.0M320.0 123.1h1.0M317.9 124.7h1.0M321.9 130.9h1.0M315.9 130.7h1.0M312.8 120.0h1.0M325.8 129.9h1.0M320.8 126.9h1.0M320.3 119.6h1.0M322.4 124.8h1.0M313.4 127.7h1.0M322.6 130.2h1.0M323.6 125.4h1.0M322.4 126.1h1.0M320.7 131.8h1.0M319.2 118.7h1.0M318.8 121.6h1.0M316.9 130.5h1.0" stroke="#1a1a9c" stroke-width="1.0" fill="none" opacity="1.0"/>
<path d="M451.6 95.9h0.8M443.7 126.3h0.8M448.4 138.3h0.8M432.7 113.5h0.8M447.4 94.0h0.8M450.3 120.9h0.8M461.3 74.9h0.8M447.7 119.6h0.8M461.5 115.8h0.8M446.5 97.4h0.8M464.8 107.6h0.8M465.7 111.1h0.8M449.8 95.4h0.8M428.5 114.0h0.8M443.5 131.8h0.8M427.9 86.5h0.8M459.5 93.5h0.8M431.1 72.8h0.8M433.3 118.2h0.8M457.2 76.1h0.8M449.4 91.6h0.8M435.6 118.0h0.8M442.4 112.5h0.8M452.8 117.9h0.8M449.0 122.4h0.8M438.1 92.1h0.8M433.7 108.0h0.8M434.3 111.2h0.8M442.7 133.4h0.8M432.3 128.4h0.8M436.9 117.6h0.8M437.9 101.8h0.8M449.0 124.2h0.8M464.3 102.4h0.8M436.2 110.4h0.8M459.8 118.9h0.8M454.2 124.7h0.8M446.1 119.1h0.8M472.2 118.5h0.8M437.5 102.5h0.8M442.7 114.1h0.8M453.8 83.0h0.8M435.9 102.1h0.8M432.3 74.4h0.8M429.3 126.3h0.8M428.2 135.5h0.8M445.9 110.8h0.8M469.6 141.6h0.8M429.9 125.8h0.8M453.3 96.4h0.8M441.0 92.7h0.8M426.5 94.8h0.8M443.1 92.2h0.8M459.3 112.5h0.8M442.0 79.9h0.8M424.4 108.6h0.8M419.9 122.3h0.8M439.1 125.8h0.8M449.4 118.6h0.8M450.6 97.0h0.8M437.3 102.0h0.8M447.0 121.9h0.8M442.5 131.4h0.8M439.8 88.8h0.8M435.7 97.6h0.8M464.0 122.9h0.8M450.7 107.2h0.8M449.1 87.7h0.8M477.5 118.3h0.8M459.1 129.0h0.8M444.9 106.3h0.8M433.2 107.3h0.8M443.1 77.0h0.8M448.7 87.9h0.8M467.7 83.3h0.8M447.8 114.5h0.8M465.9 142.7h0.8M445.8 99.5h0.8M450.4 117.0h0.8M421.7 113.7h0.8M440.1 136.9h0.8M453.5 112.8h0.8M456.3 105.8h0.8M447.5 114.4h0.8M421.8 123.4h0.8M458.6 121.1h0.8M459.7 88.6h0.8M448.1 105.4h0.8M442.3 87.8h0.8M433.3 106.3h0.8M431.1 102.1h0.8M429.9 116.1h0.8M471.6 115.1h0.8M443.8 84.4h0.8M435.6 119.0h0.8M447.0 103.8h0.8M420.4 88.5h0.8M449.7 90.5h0.8M455.3 109.3h0.8M431.8 138.7h0.8M411.6 100.1h0.8M425.1 101.4h0.8M451.7 130.4h0.8M450.1 103.9h0.8M447.8 86.6h0.8M443.0 121.1h0.8M448.6 119.4h0.8M438.9 117.9h0.8M443.0 91.9h0.8M424.2 67.6h0.8M432.9 99.2h0.8M446.8 94.0h0.8M429.0 113.6h0.8M450.9 116.6h0.8M450.0 97.7h0.8M450.6 116.3h0.8M457.3 103.5h0.8M431.1 125.8h0.8M457.4 104.9h0.8M416.1 93.2h0.8M457.9 95.9h0.8M437.5 126.0h0.8M446.2 108.1h0.8M435.4 113.1h0.8M447.1 118.9h0.8M421.5 128.5h0.8M469.1 116.8h0.8M440.1 128.7h0.8M461.6 96.1h0.8M444.3 111.7h0.8M433.4 106.0h0.8M457.2 143.3h0.8M421.5 119.0h0.8M426.1 97.9h0.8M453.6 90.6h0.8M449.8 100.5h0.8M454.4 84.9h0.8M471.2 92.0h0.8M436.6 87.3h0.8M462.2 115.3h0.8M446.2 133.6h0.8M429.9 92.9h0.8M448.9 94.6h0.8M441.2 105.0h0.8M441.6 112.9h0.8M430.7 126.2h0.8M445.4 96.1h0.8M438.2 112.9h0.8M443.7 117.0h0.8M463.9 108.1h0.8M424.5 113.6h0.8M447.0 110.6h0.8M442.9 80.6h0.8M441.7 111.1h0.8M443.0 134.8h0.8M467.3 75.3h0.8M470.7 88.1h0.8M466.1 124.4h0.8M431.6 110.2h0.8M452.0 92.6h0.8M450.4 85.6h0.8M463.6 107.4h0.8M434.3 132.2h0.8M456.4 133.5h0.8M427.3 97.8h0.8M443.9 80.4h0.8M446.6 109.3h0.8M442.3 106.6h0.8M425.5 118.3h0.8M463.2 85.6h0.8M429.8 108.2h0.8M429.8 93.1h0.8M439.9 84.7h0.8M423.3 124.1h0.8M431.3 122.5h0.8M434.3 119.3h0.8M438.5 82.0h0.8M451.1 105.1h0.8M435.5 144.7h0.8M467.7 88.1h0.8M443.3 100.8h0.8M433.6 116.1h0.8M455.1 126.2h0.8M429.4 117.2h0.8M461.1 72.7h0.8M440.1 93.9h0.8M454.0 82.6h0.8M443.7 104.1h0.8M434.5 107.0h0.8M424.0 87.7h0.8M432.2 120.7h0.8M462.7 103.5h0.8M439.1 80.0h0.8M425.9 110.1h0.8M458.7 100.3h0.8M435.2 97.2h0.8M452.5 128.9h0.8M444.4 101.2h0.8M447.8 97.7h0.8M443.9 126.9h0.8M450.9 81.3h0.8M425.7 100.0h0.8M453.0 129.2h0.8M420.9 136.3h0.8M460.9 119.5h0.8M443.9 75.5h0.8M447.1 94.4h0.8M449.9 100.6h0.8M428.9 143.4h0.8M478.8 82.2h0.8M448.4 89.7h0.8M454.9 92.4h0.8M451.3 98.6h0.8M453.6 76.9h0.8M451.0 111.9h0.8M450.6 111.1h0.8M463.2 130.0h0.8M436.9 108.6h0.8M434.4 99.3h0.8M468.1 91.0h0.8M456.5 135.8h0.8M454.5 127.3h0.8M431.4 101.3h0.8M434.2 132.6h0.8M443.7 94.9h0.8M444.2 127.5h0.8M428.1 121.8h0.8M446.9 105.1h0.8M449.9 96.4h0.8M431.8 83.4h0.8M449.6 82.8h0.8M437.3 94.1h0.8M457.0 62.9h0.8M439.9 107.8h0.8M447.8 107.0h0.8M456.5 105.6h0.8M439.0 111.7h0.8M449.1 112.2h0.8M450.0 127.1h0.8M463.3 89.6h0.8M434.4 143.6h0.8M439.9 72.2h0.8M443.0 114.7h0.8M460.1 114.8h0.8M452.7 112.1h0.8M459.3 81.2h0.8M445.8 113.3h0.8M447.7 128.0h0.8M429.0 129.6h0.8M455.8 88.7h0.8M442.8 106.9h0.8M416.8 108.3h0.8M437.4 97.9h0.8M419.8 113.1h0.8M462.7 130.6h0.8M460.9 115.2h0.8M456.9 84.6h0.8M438.4 104.9h0.8M445.5 98.9h0.8M443.5 122.6h0.8M428.0 117.8h0.8M444.1 114.9h0.8M447.5 113.3h0.8M440.7 124.7h0.8M458.8 119.6h0.8M434.7 104.1h0.8M447.9 141.0h0.8M454.6 117.0h0.8M460.1 86.3h0.8M452.8 58.7h0.8M438.4 110.5h0.8M425.8 68.1h0.8M426.4 114.8h0.8M449.5 113.3h0.8M442.3 124.8h0.8M451.5 97.7h0.8M444.4 140.5h0.8M437.9 87.5h0.8M427.1 73.9h0.8M427.4 129.5h0.8M452.8 116.2h0.8M454.9 96.1h0.8M439.4 109.1h0.8M463.1 99.5h0.8M427.0 92.3h0.8M463.5 105.9h0.8M428.3 112.6h0.8M454.3 94.1h0.8M436.2 90.7h0.8M423.2 100.5h0.8M453.7 117.5h0.8M443.4 83.4h0.8M446.0 124.4h0.8M458.4 97.9h0.8M432.7 123.7h0.8" stroke="#444" stroke-width="0.8" fill="none" opacity="0.6"/>
<path d="M436.5 106.2h0.8M440.4 103.8h0.8M436.1 85.3h0.8M438.1 92.9h0.8M439.1 93.5h0.8M439.1 90.1h0.8M436.4 103.0h0.8M443.1 85.1h0.8M437.5 97.1h0.8M437.1 95.0h0.8M436.9 91.7h0.8M438.6 106.5h0.8M428.0 106.4h0.8M429.6 92.0h0.8M431.5 100.3h0.8M434.8 99.5h0.8M426.4 94.8h0.8M440.2 94.9h0.8M430.9 95.6h0.8M444.0 102.6h0.8M442.1 88.0h0.8M435.9 90.5h0.8M435.2 87.4h0.8M432.6 105.6h0.8M430.0 100.4h0.8M435.2 90.4h0.8M439.6 96.5h0.8M442.7 111.5h0.8M439.4 92.2h0.8M433.0 81.9h0.8M436.4 90.2h0.8M446.8 90.6h0.8M432.9 87.4h0.8M435.5 90.5h0.8M427.2 103.8h0.8M438.4 108.2h0.8M439.4 95.2h0.8M440.8 94.8h0.8M441.7 95.1h0.8M437.4 80.8h0.8M434.0 97.8h0.8M436.7 94.5h0.8M441.8 104.6h0.8M429.8 95.7h0.8M438.5 111.8h0.8M437.6 91.6h0.8M435.6 104.9h0.8M424.0 102.9h0.8M441.9 93.7h0.8M441.7 89.2h0.8M430.6 82.2h0.8M435.1 98.3h0.8M436.8 84.1h0.8M436.2 99.5h0.8M438.2 106.4h0.8M430.8 97.9h0.8M435.2 95.7h0.8M433.2 95.3h0.8M429.2 90.2h0.8M440.8 90.3h0.8M434.4 97.9h0.8M438.7 104.7h0.8M432.0 93.1h0.8M429.6 98.5h0.8M436.3 96.4h0.8M430.7 100.4h0.8M430.1 85.0h0.8M433.3 87.8h0.8M438.7 95.8h0.8M432.2 102.8h0.8M439.1 92.8h0.8M431.9 86.4h0.8M437.1 94.4h0.8M437.3 97.6h0.8M437.2 89.3h0.8M437.5 94.4h0.8M425.0 90.7h0.8M441.3 97.6h0.8M433.6 90.5h0.8M437.7 91.6h0.8" stroke="#333" stroke-width="0.8" fill="none" opacity="0.6"/>
<path d="M428.6 83.6h0.8M451.6 96.0h0.8M438.0 101.7h0.8M439.8 107.8h0.8M438.3 94.9h0.8M436.6 98.7h0.8M447.5 119.9h0.8M442.2 120.1h0.8M434.8 90.3h0.8M424.6 109.7h0.8M440.4 85.1h0.8M441.0 96.1h0.8M439.2 111.5h0.8M441.5 99.0h0.8M435.4 111.4h0.8M431.2 103.5h0.8M443.3 116.0h0.8M428.9 105.9h0.8M436.4 97.1h0.8M443.2 102.5h0.8M422.3 108.1h0.8M431.5 106.2h0.8M434.5 91.2h0.8M437.9 106.0h0.8M432.2 114.2h0.8M434.4 104.5h0.8M448.3 95.2h0.8M439.4 107.8h0.8M442.9 111.4h0.8M438.7 100.6h0.8M439.2 94.4h0.8M427.4 103.7h0.8M438.1 131.0h0.8M435.3 85.7h0.8M434.2 93.5h0.8M440.9 94.2h0.8M441.2 93.1h0.8M434.9 101.7h0.8M438.5 83.4h0.8M440.6 97.2h0.8M449.2 97.4h0.8M439.7 88.6h0.8M441.0 93.3h0.8M438.9 109.9h0.8M430.0 75.2h0.8M436.3 101.0h0.8M441.0 114.5h0.8M435.3 95.6h0.8M431.9 104.9h0.8M444.3 98.8h0.8M443.2 93.5h0.8M435.1 115.2h0.8M445.1 100.9h0.8M431.9 102.5h0.8M430.9 105.7h0.8M435.5 88.6h0.8M437.3 128.6h0.8M440.8 106.1h0.8M430.9 107.3h0.8M428.6 92.7h0.8M439.2 124.8h0.8M433.5 105.7h0.8M436.2 77.3h0.8M441.5 128.0h0.8M442.4 90.3h0.8M437.2 105.9h0.8M431.9 101.8h0.8M434.2 99.7h0.8M435.3 100.4h0.8M440.0 91.2h0.8M447.0 87.3h0.8M440.9 123.0h0.8M446.6 98.0h0.8M441.0 89.5h0.8M440.3 88.5h0.8M444.9 104.2h0.8M434.2 109.2h0.8M434.6 102.7h0.8M433.2 93.1h0.8M443.2 122.5h0.8" stroke="#222" stroke-width="0.8" fill="none" opacity="0.6"/>
<path d="M461.3 128.9h0.85M456.2 127.7h0.85M455.2 122.6h0.85M454.8 128.1h0.85M456.6 115.7h0.85M456.6 129.9h0.85M457.4 119.7h0.85M455.6 123.1h0.85M458.6 126.2h0.85M454.6 128.0h0.85M449.2 113.0h0.85M458.1 112.6h0.85M460.7 124.5h0.85M456.0 129.7h0.85M462.4 123.5h0.85M457.1 117.9h0.85M451.2 116.1h0.85M460.1 120.9h0.85M460.9 116.9h0.85M452.5 123.9h0.85M459.0 118.1h0.85M453.8 119.0h0.85M461.8 125.1h0.85M457.0 119.1h0.85M454.9 118.7h0.85M463.3 122.0h0.85M448.2 116.1h0.85M447.4 115.4h0.85M449.0 128.8h0.85M454.3 115.9h0.85M462.3 120.1h0.85M461.3 121.3h0.85M455.5 126.1h0.85M460.9 122.8h0.85M461.0 118.2h0.85M463.1 125.0h0.85M455.9 121.9h0.85M456.4 126.2h0.85M456.2 115.3h0.85M462.2 119.5h0.85M452.4 117.5h0.85M457.9 118.6h0.85M454.5 131.5h0.85M458.5 122.9h0.85M451.9 122.5h0.85M457.2 117.5h0.85M452.9 126.1h0.85M454.4 130.8h0.85M450.8 120.0h0.85M452.6 124.5h0.85M453.0 128.1h0.85M461.9 122.7h0.85M457.0 119.9h0.85M459.4 118.4h0.85M455.0 125.4h0.85M452.0 126.8h0.85M454.8 124.8h0.85M454.2 116.2h0.85M457.8 124.0h0.85M456.0 121.0h0.85M457.4 120.6h0.85M456.1 131.8h0.85M454.2 125.4h0.85M454.0 124.7h0.85M454.7 127.2h0.85M453.4 121.0h0.85M461.1 124.0h0.85M461.6 122.0h0.85M451.7 122.7h0.85M456.9 121.9h0.85M450.7 113.8h0.85M461.6 118.5h0.85M457.1 128.1h0.85M458.5 105.7h0.85M449.9 115.5h0.85M457.4 120.0h0.85M450.9 126.0h0.85M457.9 122.9h0.85M450.6 124.5h0.85M452.2 121.9h0.85M456.2 123.8h0.85M454.5 122.2h0.85M457.6 123.4h0.85M446.7 118.4h0.85M455.3 128.4h0.85M453.6 119.5h0.85M456.9 116.9h0.85M457.5 119.3h0.85M456.0 124.6h0.85M456.7 128.8h0.85" stroke="#22227a" stroke-width="0.85" fill="none" opacity="0.85"/>
<path d="M448.2 110.1h0.8M449.9 138.8h0.8M457.3 108.1h0.8M441.2 115.9h0.8M439.8 104.9h0.8M457.6 128.2h0.8M456.5 134.1h0.8M435.8 119.4h0.8M445.5 128.1h0.8M443.0 122.2h0.8M455.9 127.7h0.8M461.1 132.9h0.8M450.8 102.7h0.8M452.9 132.9h0.8M458.2 98.1h0.8M443.5 124.3h0.8M453.9 119.1h0.8M450.9 110.2h0.8M453.6 135.6h0.8M450.6 101.3h0.8M445.2 123.2h0.8M453.9 110.5h0.8M444.1 119.8h0.8M452.0 119.7h0.8M450.0 117.8h0.8M445.1 99.1h0.8M441.3 114.1h0.8M455.4 109.1h0.8M464.3 116.5h0.8M444.5 125.5h0.8M458.4 132.9h0.8M456.1 123.7h0.8M447.7 120.0h0.8M452.3 111.1h0.8M453.2 99.9h0.8M445.3 113.5h0.8M450.4 122.6h0.8M452.7 121.0h0.8M439.9 139.7h0.8M446.6 130.3h0.8M451.8 119.5h0.8M448.3 117.4h0.8M438.8 114.4h0.8M465.3 124.8h0.8M445.9 113.9h0.8M446.6 116.2h0.8M459.1 122.9h0.8M446.2 96.3h0.8M461.6 129.1h0.8M449.7 121.6h0.8" stroke="#30307a" stroke-width="0.8" fill="none" opacity="0.7"/>
<path d="M450.2 90.0h0.9M463.0 79.9h0.9M450.6 96.5h0.9M454.4 94.2h0.9M450.9 95.9h0.9M447.1 87.4h0.9M454.7 89.4h0.9M455.2 100.8h0.9M458.4 101.0h0.9M447.4 94.4h0.9M452.0 100.4h0.9M450.7 102.1h0.9M452.8 102.0h0.9M452.6 94.7h0.9M447.3 91.8h0.9M459.1 103.2h0.9M441.5 108.2h0.9M459.8 89.8h0.9M455.4 99.7h0.9M440.8 93.1h0.9M452.7 92.8h0.9M445.8 93.2h0.9M454.5 96.5h0.9M447.1 107.9h0.9M447.2 90.2h0.9M454.4 90.9h0.9M449.4 90.8h0.9M451.4 108.3h0.9M450.7 90.7h0.9M446.8 95.2h0.9M454.6 88.9h0.9M449.9 96.2h0.9M449.3 89.1h0.9M455.2 101.6h0.9M450.4 81.8h0.9M453.9 84.7h0.9M460.3 95.6h0.9M454.8 95.6h0.9M456.5 98.2h0.9M453.9 95.3h0.9M445.1 97.9h0.9M450.7 95.5h0.9M456.2 88.9h0.9M448.4 98.8h0.9M448.7 91.0h0.9M449.9 97.6h0.9M450.6 95.1h0.9M458.0 97.2h0.9M454.1 93.6h0.9M450.1 84.9h0.9M451.0 100.4h0.9M460.2 90.5h0.9M452.0 96.9h0.9M453.3 91.5h0.9M441.3 91.1h0.9M448.8 91.9h0.9M451.1 89.6h0.9M452.9 89.8h0.9M445.5 96.0h0.9M451.5 96.2h0.9M456.4 84.7h0.9M450.7 86.2h0.9M452.8 85.7h0.9M439.9 101.5h0.9M446.9 90.4h0.9M453.5 99.1h0.9M452.5 91.4h0.9M460.5 91.9h0.9M447.8 95.2h0.9M449.0 95.6h0.9M447.7 96.3h0.9M444.4 94.8h0.9M454.9 94.9h0.9M451.7 107.3h0.9M452.1 89.2h0.9M452.0 101.8h0.9M449.7 83.7h0.9M450.4 86.3h0.9M450.6 84.2h0.9M458.5 93.4h0.9M454.6 93.8h0.9M455.3 92.0h0.9M449.8 88.2h0.9M449.0 98.7h0.9M456.2 90.4h0.9M444.7 99.0h0.9M447.7 89.3h0.9M450.5 99.4h0.9M453.4 92.0h0.9M445.1 93.8h0.9M456.9 94.7h0.9M454.9 94.3h0.9M450.8 94.8h0.9M451.9 108.3h0.9M452.9 93.5h0.9M452.0 95.5h0.9M453.2 99.0h0.9M455.6 95.6h0.9M443.1 98.9h0.9M453.3 102.6h0.9M441.4 98.7h0.9M441.8 94.3h0.9M450.5 99.2h0.9M442.7 98.4h0.9M444.5 91.1h0.9M449.0 97.2h0.9M449.9 94.5h0.9M448.6 90.9h0.9M448.3 96.2h0.9M448.9 87.8h0.9M454.9 96.3h0.9M459.0 93.4h0.9M455.4 90.1h0.9M456.3 102.7h0.9M458.4 83.3h0.9M446.6 82.0h0.9M456.6 101.3h0.9M450.3 88.6h0.9M449.0 88.3h0.9M449.1 89.1h0.9M455.2 106.1h0.9M451.3 98.8h0.9M458.9 102.4h0.9M451.0 97.1h0.9M458.0 100.8h0.9M458.3 90.0h0.9M452.1 99.3h0.9M451.1 106.4h0.9M463.3 89.0h0.9M449.2 93.5h0.9M453.5 100.8h0.9M460.5 89.6h0.9M451.7 98.9h0.9M449.5 97.2h0.9M445.7 96.2h0.9M451.5 96.7h0.9M447.1 89.2h0.9M449.5 85.7h0.9M443.4 87.1h0.9M454.4 92.5h0.9M453.0 93.5h0.9M459.7 91.2h0.9M451.3 98.9h0.9M452.4 95.6h0.9M454.3 88.1h0.9M446.6 90.1h0.9M456.1 109.2h0.9M447.1 96.2h0.9M442.5 93.0h0.9M453.5 94.5h0.9M446.1 91.6h0.9M459.2 94.8h0.9M448.9 95.0h0.9M448.3 91.2h0.9M450.6 93.6h0.9M450.3 97.2h0.9M445.6 87.0h0.9M456.0 91.1h0.9M451.2 90.9h0.9M449.7 87.1h0.9M452.2 93.5h0.9M447.7 94.1h0.9M456.7 82.3h0.9M456.2 90.2h0.9M450.1 95.5h0.9M455.4 94.8h0.9M454.4 85.9h0.9M446.1 87.5h0.9M450.2 87.7h0.9M446.9 98.2h0.9M451.1 85.9h0.9M457.5 101.3h0.9M457.1 79.9h0.9M446.1 87.0h0.9M452.6 97.1h0.9M454.1 89.8h0.9M456.7 106.3h0.9M452.4 100.6h0.9M452.4 78.4h0.9M449.0 91.7h0.9M454.4 98.9h0.9M449.2 87.6h0.9M447.8 92.9h0.9M450.5 94.3h0.9M456.4 87.1h0.9M460.4 91.6h0.9M457.7 94.1h0.9M454.5 89.6h0.9M455.9 93.6h0.9M445.5 92.0h0.9M447.9 97.6h0.9M449.3 98.8h0.9M455.2 97.4h0.9M449.4 100.6h0.9M451.4 92.8h0.9M456.6 91.1h0.9M457.4 98.9h0.9M454.8 93.4h0.9M449.4 96.5h0.9M446.7 95.6h0.9M447.8 101.0h0.9M452.4 100.1h0.9M447.4 93.9h0.9M449.0 92.8h0.9M446.7 99.6h0.9M448.2 96.7h0.9M454.4 102.2h0.9M454.7 83.9h0.9M448.4 86.5h0.9M446.2 87.6h0.9M455.2 97.9h0.9M453.3 87.4h0.9M449.6 97.6h0.9M453.2 87.0h0.9M452.5 94.3h0.9M458.9 92.2h0.9M440.0 96.0h0.9M457.0 84.3h0.9M456.1 101.0h0.9M453.0 90.7h0.9M452.3 92.2h0.9M453.4 101.6h0.9M453.1 91.2h0.9M455.4 92.3h0.9M445.1 95.9h0.9M460.7 91.8h0.9M453.1 85.7h0.9M451.6 92.2h0.9M453.2 94.3h0.9M451.3 99.1h0.9M449.2 87.9h0.9M457.1 97.8h0.9M448.0 86.9h0.9M447.0 107.7h0.9M455.4 95.9h0.9M455.4 97.7h0.9M463.2 97.9h0.9M454.5 92.6h0.9M456.4 96.6h0.9M453.1 78.0h0.9M451.3 88.9h0.9M455.4 82.1h0.9M449.4 87.5h0.9M452.2 95.2h0.9M454.1 90.7h0.9M450.7 86.7h0.9M453.0 90.2h0.9M457.5 107.0h0.9M445.1 93.7h0.9M446.5 87.0h0.9M452.9 97.0h0.9M450.8 99.2h0.9M452.3 90.8h0.9M459.8 97.6h0.9M452.3 98.9h0.9M456.1 93.3h0.9M457.0 84.6h0.9M446.6 95.2h0.9M446.2 103.6h0.9M451.9 100.1h0.9M452.5 91.4h0.9M451.1 99.4h0.9M450.8 82.2h0.9M458.4 92.0h0.9M450.9 92.9h0.9M447.7 78.2h0.9M449.5 90.1h0.9M452.8 94.9h0.9M450.0 89.3h0.9M459.5 96.6h0.9M451.9 85.5h0.9M449.3 94.1h0.9M447.0 89.2h0.9M447.3 92.4h0.9M453.4 92.8h0.9M450.6 96.0h0.9M455.6 76.5h0.9M447.3 92.0h0.9M453.3 80.3h0.9M449.9 101.3h0.9M451.7 94.6h0.9M456.0 97.8h0.9M448.6 94.9h0.9M448.5 96.8h0.9M455.1 99.7h0.9M453.6 78.3h0.9M451.5 88.9h0.9M455.2 100.6h0.9M453.3 90.9h0.9M454.0 98.9h0.9M457.1 100.2h0.9M450.9 95.1h0.9M452.1 101.2h0.9M445.3 84.7h0.9M456.9 100.5h0.9M455.1 93.2h0.9M456.3 93.6h0.9M449.1 97.9h0.9M446.9 96.0h0.9M450.9 94.6h0.9M460.1 85.7h0.9M453.4 101.1h0.9M455.9 96.4h0.9M448.0 102.1h0.9M450.1 105.8h0.9M452.0 100.1h0.9M456.0 91.0h0.9M451.7 100.9h0.9M450.2 99.0h0.9M450.9 97.9h0.9M452.8 95.5h0.9M457.9 88.8h0.9M447.7 82.9h0.9M465.7 91.4h0.9M457.1 92.1h0.9M449.8 89.2h0.9M461.4 89.2h0.9M447.5 96.5h0.9M454.7 96.2h0.9M447.5 94.6h0.9M455.8 89.7h0.9M459.2 90.9h0.9M454.1 95.2h0.9M450.6 100.3h0.9M445.7 93.6h0.9M446.6 96.6h0.9M443.8 98.0h0.9M449.2 99.5h0.9M450.3 103.5h0.9M451.0 92.0h0.9M449.4 91.5h0.9M445.5 94.9h0.9M444.1 93.3h0.9M449.6 91.7h0.9M448.1 92.0h0.9M451.3 94.9h0.9M458.4 91.8h0.9M455.2 99.1h0.9M455.5 92.7h0.9M460.9 85.2h0.9M449.3 95.8h0.9M448.9 94.8h0.9M454.8 93.6h0.9M450.5 96.8h0.9M450.3 90.5h0.9M444.1 97.7h0.9M459.5 87.9h0.9M449.1 101.7h0.9M446.3 87.9h0.9M454.1 94.1h0.9" stroke="#238c23" stroke-width="0.9" fill="none" opacity="0.85"/>
<ellipse cx="455" cy="80.5" rx="9.3" ry="6.8" transform="rotate(-8 455 80.5)" fill="#0a7a0a" opacity="1" filter="url(#cf)"/>
<ellipse cx="453.5" cy="87" rx="6.0" ry="6.0" transform="rotate(0 453.5 87)" fill="#0a7a0a" opacity="1" filter="url(#cf)"/>
<path d="M457.5 74.9h1.0M458.5 77.5h1.0M461.2 82.5h1.0M452.7 84.8h1.0M453.3 77.0h1.0M452.0 75.9h1.0M453.2 77.2h1.0M460.5 75.9h1.0M461.8 82.2h1.0M446.2 81.2h1.0M453.2 78.5h1.0M454.9 87.8h1.0M453.4 76.3h1.0M449.9 79.3h1.0M461.7 74.2h1.0M452.2 79.4h1.0M452.7 81.7h1.0M456.9 79.5h1.0M447.9 82.1h1.0M455.0 82.8h1.0M450.7 85.6h1.0M455.9 75.8h1.0M458.6 76.3h1.0M451.0 79.9h1.0M453.9 82.5h1.0M457.1 79.2h1.0M446.9 81.7h1.0M444.4 83.3h1.0M447.4 82.6h1.0M460.0 77.1h1.0M458.6 84.1h1.0M451.7 81.9h1.0M449.5 81.2h1.0M456.4 82.8h1.0M461.2 81.0h1.0M450.3 80.0h1.0M446.8 84.0h1.0M458.0 82.6h1.0M453.4 84.4h1.0M458.2 73.7h1.0M455.7 79.5h1.0M463.6 78.4h1.0M458.3 85.4h1.0M459.7 75.3h1.0M455.1 81.8h1.0M457.7 79.2h1.0M459.8 77.2h1.0M453.5 86.1h1.0M452.9 75.8h1.0M461.9 74.9h1.0M451.5 81.9h1.0M459.7 82.7h1.0M460.7 82.6h1.0M458.2 80.3h1.0M453.3 78.8h1.0M457.2 84.6h1.0M458.3 82.3h1.0M456.8 82.5h1.0M455.5 75.9h1.0M456.9 82.6h1.0M455.3 79.7h1.0M456.3 80.3h1.0M449.3 81.2h1.0M450.6 76.6h1.0M457.4 81.2h1.0M459.5 79.0h1.0M457.6 80.7h1.0M457.8 77.3h1.0M459.7 77.4h1.0M444.6 81.8h1.0M447.8 85.1h1.0M448.7 81.7h1.0M446.6 83.1h1.0M462.4 78.3h1.0M461.3 79.1h1.0M449.1 80.4h1.0M451.2 83.3h1.0M458.8 86.1h1.0M450.9 80.7h1.0M451.6 78.1h1.0M453.6 82.7h1.0M459.0 83.8h1.0M453.3 80.2h1.0M455.2 80.7h1.0M452.3 81.5h1.0M460.1 75.3h1.0M456.7 77.9h1.0M454.1 79.9h1.0M454.4 86.1h1.0M454.3 79.7h1.0M450.1 87.1h1.0M457.5 80.3h1.0M450.4 79.9h1.0M463.3 76.2h1.0M450.6 86.2h1.0M450.2 83.7h1.0M450.5 85.8h1.0M456.6 81.0h1.0M448.9 80.5h1.0M455.1 81.6h1.0M450.4 80.4h1.0M461.1 85.5h1.0M458.7 83.1h1.0M465.2 79.1h1.0M446.5 82.9h1.0M458.6 78.0h1.0M462.0 82.9h1.0M455.0 78.8h1.0M449.8 82.7h1.0M450.9 81.7h1.0M451.7 82.9h1.0M453.5 78.9h1.0M452.4 81.1h1.0M465.2 80.5h1.0M463.2 82.7h1.0M457.8 77.1h1.0M451.0 84.0h1.0M459.1 87.5h1.0M450.6 75.7h1.0M458.8 82.7h1.0M447.9 78.9h1.0M454.6 86.1h1.0M450.8 80.9h1.0M460.2 80.2h1.0M453.0 81.1h1.0M461.9 79.5h1.0M459.8 76.2h1.0M453.0 78.4h1.0M459.8 75.7h1.0M446.3 83.3h1.0M445.7 77.1h1.0M462.1 81.8h1.0M452.6 81.8h1.0M461.2 81.8h1.0M445.4 81.7h1.0M456.5 84.4h1.0M461.6 80.0h1.0M457.7 78.7h1.0M450.5 82.0h1.0M448.0 83.6h1.0M455.4 80.0h1.0M463.3 80.6h1.0M453.8 85.1h1.0M454.1 74.6h1.0M451.3 78.9h1.0M456.3 79.8h1.0M457.6 80.1h1.0M453.3 79.4h1.0M453.8 79.1h1.0M446.8 78.6h1.0M457.2 76.0h1.0M462.2 80.8h1.0M453.2 74.9h1.0M453.7 79.4h1.0M458.3 84.3h1.0M460.7 82.3h1.0M460.6 86.2h1.0M459.0 82.2h1.0M452.1 81.3h1.0M457.2 74.0h1.0M465.2 78.6h1.0M455.1 76.3h1.0M453.9 76.5h1.0M448.4 75.2h1.0M461.2 76.9h1.0M448.2 75.8h1.0M454.9 86.2h1.0M453.9 77.3h1.0M453.8 78.0h1.0M453.2 77.9h1.0M452.4 77.3h1.0M456.1 80.7h1.0M459.9 77.8h1.0M454.0 80.6h1.0M454.3 82.0h1.0M457.8 81.7h1.0M445.8 83.8h1.0M455.1 73.5h1.0M455.0 78.0h1.0M453.7 76.4h1.0M459.5 82.3h1.0M460.5 81.5h1.0M458.0 82.1h1.0M461.5 79.7h1.0M459.0 75.6h1.0M459.1 79.3h1.0M463.8 81.2h1.0M450.7 82.7h1.0M453.4 84.9h1.0M455.3 80.1h1.0M454.5 76.5h1.0M455.5 79.6h1.0M456.0 84.4h1.0M448.7 81.1h1.0M462.9 78.8h1.0M453.2 81.5h1.0M461.4 79.9h1.0M460.7 76.0h1.0M462.0 78.4h1.0M458.9 83.8h1.0M452.6 88.1h1.0M456.1 78.9h1.0M464.2 82.0h1.0M448.6 82.9h1.0M446.1 84.9h1.0M453.8 77.3h1.0M444.8 78.6h1.0M450.6 81.5h1.0M450.5 85.7h1.0M450.5 81.0h1.0M454.5 77.3h1.0M454.1 85.3h1.0M451.2 84.3h1.0M453.2 77.1h1.0M453.9 83.8h1.0M454.2 78.4h1.0M453.2 77.0h1.0M456.4 83.6h1.0M461.3 86.2h1.0M456.3 75.2h1.0M452.3 78.2h1.0M457.5 79.9h1.0M452.4 81.1h1.0M446.1 78.1h1.0M459.0 86.5h1.0M452.4 85.5h1.0M454.2 84.8h1.0M448.6 82.2h1.0M460.4 75.3h1.0M454.4 77.0h1.0M453.3 81.9h1.0M452.8 78.3h1.0M455.3 77.6h1.0M452.4 78.0h1.0M455.5 77.3h1.0M449.3 77.6h1.0M448.7 82.7h1.0M459.7 79.1h1.0M447.5 75.6h1.0M452.0 79.2h1.0M454.7 80.0h1.0M457.1 77.0h1.0M464.3 75.3h1.0M452.9 79.9h1.0M459.7 73.1h1.0M454.7 79.5h1.0M461.1 80.0h1.0M453.3 77.7h1.0M456.8 78.8h1.0M456.4 81.6h1.0M455.0 80.2h1.0M453.0 80.4h1.0M453.9 83.0h1.0M452.0 77.9h1.0M454.4 76.6h1.0M449.1 79.5h1.0M455.1 80.2h1.0M461.1 78.2h1.0M446.3 77.7h1.0M451.1 80.0h1.0M448.4 83.1h1.0M456.9 77.1h1.0M460.6 79.0h1.0M449.4 79.1h1.0M451.5 84.4h1.0M452.0 85.1h1.0M456.7 79.9h1.0M457.2 79.2h1.0M451.9 76.2h1.0M449.5 81.2h1.0M463.4 79.0h1.0M462.2 79.8h1.0M449.9 82.4h1.0M458.1 85.5h1.0M451.7 77.8h1.0M457.2 82.4h1.0M464.1 80.6h1.0M452.5 81.0h1.0M455.8 86.7h1.0M455.5 77.2h1.0M452.4 83.8h1.0M450.1 82.1h1.0M455.6 82.8h1.0M459.7 82.9h1.0M456.8 83.0h1.0M454.3 77.4h1.0M454.8 82.6h1.0M461.0 86.4h1.0M452.8 77.2h1.0M449.9 82.1h1.0M456.5 81.4h1.0M447.3 83.8h1.0M455.8 83.1h1.0M460.5 79.3h1.0M455.4 82.2h1.0M449.8 83.2h1.0M447.5 85.6h1.0M457.6 77.7h1.0M454.8 78.6h1.0M457.6 84.7h1.0M454.0 81.7h1.0M461.4 79.3h1.0M459.7 77.2h1.0M454.3 83.6h1.0M460.9 75.4h1.0M455.3 85.4h1.0M456.7 77.5h1.0M456.9 78.5h1.0M461.6 76.8h1.0M449.8 81.8h1.0M455.0 80.5h1.0M450.9 83.8h1.0M453.7 76.8h1.0M452.9 84.1h1.0M450.9 85.5h1.0M462.9 82.2h1.0M460.9 83.9h1.0M456.3 87.3h1.0M457.1 82.6h1.0M454.4 85.2h1.0M459.9 80.8h1.0M458.6 80.1h1.0M451.7 83.0h1.0M451.4 78.6h1.0M452.2 86.9h1.0M452.7 75.0h1.0M449.4 76.4h1.0M453.0 79.1h1.0M462.9 76.3h1.0M449.4 82.3h1.0M465.2 78.0h1.0M452.3 86.2h1.0M446.5 81.8h1.0M453.5 83.3h1.0M457.8 79.7h1.0M453.5 81.1h1.0M453.4 78.9h1.0M455.7 81.3h1.0M464.5 80.9h1.0M450.7 82.3h1.0M452.7 87.5h1.0M456.9 78.2h1.0M450.6 83.8h1.0M450.2 76.9h1.0M454.3 77.7h1.0M455.3 81.7h1.0M461.6 77.1h1.0M457.6 76.9h1.0M452.3 78.9h1.0M459.8 80.2h1.0M451.0 82.1h1.0M454.2 83.4h1.0M453.4 82.7h1.0M458.7 77.8h1.0M452.1 78.4h1.0M453.2 79.6h1.0M454.4 73.8h1.0M445.7 84.9h1.0M455.4 84.9h1.0M448.2 80.0h1.0M444.6 77.9h1.0M457.7 84.0h1.0M458.0 79.2h1.0M448.9 81.1h1.0M454.0 81.5h1.0M449.8 85.4h1.0M449.1 79.4h1.0M454.0 83.9h1.0M455.4 86.7h1.0M461.2 77.6h1.0M459.8 75.8h1.0M459.1 86.3h1.0M454.1 78.8h1.0M451.8 87.2h1.0M457.8 74.1h1.0M449.5 78.3h1.0M448.6 85.3h1.0M454.4 83.0h1.0M455.1 74.3h1.0M451.3 77.2h1.0M460.2 81.2h1.0M452.5 86.1h1.0M445.1 82.8h1.0M456.6 73.5h1.0M447.7 78.2h1.0M458.5 81.0h1.0M447.3 78.0h1.0M448.7 81.4h1.0M459.0 75.6h1.0M460.4 77.0h1.0M451.3 85.1h1.0M454.2 83.5h1.0M457.8 77.8h1.0M456.3 82.5h1.0M454.0 76.2h1.0M461.6 77.5h1.0M450.5 79.1h1.0M460.1 80.6h1.0M452.7 81.3h1.0M452.8 75.4h1.0M449.2 79.2h1.0M452.2 80.2h1.0M452.8 76.8h1.0M463.0 79.4h1.0M461.1 83.0h1.0M459.4 77.5h1.0M455.4 78.6h1.0M445.7 76.9h1.0M456.2 80.3h1.0M457.5 80.4h1.0M456.0 81.5h1.0M448.9 78.6h1.0M461.5 77.7h1.0M456.1 85.5h1.0M457.1 82.3h1.0M459.9 79.7h1.0M447.8 76.6h1.0M447.3 76.3h1.0M452.1 87.1h1.0M450.6 81.5h1.0M454.0 80.1h1.0M448.7 83.3h1.0M452.7 85.0h1.0M455.8 75.4h1.0M459.0 75.3h1.0M458.9 83.9h1.0M452.9 79.3h1.0M449.8 79.3h1.0M451.0 75.3h1.0M461.6 75.9h1.0M459.2 75.6h1.0M455.1 76.9h1.0M452.3 80.3h1.0M451.9 80.4h1.0M452.8 77.4h1.0M454.8 80.6h1.0M459.2 78.9h1.0M448.1 79.0h1.0M454.4 79.7h1.0M459.6 85.5h1.0M457.5 81.8h1.0M458.3 79.1h1.0M456.0 83.6h1.0M458.0 74.3h1.0M454.1 79.9h1.0M457.2 86.0h1.0M462.7 76.7h1.0M463.3 77.9h1.0M460.7 81.3h1.0M455.2 78.0h1.0M461.0 82.5h1.0M448.1 86.7h1.0M455.0 82.9h1.0M451.2 81.1h1.0M463.5 81.6h1.0M455.4 87.4h1.0M463.8 84.2h1.0M458.5 86.2h1.0M450.7 81.0h1.0M450.7 79.3h1.0M450.1 77.9h1.0M460.0 79.4h1.0M452.7 73.8h1.0M455.2 76.2h1.0M459.9 78.5h1.0M457.3 79.0h1.0M449.8 76.5h1.0M459.8 80.0h1.0M449.0 82.0h1.0M460.3 80.0h1.0M458.7 78.4h1.0M453.2 81.4h1.0M460.6 86.8h1.0M454.9 80.7h1.0M459.4 80.6h1.0M453.2 81.0h1.0M463.2 79.0h1.0M454.9 85.1h1.0M450.8 73.5h1.0M450.8 75.6h1.0M455.8 80.9h1.0M453.5 86.9h1.0M448.3 76.5h1.0M455.9 82.9h1.0M455.0 77.5h1.0M447.8 80.2h1.0M444.8 81.6h1.0M452.2 79.9h1.0M455.4 82.2h1.0M455.6 80.5h1.0M444.5 80.7h1.0M449.3 78.5h1.0M453.2 85.2h1.0M455.7 86.6h1.0M458.5 78.6h1.0M456.1 77.3h1.0M455.8 79.1h1.0M464.9 75.8h1.0M457.5 81.5h1.0M454.1 81.2h1.0M456.4 83.6h1.0M449.1 76.7h1.0M457.3 77.7h1.0M451.7 79.7h1.0M456.3 77.0h1.0M458.7 82.5h1.0M462.6 81.2h1.0M459.0 81.6h1.0M461.4 81.7h1.0M453.5 78.6h1.0M452.0 81.3h1.0M450.6 80.9h1.0M450.9 81.2h1.0M454.6 81.4h1.0M461.1 79.8h1.0M446.1 84.2h1.0M455.8 81.3h1.0M454.1 78.0h1.0M448.0 83.2h1.0M458.3 73.8h1.0M451.0 73.9h1.0M446.3 85.0h1.0M454.8 85.8h1.0M446.8 82.1h1.0M460.5 83.0h1.0M465.4 80.6h1.0M457.5 81.7h1.0M458.9 81.1h1.0M454.8 79.8h1.0M458.3 78.4h1.0M451.0 84.5h1.0M453.4 79.5h1.0M456.4 78.5h1.0M450.6 84.5h1.0M460.6 76.3h1.0M454.2 82.5h1.0M461.9 82.3h1.0M458.8 78.5h1.0M456.7 84.1h1.0M449.7 84.6h1.0M456.0 78.2h1.0M458.5 81.7h1.0M451.9 80.3h1.0M450.7 80.3h1.0M448.5 76.2h1.0M458.7 74.3h1.0M447.3 78.0h1.0M452.4 78.3h1.0M458.8 77.3h1.0M461.6 79.5h1.0M462.2 80.7h1.0M454.2 76.1h1.0M451.8 80.4h1.0M453.7 82.8h1.0M455.2 83.5h1.0M454.0 79.6h1.0M459.8 80.9h1.0M459.6 81.3h1.0M452.4 81.7h1.0M457.4 80.6h1.0M456.4 80.8h1.0M459.9 78.1h1.0M456.1 77.9h1.0M446.7 78.0h1.0M461.3 74.5h1.0M456.3 75.0h1.0M459.2 82.1h1.0M455.3 78.4h1.0M455.1 81.6h1.0M452.0 73.3h1.0M458.6 80.1h1.0M454.0 78.9h1.0M453.1 82.5h1.0M455.9 77.6h1.0M457.5 79.4h1.0M456.0 79.7h1.0M458.2 82.3h1.0M458.2 85.7h1.0M461.1 81.4h1.0M452.5 79.9h1.0M455.5 80.8h1.0M450.3 77.3h1.0M457.6 80.4h1.0M454.9 74.3h1.0M446.3 82.7h1.0M460.9 83.5h1.0M458.1 82.8h1.0M447.8 84.8h1.0M462.4 84.0h1.0M452.4 76.5h1.0M462.2 79.9h1.0M448.2 78.9h1.0M457.7 78.4h1.0M463.3 76.6h1.0M459.9 84.1h1.0M456.4 82.6h1.0M452.3 85.8h1.0M455.4 78.2h1.0M455.9 84.8h1.0M453.5 75.3h1.0M450.6 85.7h1.0M454.0 77.3h1.0M456.6 81.9h1.0M457.8 78.4h1.0M455.8 81.1h1.0M455.9 81.2h1.0M455.4 80.8h1.0M447.5 78.1h1.0M461.4 79.4h1.0M452.6 84.2h1.0M455.3 81.7h1.0M451.1 84.5h1.0M460.7 78.2h1.0M447.3 78.6h1.0M455.7 75.1h1.0M460.2 79.7h1.0M452.0 81.0h1.0M451.0 83.9h1.0M454.3 82.9h1.0M463.3 78.5h1.0M459.1 81.6h1.0M457.3 78.2h1.0M454.9 78.0h1.0M455.9 80.9h1.0M455.7 76.5h1.0M459.3 81.6h1.0M451.7 76.2h1.0M451.4 75.4h1.0M455.3 78.6h1.0M464.2 82.7h1.0M451.2 79.2h1.0M452.5 77.6h1.0M459.3 78.2h1.0M457.9 78.3h1.0M445.7 80.3h1.0M459.5 79.4h1.0M445.1 77.5h1.0M454.6 80.2h1.0M456.0 77.4h1.0M462.2 82.5h1.0M445.0 79.2h1.0M451.3 86.5h1.0M455.2 74.1h1.0M451.6 85.9h1.0M458.0 79.7h1.0M448.2 79.7h1.0M458.3 78.1h1.0M460.4 85.0h1.0M454.4 78.9h1.0M455.8 82.0h1.0M464.4 81.6h1.0M451.0 82.1h1.0M460.0 83.7h1.0M452.8 79.1h1.0M453.8 82.3h1.0M453.4 80.6h1.0M450.7 78.3h1.0M455.7 79.3h1.0M454.5 77.8h1.0M459.8 77.6h1.0M456.5 76.5h1.0M458.6 82.1h1.0M457.8 77.2h1.0M455.0 81.7h1.0M461.9 79.0h1.0M457.3 80.1h1.0M449.1 76.0h1.0M448.3 84.4h1.0M447.8 81.3h1.0M453.5 84.5h1.0M455.6 76.9h1.0M458.3 78.1h1.0M457.8 77.9h1.0M444.6 84.2h1.0M455.0 75.2h1.0M453.2 86.2h1.0M453.7 78.4h1.0M453.7 80.8h1.0M451.5 76.8h1.0M447.7 85.0h1.0M462.6 81.9h1.0M455.8 75.1h1.0M455.3 81.3h1.0M453.8 79.2h1.0M455.4 80.4h1.0M453.2 78.9h1.0M454.6 81.6h1.0M456.8 81.6h1.0M460.8 81.7h1.0M461.9 84.2h1.0M450.9 81.1h1.0M455.2 81.1h1.0M444.8 79.8h1.0M457.2 74.2h1.0M453.3 81.2h1.0M451.5 83.1h1.0M445.2 77.5h1.0M464.2 79.7h1.0M455.1 73.5h1.0M451.9 82.7h1.0M448.4 78.2h1.0M459.1 75.7h1.0M454.8 79.2h1.0M448.2 81.5h1.0M455.3 73.1h1.0M459.8 76.4h1.0M450.8 81.6h1.0M459.1 83.5h1.0M447.0 81.4h1.0M459.2 77.5h1.0M451.3 80.7h1.0M460.4 82.7h1.0M456.8 79.7h1.0M448.9 78.5h1.0M446.5 86.4h1.0M457.1 80.0h1.0M453.9 81.9h1.0M458.1 77.2h1.0M455.2 88.0h1.0M459.9 85.1h1.0M455.1 77.4h1.0M453.5 84.5h1.0M455.9 78.3h1.0M460.1 79.7h1.0M455.2 80.1h1.0M448.5 82.5h1.0M448.5 81.1h1.0M456.1 80.3h1.0M448.8 78.0h1.0M456.0 75.4h1.0M450.0 82.9h1.0M452.3 82.3h1.0M454.6 81.0h1.0M452.6 76.8h1.0M447.6 83.8h1.0M456.9 77.3h1.0M464.2 80.2h1.0M455.8 82.5h1.0M450.5 78.7h1.0M451.7 80.5h1.0" stroke="#0a7a0a" stroke-width="1.0" fill="none" opacity="1.0"/>
<path d="M456.9 89.1h1.0M450.2 90.6h1.0M464.4 83.3h1.0M459.2 81.4h1.0M451.6 87.0h1.0M444.8 85.5h1.0M454.9 91.1h1.0M455.0 88.3h1.0M445.2 86.3h1.0M452.5 96.0h1.0M458.4 83.4h1.0M458.3 82.0h1.0M455.7 82.5h1.0M458.6 88.6h1.0M458.5 89.6h1.0M453.3 83.8h1.0M452.6 86.8h1.0M455.4 88.7h1.0M453.5 89.3h1.0M450.2 87.3h1.0M447.9 87.6h1.0M452.8 92.3h1.0M451.5 84.2h1.0M447.2 89.4h1.0M448.2 92.0h1.0M448.4 83.2h1.0M445.4 86.4h1.0M455.4 93.3h1.0M456.3 86.8h1.0M451.0 85.5h1.0M462.0 94.2h1.0M456.6 81.5h1.0M454.5 89.6h1.0M449.4 88.6h1.0M455.8 86.5h1.0M450.9 91.9h1.0M451.5 88.8h1.0M457.0 83.8h1.0M455.8 92.0h1.0M456.1 85.5h1.0M454.7 85.8h1.0M451.3 86.6h1.0M452.7 84.2h1.0M450.5 81.0h1.0M455.1 84.2h1.0M457.4 86.4h1.0M454.2 85.3h1.0M457.7 80.7h1.0M453.4 88.1h1.0M450.0 84.7h1.0M452.3 96.2h1.0M459.0 89.7h1.0M462.3 94.8h1.0M456.8 87.1h1.0M448.3 82.0h1.0M452.2 85.2h1.0M455.9 82.5h1.0M457.1 83.6h1.0M453.5 81.8h1.0M454.1 79.0h1.0M453.1 89.5h1.0M446.6 85.3h1.0M449.6 84.7h1.0M450.7 89.1h1.0M460.6 88.3h1.0M452.9 72.0h1.0M449.6 87.4h1.0M450.4 89.2h1.0M454.8 86.7h1.0M453.4 88.6h1.0M456.2 83.8h1.0M454.6 80.1h1.0M455.6 91.6h1.0M456.5 86.9h1.0M455.0 89.1h1.0M452.8 96.4h1.0M454.6 87.5h1.0M451.5 89.6h1.0M453.3 90.0h1.0M455.6 81.0h1.0M453.8 90.0h1.0M457.2 87.2h1.0M447.5 83.0h1.0M461.1 89.3h1.0M458.0 76.2h1.0M453.8 88.4h1.0M453.9 89.9h1.0M458.1 89.4h1.0M449.7 80.1h1.0M452.8 79.9h1.0M453.4 93.1h1.0M450.5 90.0h1.0M455.8 84.7h1.0M453.4 82.3h1.0M453.4 89.2h1.0M450.8 86.3h1.0M452.3 90.2h1.0M458.9 84.0h1.0M449.4 88.2h1.0M452.8 87.5h1.0M457.1 87.1h1.0M455.9 80.6h1.0M452.3 85.5h1.0M454.5 87.0h1.0M452.7 80.6h1.0M454.8 89.1h1.0M452.3 87.2h1.0M451.7 82.9h1.0M451.3 81.2h1.0M451.2 78.5h1.0M454.0 91.4h1.0M455.8 85.9h1.0M451.7 80.2h1.0M452.5 91.4h1.0M455.4 79.5h1.0M447.2 87.2h1.0M447.8 79.8h1.0M457.1 79.3h1.0M452.8 88.1h1.0M457.3 80.6h1.0M453.0 91.3h1.0M446.1 82.4h1.0M452.5 84.9h1.0M451.6 89.7h1.0M452.8 84.6h1.0M448.0 88.5h1.0M456.3 83.4h1.0M459.2 85.1h1.0M453.9 86.0h1.0M454.1 86.4h1.0M463.2 86.5h1.0M454.6 94.6h1.0M463.3 82.8h1.0M456.4 86.8h1.0M454.2 85.8h1.0M452.9 87.6h1.0M452.5 89.1h1.0M459.5 84.6h1.0M450.9 86.1h1.0M465.3 88.3h1.0M444.0 83.3h1.0M448.4 87.1h1.0M454.6 85.0h1.0M450.4 82.8h1.0M460.2 85.1h1.0M451.7 87.1h1.0M451.7 89.8h1.0M450.7 81.3h1.0M455.4 86.3h1.0M452.2 81.4h1.0M449.9 87.2h1.0M452.7 89.6h1.0M451.1 78.9h1.0M453.6 87.4h1.0M454.8 86.8h1.0M447.2 88.4h1.0M443.8 90.2h1.0M453.6 90.0h1.0M447.3 86.7h1.0M446.8 90.2h1.0M453.4 81.2h1.0M460.5 85.1h1.0M449.1 79.4h1.0M459.4 86.1h1.0M452.4 87.8h1.0M452.6 90.5h1.0M449.0 87.4h1.0M456.5 81.6h1.0M454.1 91.7h1.0M448.4 90.5h1.0M455.2 87.0h1.0M454.9 87.8h1.0M457.4 89.9h1.0M448.9 85.4h1.0M447.5 88.6h1.0M455.5 84.5h1.0M453.3 89.9h1.0M455.8 87.6h1.0M457.4 80.1h1.0M451.5 92.8h1.0M451.6 79.3h1.0M453.1 85.6h1.0M454.7 82.5h1.0M455.2 82.7h1.0M455.8 88.1h1.0M445.5 82.3h1.0M455.7 87.4h1.0M452.2 84.3h1.0M453.9 92.2h1.0M456.4 90.5h1.0M460.5 83.0h1.0M448.9 85.4h1.0M455.8 81.2h1.0M452.3 86.2h1.0M455.7 81.9h1.0M464.5 88.8h1.0M456.8 86.2h1.0M455.5 94.5h1.0M451.1 85.4h1.0M448.0 83.5h1.0M450.7 86.7h1.0M454.4 85.7h1.0M450.0 82.2h1.0M453.4 85.0h1.0M449.0 88.3h1.0M456.4 87.3h1.0M452.1 85.7h1.0M450.9 89.6h1.0M449.8 91.3h1.0M454.2 76.5h1.0M461.6 83.4h1.0M454.6 84.1h1.0M449.8 90.0h1.0M455.7 88.0h1.0M454.0 86.4h1.0M451.0 83.8h1.0M451.0 87.4h1.0M453.5 88.4h1.0M450.5 89.7h1.0M454.8 78.2h1.0M453.2 94.6h1.0M453.1 85.1h1.0M451.1 87.7h1.0M453.7 87.5h1.0M454.4 82.1h1.0M451.8 88.6h1.0M449.8 87.0h1.0M456.1 84.7h1.0M455.8 82.2h1.0M449.0 80.9h1.0M455.9 84.8h1.0M455.1 81.5h1.0M456.2 84.5h1.0M454.5 86.2h1.0M452.5 83.2h1.0M453.4 82.3h1.0M461.9 92.8h1.0M463.0 83.2h1.0M453.0 81.8h1.0M455.4 88.1h1.0M457.0 88.8h1.0M447.1 85.9h1.0M462.2 85.3h1.0M455.9 85.1h1.0M456.7 87.8h1.0M453.8 89.2h1.0M451.9 88.1h1.0M453.8 88.9h1.0M453.2 78.3h1.0M452.3 83.7h1.0M449.7 88.8h1.0M446.1 86.7h1.0M455.0 88.5h1.0M456.7 86.4h1.0M450.4 91.1h1.0M453.9 87.6h1.0M453.2 86.5h1.0M457.2 87.7h1.0M453.0 90.9h1.0M456.0 87.4h1.0M453.7 90.0h1.0M448.8 83.9h1.0M458.0 85.9h1.0M452.4 92.0h1.0M457.4 87.5h1.0M456.3 87.7h1.0M453.5 90.2h1.0M457.1 86.6h1.0M454.1 81.5h1.0M451.3 82.6h1.0M457.4 91.3h1.0M449.6 88.2h1.0M458.3 88.8h1.0M449.0 84.5h1.0M455.2 89.9h1.0M455.3 88.3h1.0M453.8 89.5h1.0M451.7 88.4h1.0M452.1 88.4h1.0M444.8 88.1h1.0M450.9 88.9h1.0M447.1 87.6h1.0M450.1 86.1h1.0M451.1 78.6h1.0M458.9 87.3h1.0M451.5 89.0h1.0M447.3 85.1h1.0M456.9 83.9h1.0M453.7 90.9h1.0M452.7 86.4h1.0M452.5 87.6h1.0M454.8 84.5h1.0M459.4 85.2h1.0M450.4 85.0h1.0M456.5 86.8h1.0M455.2 76.3h1.0M454.1 86.5h1.0M448.1 83.4h1.0M456.8 91.6h1.0M449.5 79.8h1.0M453.0 86.7h1.0M450.9 82.2h1.0M444.9 86.9h1.0M451.4 78.4h1.0M450.3 86.3h1.0M451.1 92.5h1.0M452.7 85.4h1.0M457.5 88.3h1.0M456.6 86.2h1.0M450.0 89.6h1.0M447.0 85.6h1.0M450.0 85.5h1.0M453.1 88.5h1.0M445.1 87.7h1.0M458.4 93.0h1.0M452.1 91.9h1.0M450.5 86.6h1.0M455.1 82.5h1.0M452.6 81.7h1.0M456.8 86.7h1.0M463.0 85.5h1.0M453.6 94.1h1.0M455.0 89.3h1.0M448.4 89.2h1.0M449.2 87.5h1.0M448.9 90.6h1.0M455.0 79.5h1.0M449.4 87.1h1.0M449.7 85.9h1.0M451.7 81.4h1.0M453.0 88.7h1.0M456.6 84.1h1.0M455.3 83.1h1.0M454.4 80.8h1.0M455.6 85.6h1.0M449.2 92.4h1.0M460.3 83.6h1.0M455.0 90.0h1.0M455.6 86.6h1.0M452.1 85.9h1.0M452.1 93.3h1.0M448.8 85.7h1.0M454.8 83.1h1.0M456.4 84.9h1.0M458.2 80.7h1.0M463.3 90.6h1.0M459.5 88.7h1.0M450.2 84.1h1.0M449.3 78.9h1.0M455.3 83.8h1.0M453.6 91.7h1.0M448.4 88.8h1.0M448.8 84.5h1.0M450.4 86.5h1.0M449.3 87.5h1.0M449.9 86.3h1.0M453.4 86.2h1.0M458.5 87.2h1.0M451.7 83.7h1.0M457.3 82.9h1.0M451.0 86.9h1.0M454.8 87.2h1.0M448.7 82.8h1.0M446.7 78.5h1.0M448.0 87.9h1.0M452.1 78.6h1.0M452.6 85.8h1.0M460.0 89.1h1.0M455.4 93.8h1.0M456.2 82.6h1.0M449.0 92.7h1.0M461.2 92.7h1.0M460.0 96.0h1.0M458.6 85.3h1.0M453.1 85.9h1.0M452.3 84.1h1.0M452.4 92.9h1.0M462.7 89.7h1.0M449.5 83.4h1.0M453.4 87.4h1.0M455.4 87.8h1.0M460.5 89.5h1.0M458.2 88.7h1.0M457.2 84.9h1.0M452.9 92.2h1.0M447.9 82.3h1.0M458.8 89.8h1.0M451.2 83.0h1.0M459.4 85.7h1.0M459.3 89.1h1.0M455.4 87.0h1.0M451.5 83.5h1.0M451.3 93.7h1.0M457.8 92.2h1.0M451.9 85.6h1.0M447.1 85.4h1.0M452.8 78.8h1.0M452.4 79.9h1.0M453.8 90.7h1.0M452.8 85.2h1.0M454.3 86.5h1.0M458.1 83.2h1.0M455.5 85.8h1.0M447.8 87.0h1.0M456.2 92.2h1.0M448.0 83.8h1.0M453.7 75.9h1.0M451.8 88.1h1.0M460.6 87.9h1.0M448.6 88.6h1.0M456.8 78.7h1.0M454.8 93.8h1.0M455.2 86.4h1.0M450.0 83.3h1.0M460.9 86.3h1.0M456.7 91.1h1.0M456.9 87.0h1.0M455.1 80.3h1.0M449.9 86.8h1.0M458.0 96.7h1.0" stroke="#0a7a0a" stroke-width="1.0" fill="none" opacity="1.0"/>
</g>
<path d="M18.5 165.8V45" stroke="#222" stroke-width="1.25" fill="none"/>
<path d="M18.5 41.5l-1.8 5h3.6z" fill="#333"/>
<path d="M17.9 165.8H513" stroke="#333" stroke-width="1.25" fill="none"/>
<path d="M517.2 166l-5 -1.9v3.8z" fill="#333"/>
<text transform="translate(11.8,100.8) rotate(-90)" text-anchor="middle" font-size="7.5" fill="#666">Siglec-7 PE</text>
<text x="267.2" y="180" text-anchor="middle" font-size="7.5" fill="#555">CD56 Pc5</text>
<path d="M21.5 205V282.2H520" stroke="#777" stroke-width="0.8" fill="none"/>
<path d="M19 282.1h2.5" stroke="#777" stroke-width="0.7"/>
<text x="18.3" y="284.0" text-anchor="end" font-size="5.3" fill="#444">0</text>
<path d="M19 266.7h2.5" stroke="#777" stroke-width="0.7"/>
<text x="18.3" y="268.6" text-anchor="end" font-size="5.3" fill="#444">20</text>
<path d="M19 251.4h2.5" stroke="#777" stroke-width="0.7"/>
<text x="18.3" y="253.3" text-anchor="end" font-size="5.3" fill="#444">40</text>
<path d="M19 236.0h2.5" stroke="#777" stroke-width="0.7"/>
<text x="18.3" y="237.9" text-anchor="end" font-size="5.3" fill="#444">60</text>
<path d="M19 220.6h2.5" stroke="#777" stroke-width="0.7"/>
<text x="18.3" y="222.5" text-anchor="end" font-size="5.3" fill="#444">80</text>
<path d="M19 205.3h2.5" stroke="#777" stroke-width="0.7"/>
<text x="18.3" y="207.2" text-anchor="end" font-size="5.3" fill="#444">100</text>
<text transform="translate(6.5,243.6) rotate(-90)" text-anchor="middle" font-size="7" fill="#7a7a7a">% NK cell subset</text>
<path d="M21.5 299V303.3H138.4V299" stroke="#5a5a5a" stroke-width="0.9" fill="none"/>
<path d="M145.3 299V303.3H261.5V299" stroke="#5a5a5a" stroke-width="0.9" fill="none"/>
<path d="M271.3 299V303.3H388V299" stroke="#5a5a5a" stroke-width="0.9" fill="none"/>
<path d="M395.4 299V303.3H511.8V299" stroke="#5a5a5a" stroke-width="0.9" fill="none"/>
<text x="78.7" y="313.9" text-anchor="middle" font-size="9.1" font-weight="bold" fill="#333">Healthy Donors</text>
<text x="201.6" y="313.9" text-anchor="middle" font-size="9.1" font-weight="bold" fill="#333">Early HIV-1 Infected</text>
<text x="201.6" y="322.2" text-anchor="middle" font-size="9.1" font-weight="bold" fill="#333">Viremic Patients</text>
<text x="327.5" y="313.9" text-anchor="middle" font-size="9.1" font-weight="bold" fill="#333">Chronic HIV-1 Infected</text>
<text x="327.5" y="322.2" text-anchor="middle" font-size="9.1" font-weight="bold" fill="#333">Viremic Patients</text>
<text x="453.2" y="313.9" text-anchor="middle" font-size="9.1" font-weight="bold" fill="#333">Chronic HIV-1 Infected</text>
<text x="453.2" y="322.2" text-anchor="middle" font-size="9.1" font-weight="bold" fill="#333">LTNPs</text>
<path d="M44.5 282.2v1.6M80.8 282.2v1.6M119 282.2v1.6M165.5 282.2v1.6M201.3 282.2v1.6M239.5 282.2v1.6M290 282.2v1.6M327 282.2v1.6M365 282.2v1.6M413.5 282.2v1.6M450 282.2v1.6M488.5 282.2v1.6" stroke="#777" stroke-width="0.7"/>
<text x="44.5" y="290.4" text-anchor="middle" font-size="5.75" fill="#529552">CD56<tspan dy="-2.3" font-size="5.75">pos</tspan></text>
<text x="44.5" y="296.3" text-anchor="middle" font-size="5.75" fill="#529552">Siglec-7<tspan dy="-2.3" font-size="5.75">pos</tspan></text>
<text x="80.8" y="290.4" text-anchor="middle" font-size="5.75" fill="#42428e">CD56<tspan dy="-2.3" font-size="5.75">pos</tspan></text>
<text x="80.8" y="296.3" text-anchor="middle" font-size="5.75" fill="#42428e">Siglec-7<tspan dy="-2.3" font-size="5.75">neg</tspan></text>
<text x="119" y="290.4" text-anchor="middle" font-size="5.75" fill="#a44444">CD56<tspan dy="-2.3" font-size="5.75">neg</tspan></text>
<text x="119" y="296.3" text-anchor="middle" font-size="5.75" fill="#a44444">Siglec-7<tspan dy="-2.3" font-size="5.75">neg</tspan></text>
<text x="165.5" y="290.4" text-anchor="middle" font-size="5.75" fill="#529552">CD56<tspan dy="-2.3" font-size="5.75">pos</tspan></text>
<text x="165.5" y="296.3" text-anchor="middle" font-size="5.75" fill="#529552">Siglec-7<tspan dy="-2.3" font-size="5.75">pos</tspan></text>
<text x="201.3" y="290.4" text-anchor="middle" font-size="5.75" fill="#42428e">CD56<tspan dy="-2.3" font-size="5.75">pos</tspan></text>
<text x="201.3" y="296.3" text-anchor="middle" font-size="5.75" fill="#42428e">Siglec-7<tspan dy="-2.3" font-size="5.75">neg</tspan></text>
<text x="239.5" y="290.4" text-anchor="middle" font-size="5.75" fill="#a44444">CD56<tspan dy="-2.3" font-size="5.75">neg</tspan></text>
<text x="239.5" y="296.3" text-anchor="middle" font-size="5.75" fill="#a44444">Siglec-7<tspan dy="-2.3" font-size="5.75">neg</tspan></text>
<text x="290" y="290.4" text-anchor="middle" font-size="5.75" fill="#529552">CD56<tspan dy="-2.3" font-size="5.75">pos</tspan></text>
<text x="290" y="296.3" text-anchor="middle" font-size="5.75" fill="#529552">Siglec-7<tspan dy="-2.3" font-size="5.75">pos</tspan></text>
<text x="327" y="290.4" text-anchor="middle" font-size="5.75" fill="#42428e">CD56<tspan dy="-2.3" font-size="5.75">pos</tspan></text>
<text x="327" y="296.3" text-anchor="middle" font-size="5.75" fill="#42428e">Siglec-7<tspan dy="-2.3" font-size="5.75">neg</tspan></text>
<text x="365" y="290.4" text-anchor="middle" font-size="5.75" fill="#a44444">CD56<tspan dy="-2.3" font-size="5.75">neg</tspan></text>
<text x="365" y="296.3" text-anchor="middle" font-size="5.75" fill="#a44444">Siglec-7<tspan dy="-2.3" font-size="5.75">neg</tspan></text>
<text x="413.5" y="290.4" text-anchor="middle" font-size="5.75" fill="#529552">CD56<tspan dy="-2.3" font-size="5.75">pos</tspan></text>
<text x="413.5" y="296.3" text-anchor="middle" font-size="5.75" fill="#529552">Siglec-7<tspan dy="-2.3" font-size="5.75">pos</tspan></text>
<text x="450" y="290.4" text-anchor="middle" font-size="5.75" fill="#42428e">CD56<tspan dy="-2.3" font-size="5.75">pos</tspan></text>
<text x="450" y="296.3" text-anchor="middle" font-size="5.75" fill="#42428e">Siglec-7<tspan dy="-2.3" font-size="5.75">neg</tspan></text>
<text x="488.5" y="290.4" text-anchor="middle" font-size="5.75" fill="#a44444">CD56<tspan dy="-2.3" font-size="5.75">neg</tspan></text>
<text x="488.5" y="296.3" text-anchor="middle" font-size="5.75" fill="#a44444">Siglec-7<tspan dy="-2.3" font-size="5.75">neg</tspan></text>
<circle cx="30.0" cy="209.3" r="1.75" fill="#2a652a" stroke="#0a250a" stroke-width="0.55"/><circle cx="33.5" cy="209.3" r="1.75" fill="#2a652a" stroke="#0a250a" stroke-width="0.55"/><circle cx="37.0" cy="209.3" r="1.75" fill="#2a652a" stroke="#0a250a" stroke-width="0.55"/><circle cx="40.5" cy="209.3" r="1.75" fill="#2a652a" stroke="#0a250a" stroke-width="0.55"/><circle cx="44.0" cy="209.3" r="1.75" fill="#2a652a" stroke="#0a250a" stroke-width="0.55"/><circle cx="47.5" cy="209.3" r="1.75" fill="#2a652a" stroke="#0a250a" stroke-width="0.55"/><circle cx="51.0" cy="209.3" r="1.75" fill="#2a652a" stroke="#0a250a" stroke-width="0.55"/><circle cx="31.7" cy="211.9" r="1.75" fill="#2a652a" stroke="#0a250a" stroke-width="0.55"/><circle cx="35.2" cy="211.9" r="1.75" fill="#2a652a" stroke="#0a250a" stroke-width="0.55"/><circle cx="38.7" cy="211.9" r="1.75" fill="#2a652a" stroke="#0a250a" stroke-width="0.55"/><circle cx="42.2" cy="211.9" r="1.75" fill="#2a652a" stroke="#0a250a" stroke-width="0.55"/><circle cx="45.7" cy="211.9" r="1.75" fill="#2a652a" stroke="#0a250a" stroke-width="0.55"/><circle cx="49.2" cy="211.9" r="1.75" fill="#2a652a" stroke="#0a250a" stroke-width="0.55"/><circle cx="30.0" cy="214.5" r="1.75" fill="#2a652a" stroke="#0a250a" stroke-width="0.55"/><circle cx="33.5" cy="214.5" r="1.75" fill="#2a652a" stroke="#0a250a" stroke-width="0.55"/><circle cx="37.0" cy="214.5" r="1.75" fill="#2a652a" stroke="#0a250a" stroke-width="0.55"/><circle cx="40.5" cy="214.5" r="1.75" fill="#2a652a" stroke="#0a250a" stroke-width="0.55"/><circle cx="44.0" cy="214.5" r="1.75" fill="#2a652a" stroke="#0a250a" stroke-width="0.55"/><circle cx="47.5" cy="214.5" r="1.75" fill="#2a652a" stroke="#0a250a" stroke-width="0.55"/><circle cx="51.0" cy="214.5" r="1.75" fill="#2a652a" stroke="#0a250a" stroke-width="0.55"/><circle cx="31.7" cy="217.1" r="1.75" fill="#2a652a" stroke="#0a250a" stroke-width="0.55"/><circle cx="35.2" cy="217.1" r="1.75" fill="#2a652a" stroke="#0a250a" stroke-width="0.55"/><circle cx="38.7" cy="217.1" r="1.75" fill="#2a652a" stroke="#0a250a" stroke-width="0.55"/><circle cx="42.2" cy="217.1" r="1.75" fill="#2a652a" stroke="#0a250a" stroke-width="0.55"/><circle cx="45.7" cy="217.1" r="1.75" fill="#2a652a" stroke="#0a250a" stroke-width="0.55"/><circle cx="49.2" cy="217.1" r="1.75" fill="#2a652a" stroke="#0a250a" stroke-width="0.55"/><circle cx="30.0" cy="219.5" r="1.75" fill="#2a652a" stroke="#0a250a" stroke-width="0.55"/><circle cx="33.5" cy="219.5" r="1.75" fill="#2a652a" stroke="#0a250a" stroke-width="0.55"/><circle cx="37.0" cy="219.5" r="1.75" fill="#2a652a" stroke="#0a250a" stroke-width="0.55"/><circle cx="40.5" cy="219.5" r="1.75" fill="#2a652a" stroke="#0a250a" stroke-width="0.55"/><circle cx="44.0" cy="219.5" r="1.75" fill="#2a652a" stroke="#0a250a" stroke-width="0.55"/><circle cx="47.5" cy="219.5" r="1.75" fill="#2a652a" stroke="#0a250a" stroke-width="0.55"/><circle cx="51.0" cy="219.5" r="1.75" fill="#2a652a" stroke="#0a250a" stroke-width="0.55"/><circle cx="31.0" cy="223.2" r="1.75" fill="#2a652a" stroke="#0a250a" stroke-width="0.55"/><circle cx="31.0" cy="227.6" r="1.75" fill="#2a652a" stroke="#0a250a" stroke-width="0.55"/><circle cx="31.0" cy="231.6" r="1.75" fill="#2a652a" stroke="#0a250a" stroke-width="0.55"/><circle cx="35.6" cy="222.8" r="1.75" fill="#2a652a" stroke="#0a250a" stroke-width="0.55"/><circle cx="35.6" cy="226.8" r="1.75" fill="#2a652a" stroke="#0a250a" stroke-width="0.55"/><circle cx="35.6" cy="230.0" r="1.75" fill="#2a652a" stroke="#0a250a" stroke-width="0.55"/><circle cx="35.6" cy="233.6" r="1.75" fill="#2a652a" stroke="#0a250a" stroke-width="0.55"/><circle cx="40.0" cy="221.2" r="1.75" fill="#2a652a" stroke="#0a250a" stroke-width="0.55"/><circle cx="40.0" cy="225.2" r="1.75" fill="#2a652a" stroke="#0a250a" stroke-width="0.55"/><circle cx="40.0" cy="230.0" r="1.75" fill="#2a652a" stroke="#0a250a" stroke-width="0.55"/><circle cx="40.0" cy="235.2" r="1.75" fill="#2a652a" stroke="#0a250a" stroke-width="0.55"/><circle cx="43.6" cy="222.8" r="1.75" fill="#2a652a" stroke="#0a250a" stroke-width="0.55"/><circle cx="43.6" cy="226.0" r="1.75" fill="#2a652a" stroke="#0a250a" stroke-width="0.55"/><circle cx="43.6" cy="229.6" r="1.75" fill="#2a652a" stroke="#0a250a" stroke-width="0.55"/><circle cx="45.2" cy="232.5" r="1.75" fill="#2a652a" stroke="#0a250a" stroke-width="0.55"/><circle cx="49.6" cy="223.6" r="1.75" fill="#2a652a" stroke="#0a250a" stroke-width="0.55"/><circle cx="49.6" cy="228.0" r="1.75" fill="#2a652a" stroke="#0a250a" stroke-width="0.55"/><circle cx="49.6" cy="232.4" r="1.75" fill="#2a652a" stroke="#0a250a" stroke-width="0.55"/><circle cx="35.6" cy="239.2" r="1.75" fill="#2a652a" stroke="#0a250a" stroke-width="0.55"/><circle cx="40.4" cy="241.2" r="1.75" fill="#2a652a" stroke="#0a250a" stroke-width="0.55"/><circle cx="45.0" cy="239.4" r="1.75" fill="#2a652a" stroke="#0a250a" stroke-width="0.55"/>
<circle cx="78.6" cy="256.7" r="1.75" fill="#1a1a88" stroke="#06062e" stroke-width="0.55"/><circle cx="69.4" cy="262.4" r="1.75" fill="#1a1a88" stroke="#06062e" stroke-width="0.55"/><circle cx="87.6" cy="262.4" r="1.75" fill="#1a1a88" stroke="#06062e" stroke-width="0.55"/><circle cx="73.8" cy="264.3" r="1.75" fill="#1a1a88" stroke="#06062e" stroke-width="0.55"/><circle cx="78.3" cy="264.3" r="1.75" fill="#1a1a88" stroke="#06062e" stroke-width="0.55"/><circle cx="83.2" cy="264.3" r="1.75" fill="#1a1a88" stroke="#06062e" stroke-width="0.55"/><circle cx="68.6" cy="267.0" r="1.75" fill="#1a1a88" stroke="#06062e" stroke-width="0.55"/><circle cx="72.0" cy="267.0" r="1.75" fill="#1a1a88" stroke="#06062e" stroke-width="0.55"/><circle cx="75.4" cy="267.0" r="1.75" fill="#1a1a88" stroke="#06062e" stroke-width="0.55"/><circle cx="78.8" cy="267.0" r="1.75" fill="#1a1a88" stroke="#06062e" stroke-width="0.55"/><circle cx="82.2" cy="267.0" r="1.75" fill="#1a1a88" stroke="#06062e" stroke-width="0.55"/><circle cx="85.6" cy="267.0" r="1.75" fill="#1a1a88" stroke="#06062e" stroke-width="0.55"/><circle cx="89.0" cy="267.0" r="1.75" fill="#1a1a88" stroke="#06062e" stroke-width="0.55"/><circle cx="70.3" cy="269.7" r="1.75" fill="#1a1a88" stroke="#06062e" stroke-width="0.55"/><circle cx="73.7" cy="269.7" r="1.75" fill="#1a1a88" stroke="#06062e" stroke-width="0.55"/><circle cx="77.1" cy="269.7" r="1.75" fill="#1a1a88" stroke="#06062e" stroke-width="0.55"/><circle cx="80.5" cy="269.7" r="1.75" fill="#1a1a88" stroke="#06062e" stroke-width="0.55"/><circle cx="83.9" cy="269.7" r="1.75" fill="#1a1a88" stroke="#06062e" stroke-width="0.55"/><circle cx="87.3" cy="269.7" r="1.75" fill="#1a1a88" stroke="#06062e" stroke-width="0.55"/><circle cx="68.6" cy="272.4" r="1.75" fill="#1a1a88" stroke="#06062e" stroke-width="0.55"/><circle cx="72.0" cy="272.4" r="1.75" fill="#1a1a88" stroke="#06062e" stroke-width="0.55"/><circle cx="75.4" cy="272.4" r="1.75" fill="#1a1a88" stroke="#06062e" stroke-width="0.55"/><circle cx="78.8" cy="272.4" r="1.75" fill="#1a1a88" stroke="#06062e" stroke-width="0.55"/><circle cx="82.2" cy="272.4" r="1.75" fill="#1a1a88" stroke="#06062e" stroke-width="0.55"/><circle cx="85.6" cy="272.4" r="1.75" fill="#1a1a88" stroke="#06062e" stroke-width="0.55"/><circle cx="89.0" cy="272.4" r="1.75" fill="#1a1a88" stroke="#06062e" stroke-width="0.55"/><circle cx="70.3" cy="275.1" r="1.75" fill="#1a1a88" stroke="#06062e" stroke-width="0.55"/><circle cx="73.7" cy="275.1" r="1.75" fill="#1a1a88" stroke="#06062e" stroke-width="0.55"/><circle cx="77.1" cy="275.1" r="1.75" fill="#1a1a88" stroke="#06062e" stroke-width="0.55"/><circle cx="80.5" cy="275.1" r="1.75" fill="#1a1a88" stroke="#06062e" stroke-width="0.55"/><circle cx="83.9" cy="275.1" r="1.75" fill="#1a1a88" stroke="#06062e" stroke-width="0.55"/><circle cx="87.3" cy="275.1" r="1.75" fill="#1a1a88" stroke="#06062e" stroke-width="0.55"/><circle cx="68.6" cy="277.8" r="1.75" fill="#1a1a88" stroke="#06062e" stroke-width="0.55"/><circle cx="72.0" cy="277.8" r="1.75" fill="#1a1a88" stroke="#06062e" stroke-width="0.55"/><circle cx="75.4" cy="277.8" r="1.75" fill="#1a1a88" stroke="#06062e" stroke-width="0.55"/><circle cx="78.8" cy="277.8" r="1.75" fill="#1a1a88" stroke="#06062e" stroke-width="0.55"/><circle cx="82.2" cy="277.8" r="1.75" fill="#1a1a88" stroke="#06062e" stroke-width="0.55"/><circle cx="85.6" cy="277.8" r="1.75" fill="#1a1a88" stroke="#06062e" stroke-width="0.55"/><circle cx="89.0" cy="277.8" r="1.75" fill="#1a1a88" stroke="#06062e" stroke-width="0.55"/><circle cx="70.3" cy="280.4" r="1.75" fill="#1a1a88" stroke="#06062e" stroke-width="0.55"/><circle cx="73.7" cy="280.4" r="1.75" fill="#1a1a88" stroke="#06062e" stroke-width="0.55"/><circle cx="77.1" cy="280.4" r="1.75" fill="#1a1a88" stroke="#06062e" stroke-width="0.55"/><circle cx="80.5" cy="280.4" r="1.75" fill="#1a1a88" stroke="#06062e" stroke-width="0.55"/><circle cx="83.9" cy="280.4" r="1.75" fill="#1a1a88" stroke="#06062e" stroke-width="0.55"/><circle cx="87.3" cy="280.4" r="1.75" fill="#1a1a88" stroke="#06062e" stroke-width="0.55"/>
<circle cx="116.6" cy="269.4" r="1.75" fill="#7e1420" stroke="#2a0306" stroke-width="0.55"/><circle cx="106.7" cy="271.6" r="1.75" fill="#7e1420" stroke="#2a0306" stroke-width="0.55"/><circle cx="111.3" cy="271.6" r="1.75" fill="#7e1420" stroke="#2a0306" stroke-width="0.55"/><circle cx="121.2" cy="271.6" r="1.75" fill="#7e1420" stroke="#2a0306" stroke-width="0.55"/><circle cx="125.5" cy="271.6" r="1.75" fill="#7e1420" stroke="#2a0306" stroke-width="0.55"/><circle cx="106.3" cy="274.0" r="1.75" fill="#7e1420" stroke="#2a0306" stroke-width="0.55"/><circle cx="109.7" cy="274.0" r="1.75" fill="#7e1420" stroke="#2a0306" stroke-width="0.55"/><circle cx="113.1" cy="274.0" r="1.75" fill="#7e1420" stroke="#2a0306" stroke-width="0.55"/><circle cx="116.5" cy="274.0" r="1.75" fill="#7e1420" stroke="#2a0306" stroke-width="0.55"/><circle cx="119.9" cy="274.0" r="1.75" fill="#7e1420" stroke="#2a0306" stroke-width="0.55"/><circle cx="123.3" cy="274.0" r="1.75" fill="#7e1420" stroke="#2a0306" stroke-width="0.55"/><circle cx="126.7" cy="274.0" r="1.75" fill="#7e1420" stroke="#2a0306" stroke-width="0.55"/><circle cx="108.0" cy="276.7" r="1.75" fill="#7e1420" stroke="#2a0306" stroke-width="0.55"/><circle cx="111.4" cy="276.7" r="1.75" fill="#7e1420" stroke="#2a0306" stroke-width="0.55"/><circle cx="114.8" cy="276.7" r="1.75" fill="#7e1420" stroke="#2a0306" stroke-width="0.55"/><circle cx="118.2" cy="276.7" r="1.75" fill="#7e1420" stroke="#2a0306" stroke-width="0.55"/><circle cx="121.6" cy="276.7" r="1.75" fill="#7e1420" stroke="#2a0306" stroke-width="0.55"/><circle cx="125.0" cy="276.7" r="1.75" fill="#7e1420" stroke="#2a0306" stroke-width="0.55"/><circle cx="106.3" cy="279.4" r="1.75" fill="#7e1420" stroke="#2a0306" stroke-width="0.55"/><circle cx="109.7" cy="279.4" r="1.75" fill="#7e1420" stroke="#2a0306" stroke-width="0.55"/><circle cx="113.1" cy="279.4" r="1.75" fill="#7e1420" stroke="#2a0306" stroke-width="0.55"/><circle cx="116.5" cy="279.4" r="1.75" fill="#7e1420" stroke="#2a0306" stroke-width="0.55"/><circle cx="119.9" cy="279.4" r="1.75" fill="#7e1420" stroke="#2a0306" stroke-width="0.55"/><circle cx="123.3" cy="279.4" r="1.75" fill="#7e1420" stroke="#2a0306" stroke-width="0.55"/><circle cx="126.7" cy="279.4" r="1.75" fill="#7e1420" stroke="#2a0306" stroke-width="0.55"/><circle cx="108.0" cy="280.6" r="1.75" fill="#7e1420" stroke="#2a0306" stroke-width="0.55"/><circle cx="111.4" cy="280.6" r="1.75" fill="#7e1420" stroke="#2a0306" stroke-width="0.55"/><circle cx="114.8" cy="280.6" r="1.75" fill="#7e1420" stroke="#2a0306" stroke-width="0.55"/><circle cx="118.2" cy="280.6" r="1.75" fill="#7e1420" stroke="#2a0306" stroke-width="0.55"/><circle cx="121.6" cy="280.6" r="1.75" fill="#7e1420" stroke="#2a0306" stroke-width="0.55"/><circle cx="125.0" cy="280.6" r="1.75" fill="#7e1420" stroke="#2a0306" stroke-width="0.55"/>
<circle cx="169.1" cy="233.4" r="1.75" fill="#245a24" stroke="#0a250a" stroke-width="0.55"/><circle cx="164.5" cy="236.5" r="1.75" fill="#245a24" stroke="#0a250a" stroke-width="0.55"/><circle cx="155.2" cy="238.8" r="1.75" fill="#245a24" stroke="#0a250a" stroke-width="0.55"/><circle cx="159.8" cy="242.3" r="1.75" fill="#245a24" stroke="#0a250a" stroke-width="0.55"/><circle cx="164.5" cy="242.6" r="1.75" fill="#245a24" stroke="#0a250a" stroke-width="0.55"/><circle cx="169.1" cy="241.8" r="1.75" fill="#245a24" stroke="#0a250a" stroke-width="0.55"/><circle cx="173.7" cy="243.8" r="1.75" fill="#245a24" stroke="#0a250a" stroke-width="0.55"/><circle cx="159.8" cy="245.7" r="1.75" fill="#245a24" stroke="#0a250a" stroke-width="0.55"/><circle cx="164.5" cy="247.7" r="1.75" fill="#245a24" stroke="#0a250a" stroke-width="0.55"/><circle cx="169.1" cy="247.2" r="1.75" fill="#245a24" stroke="#0a250a" stroke-width="0.55"/><circle cx="155.2" cy="250.3" r="1.75" fill="#245a24" stroke="#0a250a" stroke-width="0.55"/><circle cx="173.7" cy="249.5" r="1.75" fill="#245a24" stroke="#0a250a" stroke-width="0.55"/><circle cx="159.8" cy="253.1" r="1.75" fill="#245a24" stroke="#0a250a" stroke-width="0.55"/><circle cx="164.5" cy="254.2" r="1.75" fill="#245a24" stroke="#0a250a" stroke-width="0.55"/><circle cx="169.1" cy="252.3" r="1.75" fill="#245a24" stroke="#0a250a" stroke-width="0.55"/><circle cx="169.1" cy="256.9" r="1.75" fill="#245a24" stroke="#0a250a" stroke-width="0.55"/><circle cx="164.5" cy="259.5" r="1.75" fill="#245a24" stroke="#0a250a" stroke-width="0.55"/><circle cx="159.8" cy="264.9" r="1.75" fill="#245a24" stroke="#0a250a" stroke-width="0.55"/><circle cx="164.5" cy="265.7" r="1.75" fill="#245a24" stroke="#0a250a" stroke-width="0.55"/><circle cx="169.1" cy="263.7" r="1.75" fill="#245a24" stroke="#0a250a" stroke-width="0.55"/><circle cx="164.5" cy="272.6" r="1.75" fill="#245a24" stroke="#0a250a" stroke-width="0.55"/>
<circle cx="207.3" cy="223.7" r="1.75" fill="#1c1c8c" stroke="#0a0a45" stroke-width="0.55"/><circle cx="198.2" cy="227.2" r="1.75" fill="#1c1c8c" stroke="#0a0a45" stroke-width="0.55"/><circle cx="202.5" cy="228.2" r="1.75" fill="#1c1c8c" stroke="#0a0a45" stroke-width="0.55"/><circle cx="198.2" cy="230.2" r="1.75" fill="#1c1c8c" stroke="#0a0a45" stroke-width="0.55"/><circle cx="202.5" cy="234.9" r="1.75" fill="#1c1c8c" stroke="#0a0a45" stroke-width="0.55"/><circle cx="207.3" cy="234.3" r="1.75" fill="#1c1c8c" stroke="#0a0a45" stroke-width="0.55"/><circle cx="198.2" cy="239.4" r="1.75" fill="#1c1c8c" stroke="#0a0a45" stroke-width="0.55"/><circle cx="202.5" cy="241.0" r="1.75" fill="#1c1c8c" stroke="#0a0a45" stroke-width="0.55"/><circle cx="198.2" cy="242.7" r="1.75" fill="#1c1c8c" stroke="#0a0a45" stroke-width="0.55"/><circle cx="211.7" cy="242.7" r="1.75" fill="#1c1c8c" stroke="#0a0a45" stroke-width="0.55"/><circle cx="193.5" cy="248.5" r="1.75" fill="#1c1c8c" stroke="#0a0a45" stroke-width="0.55"/><circle cx="202.5" cy="246.7" r="1.75" fill="#1c1c8c" stroke="#0a0a45" stroke-width="0.55"/><circle cx="207.3" cy="247.1" r="1.75" fill="#1c1c8c" stroke="#0a0a45" stroke-width="0.55"/><circle cx="211.7" cy="248.9" r="1.75" fill="#1c1c8c" stroke="#0a0a45" stroke-width="0.55"/><circle cx="198.2" cy="250.8" r="1.75" fill="#1c1c8c" stroke="#0a0a45" stroke-width="0.55"/><circle cx="207.3" cy="250.8" r="1.75" fill="#1c1c8c" stroke="#0a0a45" stroke-width="0.55"/><circle cx="202.5" cy="253.2" r="1.75" fill="#1c1c8c" stroke="#0a0a45" stroke-width="0.55"/><circle cx="211.7" cy="253.9" r="1.75" fill="#1c1c8c" stroke="#0a0a45" stroke-width="0.55"/><circle cx="198.2" cy="256.2" r="1.75" fill="#1c1c8c" stroke="#0a0a45" stroke-width="0.55"/><circle cx="202.5" cy="258.4" r="1.75" fill="#1c1c8c" stroke="#0a0a45" stroke-width="0.55"/><circle cx="207.3" cy="257.6" r="1.75" fill="#1c1c8c" stroke="#0a0a45" stroke-width="0.55"/>
<circle cx="245.4" cy="265.8" r="1.75" fill="#8e1422" stroke="#3a0508" stroke-width="0.55"/><circle cx="240.8" cy="267.7" r="1.75" fill="#8e1422" stroke="#3a0508" stroke-width="0.55"/><circle cx="243.1" cy="271.2" r="1.75" fill="#8e1422" stroke="#3a0508" stroke-width="0.55"/><circle cx="231.5" cy="270.4" r="1.75" fill="#8e1422" stroke="#3a0508" stroke-width="0.55"/><circle cx="231.5" cy="274.2" r="1.75" fill="#8e1422" stroke="#3a0508" stroke-width="0.55"/><circle cx="236.2" cy="272.7" r="1.75" fill="#8e1422" stroke="#3a0508" stroke-width="0.55"/><circle cx="250.0" cy="273.8" r="1.75" fill="#8e1422" stroke="#3a0508" stroke-width="0.55"/><circle cx="246.0" cy="274.6" r="1.75" fill="#8e1422" stroke="#3a0508" stroke-width="0.55"/><circle cx="233.5" cy="276.6" r="1.75" fill="#8e1422" stroke="#3a0508" stroke-width="0.55"/><circle cx="237.0" cy="276.6" r="1.75" fill="#8e1422" stroke="#3a0508" stroke-width="0.55"/><circle cx="240.5" cy="276.6" r="1.75" fill="#8e1422" stroke="#3a0508" stroke-width="0.55"/><circle cx="244.0" cy="276.6" r="1.75" fill="#8e1422" stroke="#3a0508" stroke-width="0.55"/><circle cx="247.5" cy="276.6" r="1.75" fill="#8e1422" stroke="#3a0508" stroke-width="0.55"/><circle cx="231.5" cy="279.4" r="1.75" fill="#8e1422" stroke="#3a0508" stroke-width="0.55"/><circle cx="235.0" cy="279.4" r="1.75" fill="#8e1422" stroke="#3a0508" stroke-width="0.55"/><circle cx="238.5" cy="279.4" r="1.75" fill="#8e1422" stroke="#3a0508" stroke-width="0.55"/><circle cx="242.0" cy="279.4" r="1.75" fill="#8e1422" stroke="#3a0508" stroke-width="0.55"/><circle cx="245.5" cy="279.4" r="1.75" fill="#8e1422" stroke="#3a0508" stroke-width="0.55"/><circle cx="249.0" cy="279.4" r="1.75" fill="#8e1422" stroke="#3a0508" stroke-width="0.55"/><circle cx="252.0" cy="279.4" r="1.75" fill="#8e1422" stroke="#3a0508" stroke-width="0.55"/>
<circle cx="288.8" cy="279.4" r="1.6" fill="#2a642a" stroke="#0a250a" stroke-width="0.55"/><circle cx="292.2" cy="279.3" r="1.6" fill="#2a642a" stroke="#0a250a" stroke-width="0.55"/><circle cx="285.4" cy="278.7" r="1.6" fill="#2a642a" stroke="#0a250a" stroke-width="0.55"/><circle cx="295.6" cy="278.6" r="1.6" fill="#2a642a" stroke="#0a250a" stroke-width="0.55"/><circle cx="282.0" cy="278.5" r="1.6" fill="#2a642a" stroke="#0a250a" stroke-width="0.55"/><circle cx="299.0" cy="278.2" r="1.6" fill="#2a642a" stroke="#0a250a" stroke-width="0.55"/><circle cx="278.6" cy="277.7" r="1.6" fill="#2a642a" stroke="#0a250a" stroke-width="0.55"/><circle cx="288.4" cy="277.6" r="1.6" fill="#2a642a" stroke="#0a250a" stroke-width="0.55"/><circle cx="298.9" cy="276.5" r="1.6" fill="#2a642a" stroke="#0a250a" stroke-width="0.55"/><circle cx="298.9" cy="276.4" r="1.6" fill="#2a642a" stroke="#0a250a" stroke-width="0.55"/><circle cx="291.6" cy="276.3" r="1.6" fill="#2a642a" stroke="#0a250a" stroke-width="0.55"/><circle cx="299.7" cy="276.2" r="1.6" fill="#2a642a" stroke="#0a250a" stroke-width="0.55"/><circle cx="298.2" cy="276.2" r="1.6" fill="#2a642a" stroke="#0a250a" stroke-width="0.55"/><circle cx="285.2" cy="276.0" r="1.6" fill="#2a642a" stroke="#0a250a" stroke-width="0.55"/><circle cx="281.3" cy="275.9" r="1.6" fill="#2a642a" stroke="#0a250a" stroke-width="0.55"/><circle cx="285.8" cy="275.9" r="1.6" fill="#2a642a" stroke="#0a250a" stroke-width="0.55"/><circle cx="297.8" cy="275.8" r="1.6" fill="#2a642a" stroke="#0a250a" stroke-width="0.55"/><circle cx="289.9" cy="275.6" r="1.6" fill="#2a642a" stroke="#0a250a" stroke-width="0.55"/><circle cx="288.6" cy="275.5" r="1.6" fill="#2a642a" stroke="#0a250a" stroke-width="0.55"/><circle cx="290.3" cy="275.2" r="1.6" fill="#2a642a" stroke="#0a250a" stroke-width="0.55"/><circle cx="299.0" cy="274.7" r="1.6" fill="#2a642a" stroke="#0a250a" stroke-width="0.55"/><circle cx="278.6" cy="274.2" r="1.6" fill="#2a642a" stroke="#0a250a" stroke-width="0.55"/><circle cx="279.3" cy="274.1" r="1.6" fill="#2a642a" stroke="#0a250a" stroke-width="0.55"/><circle cx="297.5" cy="274.1" r="1.6" fill="#2a642a" stroke="#0a250a" stroke-width="0.55"/><circle cx="286.2" cy="273.7" r="1.6" fill="#2a642a" stroke="#0a250a" stroke-width="0.55"/><circle cx="285.8" cy="273.4" r="1.6" fill="#2a642a" stroke="#0a250a" stroke-width="0.55"/><circle cx="280.4" cy="273.0" r="1.6" fill="#2a642a" stroke="#0a250a" stroke-width="0.55"/><circle cx="292.2" cy="272.6" r="1.6" fill="#2a642a" stroke="#0a250a" stroke-width="0.55"/><circle cx="290.5" cy="272.6" r="1.6" fill="#2a642a" stroke="#0a250a" stroke-width="0.55"/><circle cx="289.1" cy="272.5" r="1.6" fill="#2a642a" stroke="#0a250a" stroke-width="0.55"/><circle cx="290.4" cy="272.3" r="1.6" fill="#2a642a" stroke="#0a250a" stroke-width="0.55"/><circle cx="292.4" cy="271.7" r="1.6" fill="#2a642a" stroke="#0a250a" stroke-width="0.55"/><circle cx="295.6" cy="271.6" r="1.6" fill="#2a642a" stroke="#0a250a" stroke-width="0.55"/><circle cx="287.6" cy="271.4" r="1.6" fill="#2a642a" stroke="#0a250a" stroke-width="0.55"/><circle cx="299.0" cy="271.0" r="1.6" fill="#2a642a" stroke="#0a250a" stroke-width="0.55"/><circle cx="278.6" cy="270.4" r="1.6" fill="#2a642a" stroke="#0a250a" stroke-width="0.55"/><circle cx="282.0" cy="269.9" r="1.6" fill="#2a642a" stroke="#0a250a" stroke-width="0.55"/><circle cx="284.3" cy="269.8" r="1.6" fill="#2a642a" stroke="#0a250a" stroke-width="0.55"/><circle cx="291.4" cy="269.0" r="1.6" fill="#2a642a" stroke="#0a250a" stroke-width="0.55"/><circle cx="296.0" cy="268.6" r="1.6" fill="#2a642a" stroke="#0a250a" stroke-width="0.55"/><circle cx="279.3" cy="268.3" r="1.6" fill="#2a642a" stroke="#0a250a" stroke-width="0.55"/><circle cx="286.3" cy="268.2" r="1.6" fill="#2a642a" stroke="#0a250a" stroke-width="0.55"/><circle cx="294.5" cy="267.9" r="1.6" fill="#2a642a" stroke="#0a250a" stroke-width="0.55"/><circle cx="287.9" cy="267.7" r="1.6" fill="#2a642a" stroke="#0a250a" stroke-width="0.55"/><circle cx="299.0" cy="267.2" r="1.6" fill="#2a642a" stroke="#0a250a" stroke-width="0.55"/><circle cx="289.0" cy="267.2" r="1.6" fill="#2a642a" stroke="#0a250a" stroke-width="0.55"/><circle cx="298.8" cy="266.8" r="1.6" fill="#2a642a" stroke="#0a250a" stroke-width="0.55"/><circle cx="282.0" cy="266.6" r="1.6" fill="#2a642a" stroke="#0a250a" stroke-width="0.55"/><circle cx="291.7" cy="266.5" r="1.6" fill="#2a642a" stroke="#0a250a" stroke-width="0.55"/><circle cx="291.0" cy="266.3" r="1.6" fill="#2a642a" stroke="#0a250a" stroke-width="0.55"/><circle cx="285.6" cy="266.0" r="1.6" fill="#2a642a" stroke="#0a250a" stroke-width="0.55"/><circle cx="287.1" cy="265.8" r="1.6" fill="#2a642a" stroke="#0a250a" stroke-width="0.55"/><circle cx="292.2" cy="265.3" r="1.6" fill="#2a642a" stroke="#0a250a" stroke-width="0.55"/><circle cx="278.6" cy="265.0" r="1.6" fill="#2a642a" stroke="#0a250a" stroke-width="0.55"/><circle cx="295.6" cy="264.6" r="1.6" fill="#2a642a" stroke="#0a250a" stroke-width="0.55"/><circle cx="288.8" cy="263.0" r="1.6" fill="#2a642a" stroke="#0a250a" stroke-width="0.55"/><circle cx="285.4" cy="262.8" r="1.6" fill="#2a642a" stroke="#0a250a" stroke-width="0.55"/><circle cx="282.0" cy="262.3" r="1.6" fill="#2a642a" stroke="#0a250a" stroke-width="0.55"/><circle cx="299.0" cy="262.2" r="1.6" fill="#2a642a" stroke="#0a250a" stroke-width="0.55"/><circle cx="292.2" cy="261.4" r="1.6" fill="#2a642a" stroke="#0a250a" stroke-width="0.55"/><circle cx="295.6" cy="261.0" r="1.6" fill="#2a642a" stroke="#0a250a" stroke-width="0.55"/><circle cx="278.6" cy="260.8" r="1.6" fill="#2a642a" stroke="#0a250a" stroke-width="0.55"/><circle cx="282.0" cy="260.8" r="1.6" fill="#2a642a" stroke="#0a250a" stroke-width="0.55"/><circle cx="293.7" cy="260.7" r="1.6" fill="#2a642a" stroke="#0a250a" stroke-width="0.55"/><circle cx="297.2" cy="260.5" r="1.6" fill="#2a642a" stroke="#0a250a" stroke-width="0.55"/><circle cx="278.4" cy="260.3" r="1.6" fill="#2a642a" stroke="#0a250a" stroke-width="0.55"/><circle cx="280.9" cy="260.3" r="1.6" fill="#2a642a" stroke="#0a250a" stroke-width="0.55"/><circle cx="288.8" cy="259.4" r="1.6" fill="#2a642a" stroke="#0a250a" stroke-width="0.55"/><circle cx="285.4" cy="259.3" r="1.6" fill="#2a642a" stroke="#0a250a" stroke-width="0.55"/><circle cx="285.2" cy="259.1" r="1.6" fill="#2a642a" stroke="#0a250a" stroke-width="0.55"/><circle cx="284.0" cy="258.5" r="1.6" fill="#2a642a" stroke="#0a250a" stroke-width="0.55"/><circle cx="292.2" cy="257.9" r="1.6" fill="#2a642a" stroke="#0a250a" stroke-width="0.55"/><circle cx="295.6" cy="257.5" r="1.6" fill="#2a642a" stroke="#0a250a" stroke-width="0.55"/><circle cx="299.0" cy="257.3" r="1.6" fill="#2a642a" stroke="#0a250a" stroke-width="0.55"/><circle cx="288.8" cy="256.2" r="1.6" fill="#2a642a" stroke="#0a250a" stroke-width="0.55"/><circle cx="285.4" cy="255.4" r="1.6" fill="#2a642a" stroke="#0a250a" stroke-width="0.55"/><circle cx="282.0" cy="255.2" r="1.6" fill="#2a642a" stroke="#0a250a" stroke-width="0.55"/><circle cx="278.6" cy="254.8" r="1.6" fill="#2a642a" stroke="#0a250a" stroke-width="0.55"/><circle cx="292.2" cy="254.3" r="1.6" fill="#2a642a" stroke="#0a250a" stroke-width="0.55"/><circle cx="295.6" cy="254.0" r="1.6" fill="#2a642a" stroke="#0a250a" stroke-width="0.55"/><circle cx="299.0" cy="253.8" r="1.6" fill="#2a642a" stroke="#0a250a" stroke-width="0.55"/><circle cx="295.9" cy="253.6" r="1.6" fill="#2a642a" stroke="#0a250a" stroke-width="0.55"/><circle cx="283.5" cy="253.4" r="1.6" fill="#2a642a" stroke="#0a250a" stroke-width="0.55"/><circle cx="294.7" cy="253.3" r="1.6" fill="#2a642a" stroke="#0a250a" stroke-width="0.55"/><circle cx="288.8" cy="253.0" r="1.6" fill="#2a642a" stroke="#0a250a" stroke-width="0.55"/><circle cx="283.8" cy="252.7" r="1.6" fill="#2a642a" stroke="#0a250a" stroke-width="0.55"/><circle cx="278.2" cy="252.2" r="1.6" fill="#2a642a" stroke="#0a250a" stroke-width="0.55"/><circle cx="292.2" cy="250.7" r="1.6" fill="#2a642a" stroke="#0a250a" stroke-width="0.55"/><circle cx="287.9" cy="250.7" r="1.6" fill="#2a642a" stroke="#0a250a" stroke-width="0.55"/><circle cx="295.6" cy="250.0" r="1.6" fill="#2a642a" stroke="#0a250a" stroke-width="0.55"/><circle cx="288.8" cy="247.2" r="1.6" fill="#2a642a" stroke="#0a250a" stroke-width="0.55"/><circle cx="292.2" cy="246.8" r="1.6" fill="#2a642a" stroke="#0a250a" stroke-width="0.55"/><circle cx="285.4" cy="246.6" r="1.6" fill="#2a642a" stroke="#0a250a" stroke-width="0.55"/><circle cx="295.6" cy="245.3" r="1.6" fill="#2a642a" stroke="#0a250a" stroke-width="0.55"/><circle cx="282.0" cy="245.0" r="1.6" fill="#2a642a" stroke="#0a250a" stroke-width="0.55"/>
<circle cx="327.0" cy="268.4" r="1.62" fill="#1f1f9a" stroke="#0a0a45" stroke-width="0.55"/><circle cx="330.4" cy="267.2" r="1.62" fill="#1f1f9a" stroke="#0a0a45" stroke-width="0.55"/><circle cx="323.6" cy="267.2" r="1.62" fill="#1f1f9a" stroke="#0a0a45" stroke-width="0.55"/><circle cx="333.8" cy="266.4" r="1.62" fill="#1f1f9a" stroke="#0a0a45" stroke-width="0.55"/><circle cx="320.2" cy="266.0" r="1.62" fill="#1f1f9a" stroke="#0a0a45" stroke-width="0.55"/><circle cx="327.0" cy="265.1" r="1.62" fill="#1f1f9a" stroke="#0a0a45" stroke-width="0.55"/><circle cx="337.2" cy="265.0" r="1.62" fill="#1f1f9a" stroke="#0a0a45" stroke-width="0.55"/><circle cx="330.4" cy="263.9" r="1.62" fill="#1f1f9a" stroke="#0a0a45" stroke-width="0.55"/><circle cx="323.6" cy="263.8" r="1.62" fill="#1f1f9a" stroke="#0a0a45" stroke-width="0.55"/><circle cx="316.8" cy="263.7" r="1.62" fill="#1f1f9a" stroke="#0a0a45" stroke-width="0.55"/><circle cx="318.7" cy="263.7" r="1.62" fill="#1f1f9a" stroke="#0a0a45" stroke-width="0.55"/><circle cx="335.0" cy="263.4" r="1.62" fill="#1f1f9a" stroke="#0a0a45" stroke-width="0.55"/><circle cx="328.6" cy="262.4" r="1.62" fill="#1f1f9a" stroke="#0a0a45" stroke-width="0.55"/><circle cx="329.9" cy="262.2" r="1.62" fill="#1f1f9a" stroke="#0a0a45" stroke-width="0.55"/><circle cx="325.3" cy="261.4" r="1.62" fill="#1f1f9a" stroke="#0a0a45" stroke-width="0.55"/><circle cx="337.2" cy="261.1" r="1.62" fill="#1f1f9a" stroke="#0a0a45" stroke-width="0.55"/><circle cx="320.2" cy="260.8" r="1.62" fill="#1f1f9a" stroke="#0a0a45" stroke-width="0.55"/><circle cx="327.6" cy="260.8" r="1.62" fill="#1f1f9a" stroke="#0a0a45" stroke-width="0.55"/><circle cx="330.2" cy="260.7" r="1.62" fill="#1f1f9a" stroke="#0a0a45" stroke-width="0.55"/><circle cx="316.8" cy="260.5" r="1.62" fill="#1f1f9a" stroke="#0a0a45" stroke-width="0.55"/><circle cx="333.8" cy="260.1" r="1.62" fill="#1f1f9a" stroke="#0a0a45" stroke-width="0.55"/><circle cx="333.0" cy="259.8" r="1.62" fill="#1f1f9a" stroke="#0a0a45" stroke-width="0.55"/><circle cx="334.2" cy="259.6" r="1.62" fill="#1f1f9a" stroke="#0a0a45" stroke-width="0.55"/><circle cx="323.6" cy="258.5" r="1.62" fill="#1f1f9a" stroke="#0a0a45" stroke-width="0.55"/><circle cx="328.2" cy="258.4" r="1.62" fill="#1f1f9a" stroke="#0a0a45" stroke-width="0.55"/><circle cx="328.0" cy="258.0" r="1.62" fill="#1f1f9a" stroke="#0a0a45" stroke-width="0.55"/><circle cx="320.2" cy="257.3" r="1.62" fill="#1f1f9a" stroke="#0a0a45" stroke-width="0.55"/><circle cx="337.2" cy="257.3" r="1.62" fill="#1f1f9a" stroke="#0a0a45" stroke-width="0.55"/><circle cx="316.8" cy="256.7" r="1.62" fill="#1f1f9a" stroke="#0a0a45" stroke-width="0.55"/><circle cx="335.6" cy="256.6" r="1.62" fill="#1f1f9a" stroke="#0a0a45" stroke-width="0.55"/><circle cx="318.9" cy="256.2" r="1.62" fill="#1f1f9a" stroke="#0a0a45" stroke-width="0.55"/><circle cx="325.1" cy="256.0" r="1.62" fill="#1f1f9a" stroke="#0a0a45" stroke-width="0.55"/><circle cx="330.4" cy="255.9" r="1.62" fill="#1f1f9a" stroke="#0a0a45" stroke-width="0.55"/><circle cx="322.2" cy="255.6" r="1.62" fill="#1f1f9a" stroke="#0a0a45" stroke-width="0.55"/><circle cx="319.1" cy="255.1" r="1.62" fill="#1f1f9a" stroke="#0a0a45" stroke-width="0.55"/><circle cx="321.2" cy="255.0" r="1.62" fill="#1f1f9a" stroke="#0a0a45" stroke-width="0.55"/><circle cx="328.1" cy="254.2" r="1.62" fill="#1f1f9a" stroke="#0a0a45" stroke-width="0.55"/><circle cx="333.8" cy="254.1" r="1.62" fill="#1f1f9a" stroke="#0a0a45" stroke-width="0.55"/><circle cx="337.2" cy="253.8" r="1.62" fill="#1f1f9a" stroke="#0a0a45" stroke-width="0.55"/><circle cx="318.6" cy="253.7" r="1.62" fill="#1f1f9a" stroke="#0a0a45" stroke-width="0.55"/><circle cx="334.2" cy="253.7" r="1.62" fill="#1f1f9a" stroke="#0a0a45" stroke-width="0.55"/><circle cx="322.7" cy="253.6" r="1.62" fill="#1f1f9a" stroke="#0a0a45" stroke-width="0.55"/><circle cx="332.9" cy="253.6" r="1.62" fill="#1f1f9a" stroke="#0a0a45" stroke-width="0.55"/><circle cx="317.4" cy="253.3" r="1.62" fill="#1f1f9a" stroke="#0a0a45" stroke-width="0.55"/><circle cx="326.1" cy="253.2" r="1.62" fill="#1f1f9a" stroke="#0a0a45" stroke-width="0.55"/><circle cx="317.9" cy="252.9" r="1.62" fill="#1f1f9a" stroke="#0a0a45" stroke-width="0.55"/><circle cx="316.4" cy="252.5" r="1.62" fill="#1f1f9a" stroke="#0a0a45" stroke-width="0.55"/><circle cx="319.5" cy="251.9" r="1.62" fill="#1f1f9a" stroke="#0a0a45" stroke-width="0.55"/><circle cx="330.4" cy="251.1" r="1.62" fill="#1f1f9a" stroke="#0a0a45" stroke-width="0.55"/><circle cx="323.6" cy="250.6" r="1.62" fill="#1f1f9a" stroke="#0a0a45" stroke-width="0.55"/><circle cx="337.2" cy="250.6" r="1.62" fill="#1f1f9a" stroke="#0a0a45" stroke-width="0.55"/><circle cx="333.8" cy="250.5" r="1.62" fill="#1f1f9a" stroke="#0a0a45" stroke-width="0.55"/><circle cx="325.3" cy="250.5" r="1.62" fill="#1f1f9a" stroke="#0a0a45" stroke-width="0.55"/><circle cx="321.5" cy="250.4" r="1.62" fill="#1f1f9a" stroke="#0a0a45" stroke-width="0.55"/><circle cx="332.7" cy="249.6" r="1.62" fill="#1f1f9a" stroke="#0a0a45" stroke-width="0.55"/><circle cx="316.8" cy="249.4" r="1.62" fill="#1f1f9a" stroke="#0a0a45" stroke-width="0.55"/><circle cx="318.0" cy="248.5" r="1.62" fill="#1f1f9a" stroke="#0a0a45" stroke-width="0.55"/><circle cx="335.9" cy="248.1" r="1.62" fill="#1f1f9a" stroke="#0a0a45" stroke-width="0.55"/><circle cx="327.0" cy="246.9" r="1.62" fill="#1f1f9a" stroke="#0a0a45" stroke-width="0.55"/><circle cx="330.4" cy="246.3" r="1.62" fill="#1f1f9a" stroke="#0a0a45" stroke-width="0.55"/><circle cx="323.6" cy="246.1" r="1.62" fill="#1f1f9a" stroke="#0a0a45" stroke-width="0.55"/><circle cx="333.8" cy="244.3" r="1.62" fill="#1f1f9a" stroke="#0a0a45" stroke-width="0.55"/><circle cx="320.2" cy="244.3" r="1.62" fill="#1f1f9a" stroke="#0a0a45" stroke-width="0.55"/><circle cx="337.2" cy="244.2" r="1.62" fill="#1f1f9a" stroke="#0a0a45" stroke-width="0.55"/><circle cx="316.8" cy="244.1" r="1.62" fill="#1f1f9a" stroke="#0a0a45" stroke-width="0.55"/><circle cx="322.7" cy="244.0" r="1.62" fill="#1f1f9a" stroke="#0a0a45" stroke-width="0.55"/><circle cx="327.0" cy="243.5" r="1.62" fill="#1f1f9a" stroke="#0a0a45" stroke-width="0.55"/><circle cx="330.4" cy="242.6" r="1.62" fill="#1f1f9a" stroke="#0a0a45" stroke-width="0.55"/><circle cx="320.8" cy="242.6" r="1.62" fill="#1f1f9a" stroke="#0a0a45" stroke-width="0.55"/><circle cx="323.9" cy="242.2" r="1.62" fill="#1f1f9a" stroke="#0a0a45" stroke-width="0.55"/><circle cx="319.4" cy="241.9" r="1.62" fill="#1f1f9a" stroke="#0a0a45" stroke-width="0.55"/><circle cx="328.4" cy="241.9" r="1.62" fill="#1f1f9a" stroke="#0a0a45" stroke-width="0.55"/><circle cx="329.1" cy="241.5" r="1.62" fill="#1f1f9a" stroke="#0a0a45" stroke-width="0.55"/><circle cx="327.6" cy="241.2" r="1.62" fill="#1f1f9a" stroke="#0a0a45" stroke-width="0.55"/><circle cx="333.8" cy="241.0" r="1.62" fill="#1f1f9a" stroke="#0a0a45" stroke-width="0.55"/><circle cx="337.2" cy="241.0" r="1.62" fill="#1f1f9a" stroke="#0a0a45" stroke-width="0.55"/><circle cx="320.3" cy="240.8" r="1.62" fill="#1f1f9a" stroke="#0a0a45" stroke-width="0.55"/><circle cx="336.1" cy="240.5" r="1.62" fill="#1f1f9a" stroke="#0a0a45" stroke-width="0.55"/><circle cx="316.8" cy="240.0" r="1.62" fill="#1f1f9a" stroke="#0a0a45" stroke-width="0.55"/><circle cx="335.9" cy="239.7" r="1.62" fill="#1f1f9a" stroke="#0a0a45" stroke-width="0.55"/><circle cx="338.0" cy="239.5" r="1.62" fill="#1f1f9a" stroke="#0a0a45" stroke-width="0.55"/><circle cx="323.6" cy="239.0" r="1.62" fill="#1f1f9a" stroke="#0a0a45" stroke-width="0.55"/><circle cx="324.9" cy="238.9" r="1.62" fill="#1f1f9a" stroke="#0a0a45" stroke-width="0.55"/><circle cx="320.7" cy="238.9" r="1.62" fill="#1f1f9a" stroke="#0a0a45" stroke-width="0.55"/><circle cx="330.4" cy="237.8" r="1.62" fill="#1f1f9a" stroke="#0a0a45" stroke-width="0.55"/><circle cx="327.4" cy="237.7" r="1.62" fill="#1f1f9a" stroke="#0a0a45" stroke-width="0.55"/><circle cx="335.0" cy="237.4" r="1.62" fill="#1f1f9a" stroke="#0a0a45" stroke-width="0.55"/><circle cx="327.0" cy="232.5" r="1.62" fill="#1f1f9a" stroke="#0a0a45" stroke-width="0.55"/><circle cx="318.5" cy="271.5" r="1.62" fill="#1f1f9a" stroke="#0a0a45" stroke-width="0.55"/><circle cx="323.0" cy="270.8" r="1.62" fill="#1f1f9a" stroke="#0a0a45" stroke-width="0.55"/><circle cx="331.5" cy="271.3" r="1.62" fill="#1f1f9a" stroke="#0a0a45" stroke-width="0.55"/><circle cx="336.0" cy="272.2" r="1.62" fill="#1f1f9a" stroke="#0a0a45" stroke-width="0.55"/><circle cx="320.5" cy="275.2" r="1.62" fill="#1f1f9a" stroke="#0a0a45" stroke-width="0.55"/><circle cx="327.0" cy="274.8" r="1.62" fill="#1f1f9a" stroke="#0a0a45" stroke-width="0.55"/><circle cx="333.5" cy="275.5" r="1.62" fill="#1f1f9a" stroke="#0a0a45" stroke-width="0.55"/><circle cx="323.0" cy="279.0" r="1.62" fill="#1f1f9a" stroke="#0a0a45" stroke-width="0.55"/><circle cx="330.5" cy="278.6" r="1.62" fill="#1f1f9a" stroke="#0a0a45" stroke-width="0.55"/>
<circle cx="364.6" cy="218.8" r="1.62" fill="#8e1422" stroke="#3a0508" stroke-width="0.55"/><circle cx="355.5" cy="229.8" r="1.62" fill="#8e1422" stroke="#3a0508" stroke-width="0.55"/><circle cx="360.2" cy="228.9" r="1.62" fill="#8e1422" stroke="#3a0508" stroke-width="0.55"/><circle cx="365.0" cy="230.2" r="1.62" fill="#8e1422" stroke="#3a0508" stroke-width="0.55"/><circle cx="369.6" cy="229.1" r="1.62" fill="#8e1422" stroke="#3a0508" stroke-width="0.55"/><circle cx="374.2" cy="228.4" r="1.62" fill="#8e1422" stroke="#3a0508" stroke-width="0.55"/><circle cx="355.0" cy="235.0" r="1.62" fill="#8e1422" stroke="#3a0508" stroke-width="0.55"/><circle cx="359.8" cy="233.6" r="1.62" fill="#8e1422" stroke="#3a0508" stroke-width="0.55"/><circle cx="366.6" cy="234.4" r="1.62" fill="#8e1422" stroke="#3a0508" stroke-width="0.55"/><circle cx="374.4" cy="233.2" r="1.62" fill="#8e1422" stroke="#3a0508" stroke-width="0.55"/><circle cx="357.5" cy="239.5" r="1.62" fill="#8e1422" stroke="#3a0508" stroke-width="0.55"/><circle cx="362.5" cy="238.6" r="1.62" fill="#8e1422" stroke="#3a0508" stroke-width="0.55"/><circle cx="370.5" cy="238.2" r="1.62" fill="#8e1422" stroke="#3a0508" stroke-width="0.55"/><circle cx="365.0" cy="272.0" r="1.62" fill="#8e1422" stroke="#3a0508" stroke-width="0.55"/><circle cx="368.4" cy="271.9" r="1.62" fill="#8e1422" stroke="#3a0508" stroke-width="0.55"/><circle cx="361.6" cy="271.9" r="1.62" fill="#8e1422" stroke="#3a0508" stroke-width="0.55"/><circle cx="371.8" cy="271.8" r="1.62" fill="#8e1422" stroke="#3a0508" stroke-width="0.55"/><circle cx="358.2" cy="271.5" r="1.62" fill="#8e1422" stroke="#3a0508" stroke-width="0.55"/><circle cx="375.2" cy="270.7" r="1.62" fill="#8e1422" stroke="#3a0508" stroke-width="0.55"/><circle cx="354.8" cy="270.7" r="1.62" fill="#8e1422" stroke="#3a0508" stroke-width="0.55"/><circle cx="361.4" cy="269.4" r="1.62" fill="#8e1422" stroke="#3a0508" stroke-width="0.55"/><circle cx="369.6" cy="269.0" r="1.62" fill="#8e1422" stroke="#3a0508" stroke-width="0.55"/><circle cx="366.2" cy="268.9" r="1.62" fill="#8e1422" stroke="#3a0508" stroke-width="0.55"/><circle cx="357.5" cy="268.4" r="1.62" fill="#8e1422" stroke="#3a0508" stroke-width="0.55"/><circle cx="365.3" cy="268.4" r="1.62" fill="#8e1422" stroke="#3a0508" stroke-width="0.55"/><circle cx="375.2" cy="267.3" r="1.62" fill="#8e1422" stroke="#3a0508" stroke-width="0.55"/><circle cx="354.8" cy="266.8" r="1.62" fill="#8e1422" stroke="#3a0508" stroke-width="0.55"/><circle cx="361.6" cy="266.1" r="1.62" fill="#8e1422" stroke="#3a0508" stroke-width="0.55"/><circle cx="368.4" cy="265.3" r="1.62" fill="#8e1422" stroke="#3a0508" stroke-width="0.55"/><circle cx="371.8" cy="265.3" r="1.62" fill="#8e1422" stroke="#3a0508" stroke-width="0.55"/><circle cx="365.0" cy="265.0" r="1.62" fill="#8e1422" stroke="#3a0508" stroke-width="0.55"/><circle cx="358.2" cy="264.7" r="1.62" fill="#8e1422" stroke="#3a0508" stroke-width="0.55"/><circle cx="373.5" cy="264.6" r="1.62" fill="#8e1422" stroke="#3a0508" stroke-width="0.55"/><circle cx="366.5" cy="264.5" r="1.62" fill="#8e1422" stroke="#3a0508" stroke-width="0.55"/><circle cx="373.4" cy="264.4" r="1.62" fill="#8e1422" stroke="#3a0508" stroke-width="0.55"/><circle cx="356.3" cy="264.1" r="1.62" fill="#8e1422" stroke="#3a0508" stroke-width="0.55"/><circle cx="364.3" cy="264.0" r="1.62" fill="#8e1422" stroke="#3a0508" stroke-width="0.55"/><circle cx="363.7" cy="263.8" r="1.62" fill="#8e1422" stroke="#3a0508" stroke-width="0.55"/><circle cx="357.7" cy="263.3" r="1.62" fill="#8e1422" stroke="#3a0508" stroke-width="0.55"/><circle cx="370.1" cy="262.8" r="1.62" fill="#8e1422" stroke="#3a0508" stroke-width="0.55"/><circle cx="357.5" cy="262.4" r="1.62" fill="#8e1422" stroke="#3a0508" stroke-width="0.55"/><circle cx="355.8" cy="262.3" r="1.62" fill="#8e1422" stroke="#3a0508" stroke-width="0.55"/><circle cx="360.3" cy="262.0" r="1.62" fill="#8e1422" stroke="#3a0508" stroke-width="0.55"/><circle cx="365.0" cy="260.9" r="1.62" fill="#8e1422" stroke="#3a0508" stroke-width="0.55"/><circle cx="375.2" cy="260.8" r="1.62" fill="#8e1422" stroke="#3a0508" stroke-width="0.55"/><circle cx="368.4" cy="259.9" r="1.62" fill="#8e1422" stroke="#3a0508" stroke-width="0.55"/><circle cx="371.8" cy="259.5" r="1.62" fill="#8e1422" stroke="#3a0508" stroke-width="0.55"/><circle cx="358.2" cy="259.2" r="1.62" fill="#8e1422" stroke="#3a0508" stroke-width="0.55"/><circle cx="361.6" cy="258.5" r="1.62" fill="#8e1422" stroke="#3a0508" stroke-width="0.55"/><circle cx="354.8" cy="258.3" r="1.62" fill="#8e1422" stroke="#3a0508" stroke-width="0.55"/><circle cx="364.0" cy="258.3" r="1.62" fill="#8e1422" stroke="#3a0508" stroke-width="0.55"/><circle cx="368.1" cy="258.0" r="1.62" fill="#8e1422" stroke="#3a0508" stroke-width="0.55"/><circle cx="369.9" cy="257.7" r="1.62" fill="#8e1422" stroke="#3a0508" stroke-width="0.55"/><circle cx="375.2" cy="257.0" r="1.62" fill="#8e1422" stroke="#3a0508" stroke-width="0.55"/><circle cx="359.6" cy="256.3" r="1.62" fill="#8e1422" stroke="#3a0508" stroke-width="0.55"/><circle cx="363.9" cy="255.9" r="1.62" fill="#8e1422" stroke="#3a0508" stroke-width="0.55"/><circle cx="366.7" cy="255.8" r="1.62" fill="#8e1422" stroke="#3a0508" stroke-width="0.55"/><circle cx="370.2" cy="255.6" r="1.62" fill="#8e1422" stroke="#3a0508" stroke-width="0.55"/><circle cx="374.9" cy="255.4" r="1.62" fill="#8e1422" stroke="#3a0508" stroke-width="0.55"/><circle cx="354.8" cy="254.0" r="1.62" fill="#8e1422" stroke="#3a0508" stroke-width="0.55"/><circle cx="361.6" cy="253.8" r="1.62" fill="#8e1422" stroke="#3a0508" stroke-width="0.55"/><circle cx="371.9" cy="253.5" r="1.62" fill="#8e1422" stroke="#3a0508" stroke-width="0.55"/><circle cx="358.2" cy="253.2" r="1.62" fill="#8e1422" stroke="#3a0508" stroke-width="0.55"/><circle cx="365.0" cy="252.7" r="1.62" fill="#8e1422" stroke="#3a0508" stroke-width="0.55"/><circle cx="368.4" cy="252.3" r="1.62" fill="#8e1422" stroke="#3a0508" stroke-width="0.55"/><circle cx="375.2" cy="252.0" r="1.62" fill="#8e1422" stroke="#3a0508" stroke-width="0.55"/><circle cx="373.5" cy="251.8" r="1.62" fill="#8e1422" stroke="#3a0508" stroke-width="0.55"/><circle cx="369.1" cy="251.1" r="1.62" fill="#8e1422" stroke="#3a0508" stroke-width="0.55"/><circle cx="368.2" cy="251.0" r="1.62" fill="#8e1422" stroke="#3a0508" stroke-width="0.55"/><circle cx="354.8" cy="250.7" r="1.62" fill="#8e1422" stroke="#3a0508" stroke-width="0.55"/><circle cx="361.6" cy="250.0" r="1.62" fill="#8e1422" stroke="#3a0508" stroke-width="0.55"/><circle cx="358.2" cy="249.7" r="1.62" fill="#8e1422" stroke="#3a0508" stroke-width="0.55"/><circle cx="365.0" cy="249.5" r="1.62" fill="#8e1422" stroke="#3a0508" stroke-width="0.55"/><circle cx="371.8" cy="248.3" r="1.62" fill="#8e1422" stroke="#3a0508" stroke-width="0.55"/><circle cx="375.2" cy="248.1" r="1.62" fill="#8e1422" stroke="#3a0508" stroke-width="0.55"/><circle cx="375.0" cy="247.9" r="1.62" fill="#8e1422" stroke="#3a0508" stroke-width="0.55"/><circle cx="368.4" cy="247.8" r="1.62" fill="#8e1422" stroke="#3a0508" stroke-width="0.55"/><circle cx="374.9" cy="247.8" r="1.62" fill="#8e1422" stroke="#3a0508" stroke-width="0.55"/><circle cx="354.8" cy="247.5" r="1.62" fill="#8e1422" stroke="#3a0508" stroke-width="0.55"/><circle cx="370.3" cy="247.4" r="1.62" fill="#8e1422" stroke="#3a0508" stroke-width="0.55"/><circle cx="358.9" cy="247.2" r="1.62" fill="#8e1422" stroke="#3a0508" stroke-width="0.55"/><circle cx="373.6" cy="247.1" r="1.62" fill="#8e1422" stroke="#3a0508" stroke-width="0.55"/><circle cx="361.8" cy="246.7" r="1.62" fill="#8e1422" stroke="#3a0508" stroke-width="0.55"/><circle cx="355.3" cy="246.5" r="1.62" fill="#8e1422" stroke="#3a0508" stroke-width="0.55"/><circle cx="365.0" cy="245.6" r="1.62" fill="#8e1422" stroke="#3a0508" stroke-width="0.55"/><circle cx="368.4" cy="244.6" r="1.62" fill="#8e1422" stroke="#3a0508" stroke-width="0.55"/><circle cx="361.6" cy="243.6" r="1.62" fill="#8e1422" stroke="#3a0508" stroke-width="0.55"/><circle cx="371.8" cy="242.5" r="1.62" fill="#8e1422" stroke="#3a0508" stroke-width="0.55"/><circle cx="365.0" cy="241.8" r="1.62" fill="#8e1422" stroke="#3a0508" stroke-width="0.55"/><circle cx="358.2" cy="241.7" r="1.62" fill="#8e1422" stroke="#3a0508" stroke-width="0.55"/><circle cx="368.4" cy="241.5" r="1.62" fill="#8e1422" stroke="#3a0508" stroke-width="0.55"/>
<circle cx="400.4" cy="209.6" r="1.75" fill="#245a24" stroke="#0a250a" stroke-width="0.55"/><circle cx="405.0" cy="210.4" r="1.75" fill="#245a24" stroke="#0a250a" stroke-width="0.55"/><circle cx="409.6" cy="211.2" r="1.75" fill="#245a24" stroke="#0a250a" stroke-width="0.55"/><circle cx="414.2" cy="209.6" r="1.75" fill="#245a24" stroke="#0a250a" stroke-width="0.55"/><circle cx="405.0" cy="212.7" r="1.75" fill="#245a24" stroke="#0a250a" stroke-width="0.55"/><circle cx="409.6" cy="216.1" r="1.75" fill="#245a24" stroke="#0a250a" stroke-width="0.55"/><circle cx="414.2" cy="216.1" r="1.75" fill="#245a24" stroke="#0a250a" stroke-width="0.55"/><circle cx="405.0" cy="217.6" r="1.75" fill="#245a24" stroke="#0a250a" stroke-width="0.55"/><circle cx="400.4" cy="219.6" r="1.75" fill="#245a24" stroke="#0a250a" stroke-width="0.55"/><circle cx="405.0" cy="220.4" r="1.75" fill="#245a24" stroke="#0a250a" stroke-width="0.55"/><circle cx="414.2" cy="220.7" r="1.75" fill="#245a24" stroke="#0a250a" stroke-width="0.55"/><circle cx="418.8" cy="219.6" r="1.75" fill="#245a24" stroke="#0a250a" stroke-width="0.55"/><circle cx="409.6" cy="222.7" r="1.75" fill="#245a24" stroke="#0a250a" stroke-width="0.55"/><circle cx="401.2" cy="225.8" r="1.75" fill="#245a24" stroke="#0a250a" stroke-width="0.55"/><circle cx="405.0" cy="225.0" r="1.75" fill="#245a24" stroke="#0a250a" stroke-width="0.55"/><circle cx="409.6" cy="226.5" r="1.75" fill="#245a24" stroke="#0a250a" stroke-width="0.55"/><circle cx="414.2" cy="225.0" r="1.75" fill="#245a24" stroke="#0a250a" stroke-width="0.55"/><circle cx="418.1" cy="226.2" r="1.75" fill="#245a24" stroke="#0a250a" stroke-width="0.55"/><circle cx="407.3" cy="228.1" r="1.75" fill="#245a24" stroke="#0a250a" stroke-width="0.55"/><circle cx="402.7" cy="228.1" r="1.75" fill="#245a24" stroke="#0a250a" stroke-width="0.55"/><circle cx="411.9" cy="228.8" r="1.75" fill="#245a24" stroke="#0a250a" stroke-width="0.55"/><circle cx="416.5" cy="228.1" r="1.75" fill="#245a24" stroke="#0a250a" stroke-width="0.55"/><circle cx="419.6" cy="228.1" r="1.75" fill="#245a24" stroke="#0a250a" stroke-width="0.55"/><circle cx="405.0" cy="231.9" r="1.75" fill="#245a24" stroke="#0a250a" stroke-width="0.55"/><circle cx="409.6" cy="231.2" r="1.75" fill="#245a24" stroke="#0a250a" stroke-width="0.55"/><circle cx="414.2" cy="232.4" r="1.75" fill="#245a24" stroke="#0a250a" stroke-width="0.55"/><circle cx="409.6" cy="236.5" r="1.75" fill="#245a24" stroke="#0a250a" stroke-width="0.55"/><circle cx="409.6" cy="248.8" r="1.75" fill="#245a24" stroke="#0a250a" stroke-width="0.55"/><circle cx="414.2" cy="246.2" r="1.75" fill="#245a24" stroke="#0a250a" stroke-width="0.55"/>
<circle cx="443.5" cy="246.5" r="1.75" fill="#1c1c8c" stroke="#0a0a45" stroke-width="0.55"/><circle cx="448.2" cy="249.5" r="1.75" fill="#1c1c8c" stroke="#0a0a45" stroke-width="0.55"/><circle cx="448.2" cy="257.2" r="1.75" fill="#1c1c8c" stroke="#0a0a45" stroke-width="0.55"/><circle cx="448.2" cy="262.3" r="1.75" fill="#1c1c8c" stroke="#0a0a45" stroke-width="0.55"/><circle cx="443.5" cy="264.6" r="1.75" fill="#1c1c8c" stroke="#0a0a45" stroke-width="0.55"/><circle cx="438.9" cy="270.8" r="1.75" fill="#1c1c8c" stroke="#0a0a45" stroke-width="0.55"/><circle cx="443.5" cy="272.3" r="1.75" fill="#1c1c8c" stroke="#0a0a45" stroke-width="0.55"/><circle cx="448.2" cy="269.2" r="1.75" fill="#1c1c8c" stroke="#0a0a45" stroke-width="0.55"/><circle cx="452.8" cy="267.7" r="1.75" fill="#1c1c8c" stroke="#0a0a45" stroke-width="0.55"/><circle cx="452.8" cy="271.5" r="1.75" fill="#1c1c8c" stroke="#0a0a45" stroke-width="0.55"/><circle cx="457.4" cy="272.3" r="1.75" fill="#1c1c8c" stroke="#0a0a45" stroke-width="0.55"/><circle cx="440.0" cy="276.9" r="1.75" fill="#1c1c8c" stroke="#0a0a45" stroke-width="0.55"/><circle cx="444.6" cy="276.6" r="1.75" fill="#1c1c8c" stroke="#0a0a45" stroke-width="0.55"/><circle cx="448.2" cy="275.4" r="1.75" fill="#1c1c8c" stroke="#0a0a45" stroke-width="0.55"/><circle cx="451.2" cy="276.9" r="1.75" fill="#1c1c8c" stroke="#0a0a45" stroke-width="0.55"/><circle cx="455.4" cy="276.2" r="1.75" fill="#1c1c8c" stroke="#0a0a45" stroke-width="0.55"/><circle cx="441.5" cy="279.7" r="1.75" fill="#1c1c8c" stroke="#0a0a45" stroke-width="0.55"/><circle cx="445.4" cy="280.3" r="1.75" fill="#1c1c8c" stroke="#0a0a45" stroke-width="0.55"/><circle cx="449.2" cy="280.3" r="1.75" fill="#1c1c8c" stroke="#0a0a45" stroke-width="0.55"/><circle cx="453.1" cy="280.0" r="1.75" fill="#1c1c8c" stroke="#0a0a45" stroke-width="0.55"/><circle cx="457.4" cy="280.0" r="1.75" fill="#1c1c8c" stroke="#0a0a45" stroke-width="0.55"/>
<circle cx="481.6" cy="262.2" r="1.75" fill="#8e1422" stroke="#3a0508" stroke-width="0.55"/><circle cx="486.2" cy="264.2" r="1.75" fill="#8e1422" stroke="#3a0508" stroke-width="0.55"/><circle cx="490.8" cy="262.8" r="1.75" fill="#8e1422" stroke="#3a0508" stroke-width="0.55"/><circle cx="483.7" cy="270.5" r="1.75" fill="#8e1422" stroke="#3a0508" stroke-width="0.55"/><circle cx="487.5" cy="270.2" r="1.75" fill="#8e1422" stroke="#3a0508" stroke-width="0.55"/><circle cx="477.0" cy="272.5" r="1.75" fill="#8e1422" stroke="#3a0508" stroke-width="0.55"/><circle cx="481.2" cy="272.5" r="1.75" fill="#8e1422" stroke="#3a0508" stroke-width="0.55"/><circle cx="493.3" cy="272.5" r="1.75" fill="#8e1422" stroke="#3a0508" stroke-width="0.55"/><circle cx="495.8" cy="273.0" r="1.75" fill="#8e1422" stroke="#3a0508" stroke-width="0.55"/><circle cx="479.0" cy="275.2" r="1.75" fill="#8e1422" stroke="#3a0508" stroke-width="0.55"/><circle cx="483.0" cy="275.2" r="1.75" fill="#8e1422" stroke="#3a0508" stroke-width="0.55"/><circle cx="487.0" cy="275.2" r="1.75" fill="#8e1422" stroke="#3a0508" stroke-width="0.55"/><circle cx="491.0" cy="275.2" r="1.75" fill="#8e1422" stroke="#3a0508" stroke-width="0.55"/><circle cx="476.5" cy="278.0" r="1.75" fill="#8e1422" stroke="#3a0508" stroke-width="0.55"/><circle cx="480.0" cy="278.0" r="1.75" fill="#8e1422" stroke="#3a0508" stroke-width="0.55"/><circle cx="484.0" cy="278.0" r="1.75" fill="#8e1422" stroke="#3a0508" stroke-width="0.55"/><circle cx="488.0" cy="278.0" r="1.75" fill="#8e1422" stroke="#3a0508" stroke-width="0.55"/><circle cx="492.0" cy="278.0" r="1.75" fill="#8e1422" stroke="#3a0508" stroke-width="0.55"/><circle cx="496.0" cy="278.0" r="1.75" fill="#8e1422" stroke="#3a0508" stroke-width="0.55"/><circle cx="482.0" cy="279.8" r="1.75" fill="#8e1422" stroke="#3a0508" stroke-width="0.55"/><circle cx="486.0" cy="279.8" r="1.75" fill="#8e1422" stroke="#3a0508" stroke-width="0.55"/><circle cx="490.0" cy="279.8" r="1.75" fill="#8e1422" stroke="#3a0508" stroke-width="0.55"/><circle cx="494.0" cy="279.8" r="1.75" fill="#8e1422" stroke="#3a0508" stroke-width="0.55"/>
<path d="M151 248.2H177.5" stroke="#333" stroke-width="0.85"/>
<path d="M191.4 243.1H216" stroke="#333" stroke-width="0.85"/>
<path d="M397.3 224.5H422" stroke="#333" stroke-width="0.85"/>
<path d="M436 271.5H459" stroke="#333" stroke-width="0.85"/>
<path d="M228.8 275.4H253.8" stroke="#333" stroke-width="0.85"/>
<path d="M473.7 274.2H498.7" stroke="#333" stroke-width="0.85"/>
<text x="148" y="224" font-size="6.75" fill="#4a8f4a"><tspan font-style="italic">P</tspan> &lt; .0001</text>
<text x="187.3" y="213.6" font-size="6.75" fill="#3535a0"><tspan font-style="italic">P</tspan> &lt; .0001</text>
<text x="229.6" y="256.1" font-size="6.75" fill="#a83030"><tspan font-style="italic">P</tspan> = n.s</text>
<text x="270.8" y="226.6" font-size="6.75" fill="#4a8f4a"><tspan font-style="italic">P</tspan> &lt; .0001</text>
<text x="310.2" y="223.1" font-size="6.75" fill="#3535a0"><tspan font-style="italic">P</tspan> &lt; .0001</text>
<text x="348.6" y="212.7" font-size="6.75" fill="#a83030"><tspan font-style="italic">P</tspan> &lt; .0001</text>
<text x="395.8" y="200.2" font-size="6.75" fill="#4a8f4a"><tspan font-style="italic">P</tspan> = n.s.</text>
<text x="435.2" y="240" font-size="6.75" fill="#3535a0"><tspan font-style="italic">P</tspan> = n.s.</text>
<text x="476.6" y="254.4" font-size="6.75" fill="#a83030"><tspan font-style="italic">P</tspan> = n.s</text>
</svg>
</body></html>
